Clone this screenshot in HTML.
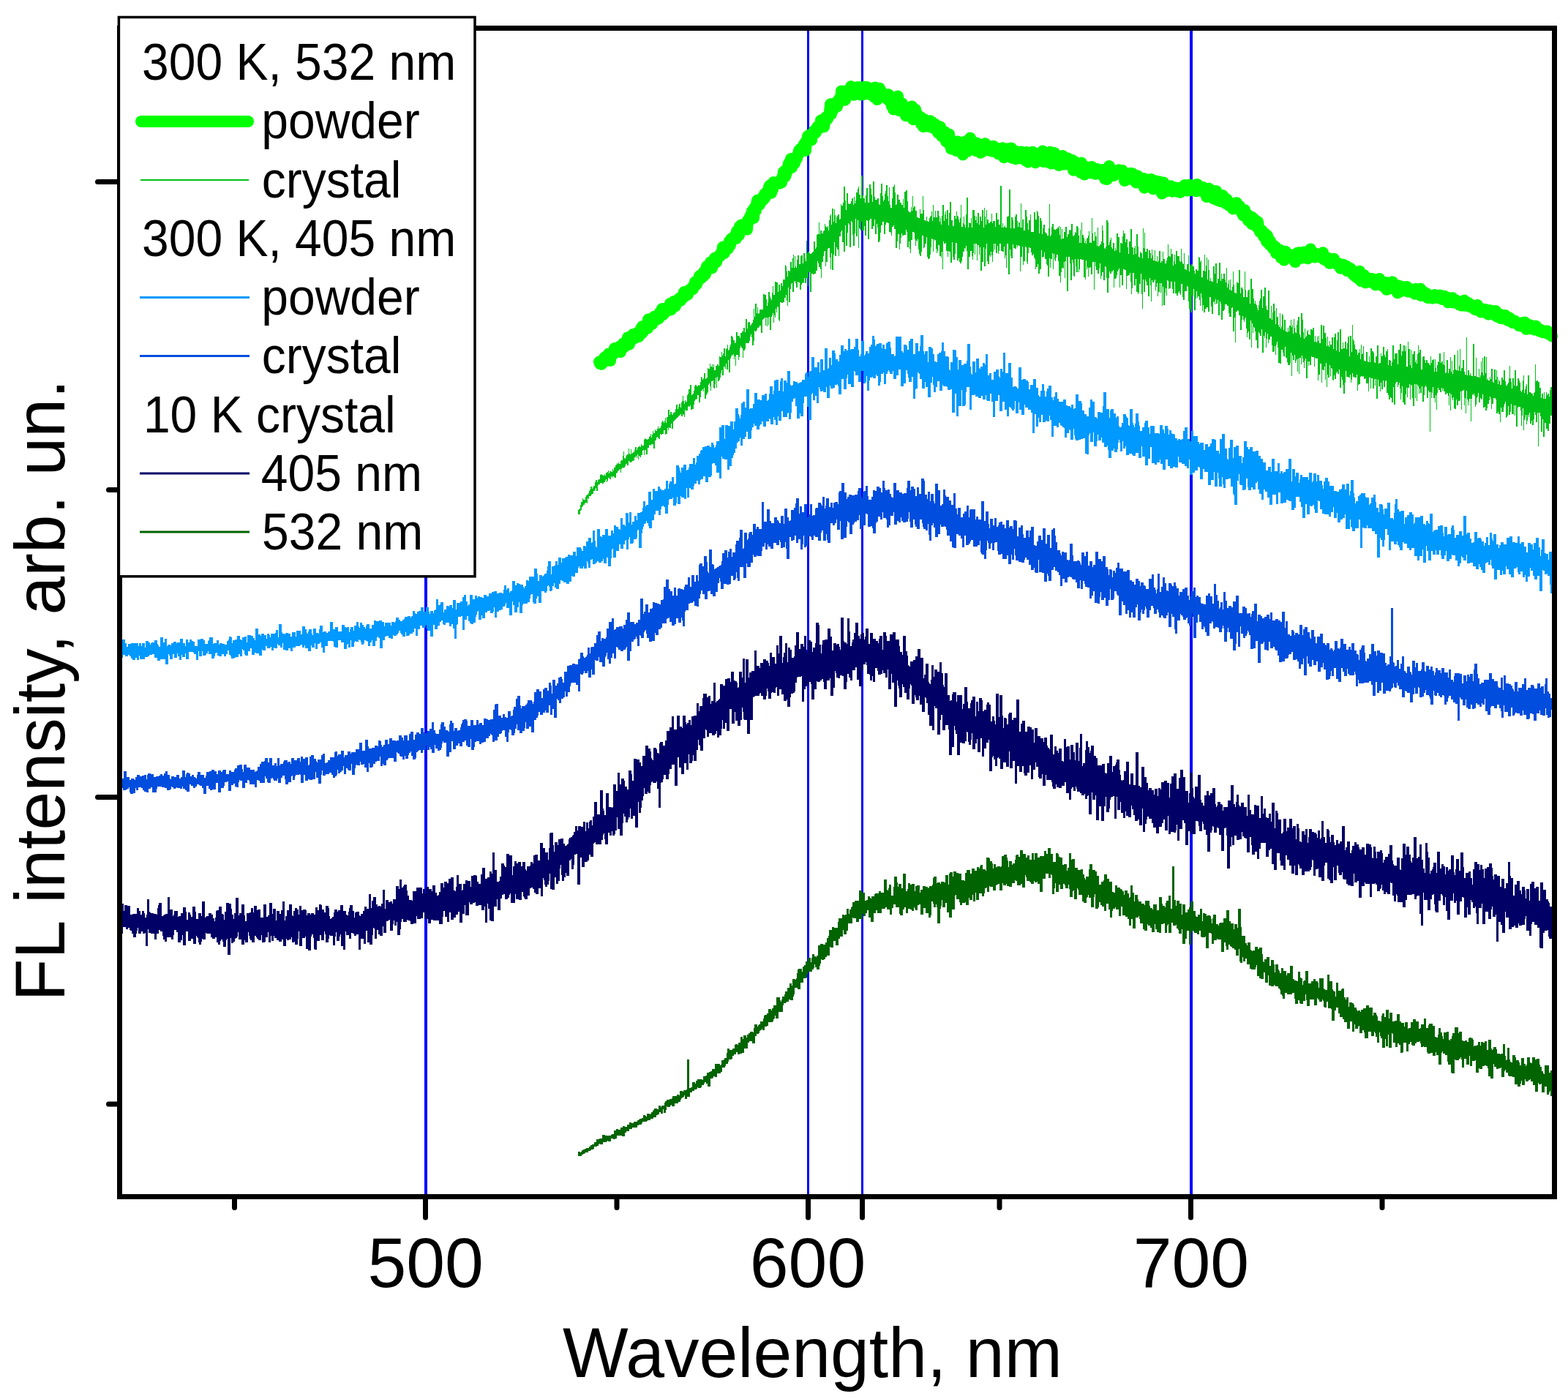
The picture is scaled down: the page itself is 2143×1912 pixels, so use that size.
<!DOCTYPE html>
<html><head><meta charset="utf-8"><title>FL spectra</title>
<style>
html,body{margin:0;padding:0;background:#fff;}
svg{display:block;}
text{font-family:"Liberation Sans",Arial,sans-serif;fill:#000;}
</style></head>
<body>
<svg xmlns="http://www.w3.org/2000/svg" width="2143" height="1912" viewBox="0 0 2143 1912">
<rect x="0" y="0" width="2143" height="1912" fill="#fff"/>
<g fill="#0000FF">
<rect x="580" y="41" width="4" height="1592"/>
<rect x="1103" y="41" width="3" height="1592"/>
<rect x="1177" y="41" width="3" height="1592"/>
<rect x="1626" y="41" width="4" height="1592"/>
</g>
<g>
<path d="M790 697h1V696h1V695h1V690h1V686h1V686h1V681h1V683h1V683h1V683h1V679h1V677h1V676h1V676h1V674h1V671h1V669h1V665h1V665h1V668h1V666h1V664h1V664h1V659h1V656h1V656h1V659h1V656h1V655h1V655h1V649h1V648h1V649h1V649h1V650h1V650h1V648h1V650h1V646h1V646h1V645h1V643h1V647h1V644h1V644h1V645h1V645h1V641h1V643h1V639h1V639h1V636h1V635h1V633h1V634h1V632h1V634h1V634h1V630h1V629h1V629h1V623h1V617h1V626h1V627h1V624h1V622h1V621h1V621h1V613h1V620h1V621h1V614h1V620h1V619h1V618h1V618h1V615h1V611h1V611h1V615h1V612h1V611h1V610h1V610h1V611h1V607h1V609h1V609h1V609h1V601h1V599h1V600h1V600h1V601h1V600h1V600h1V597h1V596h1V593h1V598h1V594h1V589h1V592h1V592h1V587h1V589h1V589h1V586h1V583h1V586h1V585h1V585h1V582h1V577h1V575h1V576h1V578h1V575h1V571h1V578h1V570h1V570h1V560h1V560h1V567h1V563h1V563h1V566h1V567h1V564h1V564h1V563h1V559h1V553h1V553h1V559h1V556h1V552h1V552h1V557h1V550h1V548h1V541h1V548h1V552h1V547h1V549h1V549h1V540h1V538h1V532h1V532h1V526h1V526h1V540h1V539h1V538h1V534h1V528h1V526h1V526h1V528h1V528h1V526h1V527h1V526h1V522h1V515h1V516h1V519h1V517h1V510h1V510h1V518h1V517h1V516h1V503h1V504h1V504h1V497h1V501h1V501h1V498h1V502h1V498h1V506h1V506h1V500h1V500h1V498h1V498h1V500h1V487h1V488h1V488h1V481h1V486h1V483h1V476h1V476h1V487h1V477h1V476h1V471h1V479h1V478h1V474h1V471h1V459h1V459h1V461h1V465h1V465h1V469h1V468h1V454h1V454h1V459h1V459h1V459h1V462h1V455h1V455h1V453h1V453h1V448h1V448h1V454h1V436h1V436h1V449h1V441h1V440h1V440h1V445h1V444h1V442h1V441h1V437h1V422h1V433h1V415h1V415h1V428h1V420h1V429h1V428h1V423h1V423h1V423h1V423h1V423h1V402h1V402h1V403h1V403h1V409h1V418h1V413h1V399h1V399h1V405h1V408h1V410h1V400h1V391h1V403h1V403h1V385h1V385h1V386h1V386h1V399h1V389h1V389h1V397h1V387h1V387h1V391h1V382h1V382h1V382h1V362h1V364h1V371h1V378h1V370h1V370h1V371h1V358h1V358h1V366h1V353h1V348h1V366h1V350h1V364h1V366h1V355h1V349h1V349h1V361h1V361h1V350h1V349h1V349h1V360h1V346h1V346h1V353h1V357h1V329h1V346h1V344h1V344h1V346h1V347h1V347h1V346h1V345h1V344h1V330h1V330h1V340h1V338h1V321h1V320h1V320h1V304h1V320h1V315h1V315h1V319h1V319h1V316h1V315h1V306h1V309h1V310h1V311h1V309h1V315h1V301h1V295h1V293h1V307h1V285h1V285h1V303h1V286h1V294h1V305h1V297h1V295h1V293h1V293h1V300h1V299h1V279h1V281h1V281h1V277h1V255h1V255h1V274h1V287h1V264h1V264h1V278h1V279h1V279h1V278h1V275h1V271h1V271h1V280h1V269h1V278h1V274h1V263h1V263h1V258h1V255h1V266h1V266h1V271h1V240h1V240h1V267h1V271h1V271h1V277h1V267h1V257h1V257h1V277h1V277h1V252h1V252h1V258h1V266h1V276h1V248h1V248h1V269h1V273h1V273h1V273h1V271h1V271h1V279h1V280h1V264h1V251h1V251h1V268h1V275h1V273h1V265h1V261h1V253h1V253h1V268h1V275h1V256h1V280h1V284h1V284h1V271h1V255h1V255h1V252h1V263h1V280h1V279h1V266h1V266h1V273h1V273h1V277h1V277h1V280h1V280h1V272h1V284h1V262h1V262h1V260h1V260h1V275h1V288h1V290h1V290h1V290h1V283h1V288h1V268h1V284h1V282h1V282h1V288h1V288h1V297h1V297h1V298h1V298h1V286h1V292h1V292h1V292h1V268h1V287h1V301h1V301h1V302h1V296h1V302h1V303h1V303h1V298h1V296h1V295h1V289h1V302h1V280h1V297h1V297h1V288h1V297h1V297h1V288h1V288h1V295h1V303h1V298h1V307h1V295h1V280h1V280h1V302h1V293h1V289h1V299h1V287h1V287h1V308h1V291h1V276h1V276h1V301h1V301h1V309h1V309h1V295h1V295h1V299h1V289h1V295h1V296h1V300h1V304h1V298h1V280h1V310h1V310h1V305h1V296h1V307h1V311h1V293h1V270h1V270h1V311h1V304h1V305h1V305h1V298h1V311h1V287h1V287h1V287h1V295h1V301h1V296h1V305h1V291h1V291h1V307h1V296h1V296h1V302h1V287h1V287h1V311h1V284h1V296h1V307h1V287h1V300h1V300h1V305h1V305h1V303h1V303h1V292h1V305h1V302h1V302h1V302h1V310h1V291h1V291h1V300h1V300h1V307h1V307h1V254h1V254h1V311h1V305h1V311h1V310h1V308h1V311h1V311h1V296h1V296h1V295h1V259h1V259h1V312h1V297h1V297h1V301h1V312h1V312h1V296h1V293h1V293h1V302h1V310h1V304h1V304h1V311h1V278h1V311h1V300h1V300h1V315h1V315h1V287h1V287h1V296h1V305h1V314h1V301h1V301h1V293h1V317h1V317h1V317h1V317h1V290h1V290h1V300h1V300h1V288h1V290h1V295h1V319h1V298h1V298h1V302h1V320h1V312h1V307h1V307h1V317h1V319h1V319h1V322h1V322h1V312h1V279h1V323h1V321h1V310h1V306h1V306h1V313h1V314h1V314h1V313h1V313h1V311h1V311h1V309h1V321h1V310h1V327h1V313h1V326h1V326h1V317h1V317h1V310h1V310h1V324h1V320h1V320h1V314h1V315h1V314h1V306h1V306h1V322h1V323h1V321h1V317h1V318h1V309h1V309h1V311h1V322h1V332h1V314h1V332h1V304h1V321h1V321h1V325h1V332h1V329h1V333h1V326h1V325h1V322h1V316h1V332h1V331h1V332h1V298h1V319h1V329h1V329h1V317h1V323h1V323h1V336h1V311h1V337h1V336h1V334h1V334h1V330h1V308h1V315h1V332h1V339h1V340h1V337h1V301h1V301h1V304h1V335h1V331h1V328h1V325h1V338h1V340h1V332h1V332h1V343h1V339h1V342h1V319h1V319h1V324h1V324h1V345h1V332h1V332h1V333h1V323h1V315h1V319h1V319h1V331h1V327h1V327h1V338h1V347h1V330h1V330h1V313h1V313h1V338h1V338h1V348h1V339h1V336h1V347h1V320h1V320h1V337h1V351h1V352h1V344h1V346h1V346h1V353h1V312h1V339h1V318h1V344h1V344h1V340h1V340h1V353h1V342h1V342h1V346h1V353h1V341h1V349h1V356h1V356h1V342h1V357h1V357h1V350h1V358h1V356h1V343h1V343h1V359h1V357h1V357h1V344h1V354h1V354h1V360h1V360h1V356h1V352h1V334h1V350h1V350h1V351h1V340h1V347h1V347h1V363h1V357h1V348h1V361h1V343h1V343h1V350h1V350h1V350h1V357h1V358h1V340h1V357h1V360h1V361h1V346h1V368h1V368h1V369h1V361h1V361h1V349h1V371h1V362h1V363h1V361h1V361h1V364h1V364h1V370h1V374h1V368h1V368h1V370h1V370h1V351h1V352h1V358h1V356h1V379h1V379h1V370h1V370h1V348h1V371h1V363h1V352h1V382h1V355h1V369h1V384h1V380h1V384h1V385h1V385h1V364h1V364h1V374h1V360h1V360h1V387h1V381h1V381h1V359h1V359h1V384h1V374h1V381h1V381h1V374h1V374h1V382h1V386h1V366h1V393h1V388h1V383h1V396h1V382h1V397h1V397h1V392h1V371h1V389h1V400h1V400h1V401h1V386h1V386h1V387h1V369h1V369h1V401h1V393h1V393h1V395h1V406h1V406h1V371h1V396h1V406h1V406h1V398h1V396h1V396h1V415h1V381h1V381h1V395h1V395h1V408h1V415h1V411h1V415h1V417h1V421h1V424h1V417h1V411h1V408h1V396h1V396h1V421h1V405h1V405h1V393h1V393h1V418h1V423h1V424h1V397h1V397h1V435h1V435h1V418h1V437h1V427h1V415h1V415h1V425h1V443h1V421h1V433h1V433h1V444h1V447h1V428h1V449h1V446h1V429h1V431h1V451h1V437h1V437h1V453h1V453h1V454h1V448h1V453h1V445h1V445h1V437h1V447h1V444h1V456h1V436h1V448h1V454h1V455h1V444h1V438h1V433h1V433h1V457h1V461h1V428h1V428h1V437h1V454h1V463h1V449h1V461h1V459h1V453h1V451h1V457h1V457h1V458h1V450h1V450h1V451h1V448h1V448h1V467h1V459h1V467h1V468h1V460h1V466h1V459h1V469h1V469h1V444h1V444h1V463h1V445h1V445h1V455h1V455h1V462h1V473h1V460h1V472h1V474h1V466h1V471h1V471h1V461h1V461h1V477h1V461h1V456h1V456h1V479h1V465h1V454h1V454h1V481h1V450h1V450h1V477h1V477h1V468h1V476h1V476h1V467h1V467h1V477h1V469h1V461h1V459h1V487h1V459h1V459h1V481h1V444h1V464h1V466h1V471h1V477h1V478h1V478h1V485h1V482h1V482h1V477h1V491h1V471h1V484h1V483h1V473h1V493h1V493h1V494h1V481h1V481h1V494h1V495h1V487h1V495h1V476h1V476h1V480h1V480h1V482h1V495h1V496h1V487h1V487h1V472h1V472h1V497h1V496h1V496h1V483h1V487h1V486h1V474h1V474h1V485h1V488h1V480h1V480h1V477h1V499h1V492h1V492h1V493h1V500h1V495h1V472h1V472h1V491h1V483h1V483h1V483h1V483h1V498h1V478h1V478h1V470h1V470h1V486h1V480h1V480h1V472h1V472h1V480h1V473h1V501h1V501h1V467h1V477h1V477h1V499h1V478h1V503h1V484h1V484h1V480h1V480h1V495h1V492h1V497h1V484h1V472h1V482h1V478h1V478h1V505h1V505h1V488h1V487h1V487h1V492h1V496h1V492h1V492h1V496h1V496h1V498h1V499h1V487h1V496h1V492h1V492h1V491h1V508h1V491h1V503h1V508h1V499h1V494h1V495h1V483h1V483h1V496h1V494h1V494h1V498h1V481h1V499h1V510h1V509h1V492h1V492h1V510h1V504h1V504h1V488h1V508h1V493h1V511h1V506h1V485h1V485h1V505h1V506h1V506h1V479h1V507h1V500h1V477h1V507h1V503h1V503h1V492h1V492h1V508h1V512h1V512h1V461h1V513h1V506h1V506h1V513h1V510h1V513h1V514h1V514h1V470h1V470h1V514h1V514h1V489h1V515h1V515h1V516h1V504h1V516h1V513h1V494h1V509h1V489h1V513h1V487h1V487h1V510h1V488h1V519h1V517h1V520h1V520h1V515h1V518h1V504h1V504h1V522h1V523h1V505h1V505h1V519h1V506h1V515h1V525h1V519h1V521h1V526h1V526h1V516h1V516h1V519h1V506h1V506h1V521h1V527h1V527h1V525h1V523h1V517h1V500h1V517h1V522h1V531h1V517h1V517h1V527h1V506h1V506h1V528h1V527h1V517h1V517h1V520h1V523h1V534h1V536h1V533h1V520h1V513h1V537h1V532h1V528h1V525h1V539h1V513h1V513h1V536h1V536h1V537h1V538h1V538h1V541h1V537h1V536h1V498h1V521h1V520h1V520h1V522h1V522h1V530h1V530h1V544h1V538h1V538h1V545h1V536h1V545h1V545h1V536h1V540h1V538h1V538h1V542h1V533h1V529h1V529h1V568h-1V568h-1V579h-1V579h-1V589h-1V589h-1V586h-1V586h-1V578h-1V578h-1V597h-1V597h-1V573h-1V590h-1V590h-1V569h-1V564h-1V564h-1V610h-1V564h-1V577h-1V577h-1V567h-1V563h-1V573h-1V581h-1V581h-1V575h-1V579h-1V579h-1V564h-1V570h-1V567h-1V575h-1V580h-1V567h-1V571h-1V574h-1V588h-1V558h-1V568h-1V582h-1V561h-1V556h-1V556h-1V556h-1V557h-1V583h-1V583h-1V554h-1V568h-1V554h-1V566h-1V566h-1V566h-1V552h-1V563h-1V567h-1V567h-1V555h-1V568h-1V570h-1V571h-1V549h-1V552h-1V556h-1V563h-1V563h-1V563h-1V557h-1V577h-1V566h-1V566h-1V563h-1V565h-1V565h-1V546h-1V544h-1V544h-1V544h-1V552h-1V552h-1V559h-1V545h-1V542h-1V547h-1V552h-1V552h-1V558h-1V561h-1V561h-1V556h-1V557h-1V557h-1V539h-1V545h-1V546h-1V544h-1V550h-1V550h-1V537h-1V542h-1V544h-1V553h-1V556h-1V541h-1V538h-1V540h-1V539h-1V545h-1V576h-1V545h-1V545h-1V549h-1V554h-1V546h-1V534h-1V565h-1V544h-1V554h-1V533h-1V534h-1V534h-1V560h-1V535h-1V547h-1V548h-1V548h-1V554h-1V554h-1V546h-1V559h-1V559h-1V558h-1V543h-1V547h-1V544h-1V539h-1V561h-1V537h-1V554h-1V541h-1V538h-1V537h-1V539h-1V539h-1V535h-1V535h-1V531h-1V534h-1V530h-1V536h-1V536h-1V533h-1V533h-1V530h-1V537h-1V560h-1V540h-1V550h-1V544h-1V544h-1V529h-1V537h-1V544h-1V536h-1V590h-1V536h-1V534h-1V544h-1V544h-1V529h-1V527h-1V529h-1V540h-1V549h-1V549h-1V528h-1V537h-1V537h-1V531h-1V538h-1V528h-1V526h-1V548h-1V525h-1V544h-1V525h-1V555h-1V555h-1V544h-1V527h-1V526h-1V546h-1V525h-1V530h-1V530h-1V543h-1V530h-1V539h-1V553h-1V553h-1V550h-1V550h-1V528h-1V537h-1V546h-1V531h-1V523h-1V526h-1V529h-1V522h-1V522h-1V524h-1V553h-1V553h-1V529h-1V550h-1V550h-1V544h-1V543h-1V546h-1V546h-1V540h-1V537h-1V537h-1V520h-1V521h-1V529h-1V529h-1V520h-1V532h-1V532h-1V523h-1V535h-1V528h-1V528h-1V519h-1V545h-1V545h-1V518h-1V527h-1V518h-1V531h-1V531h-1V517h-1V517h-1V531h-1V516h-1V516h-1V535h-1V524h-1V524h-1V524h-1V517h-1V518h-1V518h-1V514h-1V515h-1V514h-1V514h-1V515h-1V525h-1V525h-1V526h-1V534h-1V512h-1V516h-1V516h-1V516h-1V515h-1V515h-1V510h-1V519h-1V523h-1V512h-1V516h-1V516h-1V515h-1V515h-1V515h-1V507h-1V523h-1V538h-1V538h-1V526h-1V519h-1V515h-1V530h-1V530h-1V505h-1V511h-1V511h-1V508h-1V510h-1V518h-1V518h-1V513h-1V520h-1V519h-1V504h-1V503h-1V514h-1V499h-1V516h-1V516h-1V512h-1V529h-1V496h-1V519h-1V501h-1V506h-1V506h-1V505h-1V523h-1V497h-1V497h-1V512h-1V512h-1V520h-1V490h-1V490h-1V490h-1V489h-1V501h-1V488h-1V488h-1V488h-1V487h-1V499h-1V499h-1V494h-1V500h-1V494h-1V517h-1V517h-1V490h-1V493h-1V503h-1V495h-1V490h-1V486h-1V498h-1V489h-1V489h-1V511h-1V490h-1V508h-1V491h-1V493h-1V496h-1V485h-1V492h-1V492h-1V486h-1V514h-1V482h-1V496h-1V499h-1V499h-1V499h-1V495h-1V489h-1V489h-1V474h-1V487h-1V487h-1V482h-1V478h-1V478h-1V497h-1V497h-1V496h-1V496h-1V475h-1V467h-1V471h-1V485h-1V473h-1V480h-1V481h-1V481h-1V472h-1V460h-1V460h-1V464h-1V464h-1V469h-1V456h-1V463h-1V475h-1V454h-1V462h-1V459h-1V482h-1V482h-1V450h-1V459h-1V459h-1V456h-1V454h-1V476h-1V476h-1V465h-1V465h-1V453h-1V448h-1V447h-1V455h-1V442h-1V475h-1V438h-1V464h-1V464h-1V453h-1V455h-1V461h-1V449h-1V434h-1V436h-1V440h-1V437h-1V432h-1V437h-1V451h-1V451h-1V431h-1V431h-1V425h-1V424h-1V426h-1V426h-1V468h-1V434h-1V453h-1V453h-1V420h-1V421h-1V433h-1V433h-1V433h-1V428h-1V418h-1V418h-1V416h-1V416h-1V416h-1V423h-1V425h-1V425h-1V437h-1V437h-1V415h-1V412h-1V431h-1V431h-1V410h-1V415h-1V415h-1V409h-1V416h-1V412h-1V413h-1V429h-1V429h-1V419h-1V406h-1V406h-1V426h-1V426h-1V420h-1V420h-1V422h-1V422h-1V427h-1V427h-1V417h-1V425h-1V407h-1V401h-1V418h-1V410h-1V405h-1V405h-1V407h-1V398h-1V408h-1V424h-1V424h-1V395h-1V404h-1V404h-1V427h-1V427h-1V422h-1V422h-1V412h-1V392h-1V391h-1V398h-1V398h-1V398h-1V410h-1V410h-1V406h-1V388h-1V388h-1V403h-1V401h-1V398h-1V400h-1V404h-1V404h-1V401h-1V401h-1V385h-1V401h-1V401h-1V395h-1V385h-1V385h-1V394h-1V394h-1V395h-1V384h-1V383h-1V404h-1V394h-1V400h-1V417h-1V417h-1V392h-1V418h-1V387h-1V400h-1V387h-1V399h-1V399h-1V405h-1V387h-1V392h-1V397h-1V382h-1V384h-1V386h-1V386h-1V383h-1V412h-1V390h-1V380h-1V405h-1V405h-1V390h-1V390h-1V385h-1V382h-1V399h-1V399h-1V382h-1V422h-1V402h-1V374h-1V388h-1V388h-1V400h-1V402h-1V399h-1V399h-1V381h-1V390h-1V390h-1V373h-1V373h-1V394h-1V402h-1V385h-1V373h-1V376h-1V376h-1V377h-1V377h-1V395h-1V369h-1V369h-1V368h-1V368h-1V390h-1V390h-1V376h-1V376h-1V393h-1V367h-1V369h-1V371h-1V376h-1V380h-1V381h-1V381h-1V393h-1V369h-1V371h-1V371h-1V374h-1V374h-1V371h-1V380h-1V400h-1V400h-1V380h-1V365h-1V364h-1V383h-1V383h-1V372h-1V372h-1V377h-1V381h-1V360h-1V367h-1V374h-1V374h-1V369h-1V369h-1V364h-1V358h-1V396h-1V358h-1V358h-1V375h-1V375h-1V365h-1V366h-1V366h-1V378h-1V365h-1V368h-1V356h-1V382h-1V379h-1V379h-1V355h-1V355h-1V355h-1V354h-1V354h-1V368h-1V372h-1V354h-1V372h-1V372h-1V364h-1V354h-1V378h-1V377h-1V359h-1V355h-1V383h-1V383h-1V360h-1V351h-1V351h-1V398h-1V398h-1V351h-1V357h-1V380h-1V358h-1V367h-1V366h-1V366h-1V372h-1V386h-1V377h-1V377h-1V357h-1V348h-1V348h-1V352h-1V357h-1V355h-1V347h-1V368h-1V346h-1V354h-1V354h-1V366h-1V353h-1V378h-1V378h-1V363h-1V361h-1V354h-1V354h-1V345h-1V351h-1V351h-1V352h-1V342h-1V368h-1V368h-1V374h-1V374h-1V361h-1V365h-1V365h-1V368h-1V354h-1V352h-1V347h-1V349h-1V349h-1V345h-1V339h-1V339h-1V338h-1V346h-1V361h-1V358h-1V338h-1V337h-1V357h-1V357h-1V362h-1V337h-1V351h-1V351h-1V371h-1V336h-1V336h-1V335h-1V338h-1V335h-1V340h-1V340h-1V339h-1V339h-1V334h-1V353h-1V353h-1V350h-1V341h-1V375h-1V375h-1V333h-1V333h-1V366h-1V349h-1V353h-1V337h-1V344h-1V344h-1V343h-1V343h-1V333h-1V333h-1V343h-1V347h-1V336h-1V346h-1V346h-1V333h-1V341h-1V333h-1V344h-1V358h-1V349h-1V344h-1V351h-1V349h-1V361h-1V361h-1V357h-1V333h-1V340h-1V364h-1V364h-1V338h-1V358h-1V358h-1V370h-1V370h-1V338h-1V348h-1V335h-1V335h-1V356h-1V333h-1V333h-1V348h-1V333h-1V346h-1V355h-1V350h-1V343h-1V343h-1V351h-1V351h-1V368h-1V368h-1V343h-1V336h-1V340h-1V339h-1V344h-1V344h-1V351h-1V357h-1V360h-1V360h-1V358h-1V353h-1V356h-1V356h-1V332h-1V332h-1V347h-1V355h-1V355h-1V351h-1V331h-1V359h-1V359h-1V344h-1V344h-1V343h-1V351h-1V343h-1V343h-1V332h-1V333h-1V333h-1V330h-1V368h-1V344h-1V352h-1V350h-1V350h-1V335h-1V335h-1V343h-1V346h-1V340h-1V328h-1V329h-1V327h-1V344h-1V327h-1V326h-1V338h-1V348h-1V353h-1V354h-1V354h-1V351h-1V324h-1V333h-1V333h-1V338h-1V339h-1V322h-1V322h-1V344h-1V350h-1V350h-1V347h-1V341h-1V327h-1V330h-1V329h-1V336h-1V327h-1V318h-1V317h-1V317h-1V328h-1V328h-1V346h-1V340h-1V330h-1V338h-1V338h-1V317h-1V314h-1V321h-1V321h-1V321h-1V322h-1V322h-1V319h-1V325h-1V333h-1V341h-1V320h-1V320h-1V330h-1V339h-1V339h-1V313h-1V313h-1V308h-1V310h-1V310h-1V322h-1V318h-1V317h-1V317h-1V305h-1V305h-1V304h-1V304h-1V307h-1V320h-1V320h-1V303h-1V303h-1V308h-1V308h-1V318h-1V329h-1V331h-1V331h-1V311h-1V306h-1V320h-1V320h-1V300h-1V309h-1V309h-1V313h-1V313h-1V299h-1V299h-1V301h-1V327h-1V327h-1V302h-1V301h-1V322h-1V322h-1V309h-1V315h-1V315h-1V315h-1V303h-1V315h-1V313h-1V312h-1V339h-1V301h-1V323h-1V323h-1V299h-1V319h-1V336h-1V336h-1V321h-1V304h-1V302h-1V338h-1V338h-1V307h-1V305h-1V318h-1V336h-1V336h-1V308h-1V344h-1V344h-1V331h-1V331h-1V315h-1V317h-1V323h-1V323h-1V350h-1V341h-1V341h-1V338h-1V350h-1V350h-1V331h-1V348h-1V369h-1V369h-1V346h-1V368h-1V352h-1V339h-1V339h-1V340h-1V358h-1V358h-1V364h-1V343h-1V344h-1V350h-1V358h-1V358h-1V380h-1V368h-1V365h-1V365h-1V360h-1V357h-1V370h-1V370h-1V374h-1V374h-1V375h-1V375h-1V374h-1V374h-1V399h-1V399h-1V372h-1V372h-1V391h-1V380h-1V380h-1V387h-1V387h-1V380h-1V387h-1V386h-1V387h-1V389h-1V396h-1V396h-1V386h-1V386h-1V385h-1V393h-1V393h-1V387h-1V384h-1V385h-1V399h-1V399h-1V387h-1V388h-1V395h-1V413h-1V413h-1V393h-1V418h-1V411h-1V403h-1V407h-1V407h-1V413h-1V413h-1V414h-1V414h-1V413h-1V413h-1V439h-1V437h-1V420h-1V419h-1V427h-1V422h-1V434h-1V431h-1V441h-1V428h-1V431h-1V433h-1V451h-1V451h-1V433h-1V444h-1V434h-1V446h-1V434h-1V445h-1V434h-1V435h-1V436h-1V437h-1V455h-1V455h-1V445h-1V445h-1V447h-1V448h-1V448h-1V451h-1V453h-1V453h-1V452h-1V466h-1V472h-1V472h-1V461h-1V457h-1V460h-1V466h-1V469h-1V469h-1V469h-1V469h-1V469h-1V477h-1V479h-1V479h-1V489h-1V476h-1V475h-1V473h-1V476h-1V488h-1V492h-1V485h-1V485h-1V485h-1V500h-1V487h-1V491h-1V484h-1V486h-1V485h-1V487h-1V490h-1V509h-1V509h-1V492h-1V505h-1V505h-1V497h-1V504h-1V501h-1V501h-1V513h-1V513h-1V506h-1V510h-1V516h-1V519h-1V521h-1V521h-1V515h-1V530h-1V516h-1V525h-1V531h-1V530h-1V520h-1V521h-1V521h-1V534h-1V528h-1V524h-1V526h-1V536h-1V538h-1V540h-1V545h-1V545h-1V530h-1V535h-1V532h-1V534h-1V534h-1V543h-1V550h-1V550h-1V540h-1V540h-1V545h-1V546h-1V546h-1V548h-1V553h-1V559h-1V559h-1V560h-1V560h-1V554h-1V556h-1V555h-1V556h-1V561h-1V561h-1V562h-1V560h-1V570h-1V567h-1V566h-1V569h-1V569h-1V566h-1V567h-1V568h-1V569h-1V570h-1V571h-1V572h-1V573h-1V574h-1V575h-1V576h-1V586h-1V586h-1V579h-1V585h-1V585h-1V584h-1V588h-1V585h-1V593h-1V593h-1V594h-1V588h-1V588h-1V593h-1V593h-1V594h-1V594h-1V593h-1V600h-1V600h-1V598h-1V597h-1V598h-1V602h-1V602h-1V613h-1V613h-1V607h-1V607h-1V607h-1V609h-1V608h-1V608h-1V612h-1V612h-1V621h-1V621h-1V615h-1V615h-1V622h-1V615h-1V616h-1V622h-1V622h-1V625h-1V624h-1V623h-1V628h-1V621h-1V626h-1V623h-1V625h-1V625h-1V629h-1V630h-1V630h-1V631h-1V632h-1V632h-1V631h-1V630h-1V636h-1V636h-1V634h-1V634h-1V637h-1V639h-1V639h-1V640h-1V639h-1V641h-1V646h-1V641h-1V642h-1V643h-1V644h-1V646h-1V647h-1V653h-1V653h-1V652h-1V651h-1V651h-1V653h-1V651h-1V655h-1V655h-1V653h-1V653h-1V657h-1V659h-1V655h-1V657h-1V659h-1V659h-1V661h-1V661h-1V660h-1V660h-1V660h-1V662h-1V662h-1V663h-1V671h-1V671h-1V667h-1V669h-1V671h-1V671h-1V675h-1V675h-1V676h-1V678h-1V678h-1V678h-1V682h-1V681h-1V688h-1V687h-1V687h-1V688h-1V690h-1V690h-1V692h-1V693h-1V697h-1V698h-1V703h-1V703h-1V703h-1Z" fill="#00C018"/>
<path d="M166 879h1V874h1V874h1V874h1V874h1V879h1V879h1V884h1V884h1V880h1V880h1V880h1V880h1V879h1V879h1V879h1V879h1V879h1V879h1V879h1V879h1V879h1V879h1V883h1V879h1V879h1V879h1V883h1V879h1V879h1V879h1V879h1V885h1V876h1V876h1V876h1V876h1V878h1V878h1V881h1V879h1V878h1V878h1V878h1V878h1V875h1V875h1V875h1V875h1V880h1V882h1V884h1V884h1V871h1V871h1V871h1V871h1V878h1V878h1V873h1V873h1V873h1V883h1V881h1V881h1V881h1V881h1V882h1V879h1V879h1V879h1V877h1V877h1V877h1V877h1V879h1V878h1V878h1V878h1V878h1V873h1V873h1V873h1V873h1V879h1V879h1V879h1V883h1V874h1V874h1V874h1V878h1V878h1V874h1V874h1V874h1V876h1V876h1V877h1V877h1V883h1V883h1V883h1V883h1V874h1V874h1V874h1V874h1V873h1V873h1V873h1V873h1V875h1V875h1V880h1V880h1V880h1V880h1V876h1V875h1V871h1V871h1V871h1V871h1V871h1V880h1V879h1V879h1V879h1V879h1V875h1V875h1V875h1V881h1V879h1V879h1V879h1V879h1V880h1V880h1V880h1V881h1V881h1V881h1V876h1V876h1V874h1V870h1V870h1V870h1V871h1V879h1V875h1V875h1V875h1V874h1V874h1V874h1V869h1V869h1V869h1V869h1V874h1V874h1V875h1V871h1V871h1V871h1V870h1V870h1V870h1V878h1V868h1V868h1V868h1V868h1V868h1V869h1V869h1V869h1V872h1V872h1V875h1V859h1V859h1V859h1V859h1V867h1V867h1V867h1V869h1V866h1V866h1V866h1V866h1V868h1V868h1V868h1V873h1V866h1V866h1V866h1V868h1V871h1V866h1V866h1V866h1V866h1V866h1V866h1V865h1V861h1V861h1V861h1V871h1V853h1V853h1V853h1V853h1V864h1V866h1V866h1V866h1V867h1V865h1V865h1V865h1V865h1V866h1V866h1V866h1V870h1V870h1V864h1V864h1V864h1V864h1V864h1V870h1V862h1V862h1V862h1V862h1V862h1V862h1V867h1V867h1V856h1V856h1V856h1V856h1V860h1V860h1V865h1V866h1V863h1V860h1V860h1V860h1V860h1V866h1V868h1V859h1V859h1V859h1V859h1V865h1V865h1V865h1V866h1V860h1V855h1V855h1V855h1V855h1V864h1V863h1V863h1V863h1V863h1V865h1V865h1V863h1V863h1V863h1V850h1V850h1V850h1V850h1V860h1V860h1V860h1V857h1V857h1V857h1V857h1V863h1V863h1V863h1V863h1V863h1V854h1V854h1V854h1V854h1V857h1V857h1V858h1V857h1V857h1V857h1V864h1V860h1V857h1V857h1V857h1V857h1V862h1V855h1V855h1V855h1V850h1V850h1V850h1V856h1V858h1V851h1V851h1V851h1V854h1V854h1V857h1V857h1V859h1V855h1V853h1V853h1V853h1V853h1V859h1V859h1V859h1V854h1V854h1V854h1V848h1V848h1V848h1V849h1V849h1V849h1V849h1V848h1V848h1V848h1V848h1V850h1V850h1V850h1V856h1V851h1V851h1V851h1V851h1V851h1V851h1V851h1V851h1V855h1V850h1V850h1V850h1V850h1V851h1V849h1V844h1V844h1V844h1V844h1V847h1V847h1V849h1V849h1V849h1V847h1V847h1V846h1V843h1V843h1V843h1V843h1V842h1V842h1V842h1V842h1V844h1V842h1V842h1V835h1V835h1V835h1V838h1V839h1V839h1V836h1V836h1V835h1V835h1V835h1V830h1V830h1V830h1V830h1V836h1V836h1V836h1V830h1V830h1V830h1V830h1V836h1V839h1V835h1V835h1V835h1V835h1V838h1V834h1V834h1V833h1V819h1V819h1V819h1V827h1V827h1V826h1V823h1V823h1V823h1V823h1V837h1V833h1V833h1V833h1V828h1V828h1V828h1V829h1V827h1V827h1V827h1V827h1V831h1V820h1V820h1V820h1V820h1V833h1V824h1V824h1V824h1V824h1V824h1V822h1V822h1V822h1V816h1V816h1V813h1V813h1V813h1V822h1V822h1V828h1V826h1V826h1V813h1V813h1V813h1V813h1V819h1V819h1V819h1V814h1V814h1V814h1V817h1V815h1V815h1V815h1V816h1V816h1V816h1V817h1V817h1V813h1V813h1V813h1V813h1V815h1V815h1V815h1V811h1V811h1V811h1V811h1V809h1V809h1V809h1V808h1V808h1V808h1V808h1V811h1V811h1V811h1V810h1V810h1V810h1V810h1V811h1V811h1V806h1V800h1V800h1V800h1V806h1V804h1V804h1V804h1V810h1V808h1V808h1V807h1V794h1V794h1V794h1V794h1V800h1V800h1V797h1V797h1V797h1V798h1V798h1V799h1V799h1V799h1V799h1V802h1V804h1V801h1V801h1V793h1V793h1V793h1V794h1V788h1V788h1V788h1V788h1V788h1V788h1V788h1V777h1V777h1V777h1V777h1V784h1V794h1V794h1V786h1V786h1V786h1V786h1V788h1V787h1V786h1V784h1V784h1V784h1V780h1V774h1V767h1V767h1V767h1V767h1V785h1V774h1V774h1V774h1V773h1V773h1V767h1V767h1V767h1V772h1V762h1V762h1V762h1V762h1V769h1V763h1V763h1V763h1V763h1V762h1V761h1V761h1V761h1V758h1V758h1V758h1V759h1V759h1V759h1V759h1V754h1V754h1V754h1V754h1V760h1V748h1V748h1V748h1V748h1V748h1V748h1V750h1V753h1V753h1V746h1V746h1V746h1V747h1V740h1V740h1V740h1V735h1V735h1V735h1V735h1V742h1V741h1V725h1V725h1V725h1V739h1V747h1V748h1V723h1V723h1V723h1V723h1V733h1V733h1V734h1V731h1V731h1V731h1V731h1V723h1V723h1V723h1V723h1V732h1V732h1V732h1V732h1V725h1V725h1V725h1V729h1V718h1V718h1V718h1V720h1V720h1V720h1V723h1V723h1V724h1V708h1V708h1V708h1V717h1V717h1V717h1V719h1V701h1V701h1V701h1V702h1V714h1V700h1V700h1V700h1V717h1V713h1V713h1V713h1V705h1V705h1V705h1V711h1V701h1V701h1V701h1V701h1V700h1V700h1V699h1V694h1V685h1V685h1V685h1V692h1V690h1V690h1V690h1V672h1V672h1V672h1V672h1V683h1V683h1V668h1V668h1V668h1V671h1V671h1V671h1V671h1V665h1V665h1V665h1V668h1V668h1V670h1V670h1V670h1V670h1V668h1V668h1V657h1V657h1V657h1V668h1V661h1V658h1V658h1V658h1V652h1V652h1V652h1V662h1V661h1V661h1V636h1V636h1V636h1V636h1V639h1V643h1V646h1V639h1V639h1V639h1V635h1V635h1V635h1V635h1V643h1V642h1V642h1V639h1V634h1V634h1V634h1V634h1V634h1V626h1V626h1V626h1V635h1V632h1V623h1V623h1V623h1V620h1V620h1V616h1V615h1V615h1V611h1V611h1V611h1V610h1V610h1V610h1V609h1V609h1V609h1V609h1V611h1V611h1V605h1V605h1V605h1V608h1V612h1V611h1V608h1V603h1V603h1V603h1V603h1V584h1V584h1V584h1V581h1V581h1V581h1V581h1V600h1V581h1V581h1V581h1V581h1V582h1V582h1V582h1V576h1V576h1V576h1V576h1V587h1V576h1V576h1V558h1V558h1V558h1V558h1V566h1V569h1V572h1V567h1V551h1V551h1V549h1V549h1V549h1V557h1V557h1V532h1V532h1V532h1V532h1V559h1V558h1V558h1V558h1V558h1V552h1V552h1V537h1V537h1V537h1V537h1V546h1V546h1V546h1V546h1V547h1V547h1V540h1V540h1V540h1V540h1V538h1V538h1V538h1V548h1V547h1V546h1V538h1V528h1V528h1V528h1V528h1V539h1V534h1V520h1V520h1V519h1V519h1V519h1V519h1V534h1V534h1V521h1V517h1V517h1V517h1V535h1V520h1V520h1V520h1V520h1V523h1V507h1V507h1V507h1V507h1V526h1V527h1V527h1V526h1V521h1V521h1V521h1V522h1V522h1V522h1V524h1V524h1V523h1V523h1V522h1V522h1V519h1V519h1V519h1V519h1V511h1V509h1V509h1V509h1V515h1V508h1V508h1V507h1V507h1V488h1V488h1V488h1V488h1V502h1V502h1V502h1V502h1V495h1V495h1V495h1V509h1V491h1V491h1V491h1V491h1V506h1V506h1V476h1V476h1V476h1V476h1V504h1V503h1V489h1V489h1V489h1V499h1V479h1V479h1V479h1V479h1V483h1V491h1V491h1V491h1V494h1V494h1V485h1V485h1V472h1V472h1V472h1V472h1V480h1V477h1V477h1V477h1V479h1V479h1V463h1V463h1V463h1V478h1V477h1V477h1V477h1V477h1V474h1V474h1V463h1V463h1V463h1V463h1V478h1V487h1V487h1V484h1V466h1V466h1V466h1V466h1V486h1V484h1V480h1V480h1V480h1V483h1V483h1V474h1V474h1V471h1V471h1V459h1V459h1V459h1V464h1V473h1V472h1V470h1V470h1V470h1V469h1V469h1V469h1V469h1V476h1V471h1V471h1V471h1V477h1V477h1V469h1V469h1V467h1V467h1V467h1V467h1V475h1V484h1V484h1V484h1V484h1V487h1V486h1V460h1V460h1V460h1V460h1V460h1V460h1V460h1V460h1V480h1V480h1V482h1V471h1V471h1V471h1V471h1V473h1V478h1V478h1V466h1V466h1V463h1V463h1V463h1V463h1V484h1V484h1V484h1V469h1V469h1V469h1V469h1V480h1V480h1V473h1V458h1V458h1V458h1V458h1V480h1V484h1V480h1V480h1V480h1V480h1V495h1V474h1V474h1V474h1V474h1V476h1V476h1V484h1V484h1V494h1V494h1V495h1V495h1V484h1V484h1V482h1V482h1V482h1V480h1V468h1V468h1V468h1V480h1V480h1V487h1V487h1V487h1V487h1V488h1V505h1V506h1V495h1V495h1V495h1V478h1V478h1V478h1V478h1V479h1V488h1V488h1V505h1V492h1V492h1V492h1V492h1V499h1V499h1V499h1V497h1V497h1V497h1V497h1V493h1V470h1V470h1V470h1V470h1V501h1V510h1V512h1V494h1V494h1V494h1V494h1V509h1V490h1V490h1V490h1V490h1V503h1V504h1V501h1V501h1V501h1V496h1V496h1V496h1V498h1V484h1V484h1V484h1V513h1V513h1V510h1V510h1V510h1V519h1V519h1V519h1V508h1V508h1V508h1V505h1V505h1V505h1V505h1V514h1V516h1V504h1V504h1V504h1V508h1V482h1V482h1V482h1V510h1V510h1V510h1V510h1V496h1V496h1V496h1V496h1V516h1V516h1V529h1V528h1V528h1V528h1V528h1V529h1V531h1V531h1V502h1V502h1V502h1V502h1V519h1V519h1V518h1V518h1V518h1V518h1V520h1V520h1V520h1V522h1V532h1V532h1V526h1V526h1V526h1V526h1V518h1V518h1V518h1V518h1V530h1V530h1V530h1V540h1V542h1V542h1V534h1V534h1V525h1V525h1V525h1V534h1V542h1V542h1V535h1V531h1V531h1V527h1V527h1V527h1V527h1V543h1V543h1V547h1V542h1V542h1V536h1V536h1V536h1V545h1V545h1V549h1V549h1V549h1V549h1V549h1V549h1V546h1V546h1V546h1V546h1V554h1V554h1V555h1V555h1V555h1V555h1V557h1V553h1V553h1V553h1V559h1V558h1V558h1V539h1V539h1V539h1V539h1V548h1V548h1V548h1V548h1V551h1V561h1V561h1V561h1V566h1V566h1V566h1V569h1V569h1V569h1V557h1V557h1V546h1V546h1V546h1V549h1V549h1V549h1V570h1V570h1V570h1V572h1V563h1V563h1V563h1V563h1V564h1V564h1V564h1V555h1V536h1V536h1V536h1V536h1V559h1V559h1V559h1V559h1V571h1V561h1V559h1V559h1V559h1V559h1V565h1V565h1V565h1V571h1V569h1V569h1V569h1V582h1V584h1V584h1V583h1V578h1V578h1V566h1V566h1V566h1V566h1V569h1V571h1V571h1V581h1V582h1V559h1V559h1V559h1V559h1V578h1V581h1V584h1V579h1V565h1V565h1V565h1V565h1V576h1V582h1V589h1V589h1V589h1V584h1V584h1V584h1V578h1V575h1V575h1V575h1V575h1V584h1V584h1V593h1V582h1V582h1V582h1V582h1V582h1V582h1V592h1V592h1V592h1V592h1V592h1V592h1V593h1V581h1V581h1V581h1V581h1V587h1V587h1V592h1V582h1V582h1V582h1V582h1V586h1V594h1V588h1V588h1V588h1V592h1V593h1V593h1V593h1V594h1V599h1V599h1V599h1V602h1V600h1V600h1V600h1V601h1V601h1V600h1V600h1V589h1V589h1V584h1V584h1V584h1V584h1V600h1V600h1V600h1V603h1V603h1V589h1V589h1V589h1V596h1V596h1V596h1V596h1V596h1V596h1V604h1V604h1V607h1V605h1V605h1V605h1V605h1V605h1V615h1V615h1V607h1V607h1V607h1V607h1V611h1V610h1V610h1V606h1V606h1V600h1V600h1V600h1V600h1V601h1V601h1V616h1V616h1V616h1V616h1V620h1V600h1V600h1V600h1V593h1V593h1V593h1V593h1V613h1V613h1V613h1V627h1V628h1V612h1V612h1V601h1V601h1V601h1V601h1V626h1V611h1V611h1V611h1V609h1V609h1V609h1V609h1V623h1V623h1V623h1V623h1V633h1V625h1V625h1V603h1V603h1V603h1V603h1V611h1V611h1V614h1V614h1V611h1V611h1V611h1V611h1V617h1V617h1V617h1V617h1V616h1V616h1V616h1V616h1V623h1V623h1V623h1V627h1V627h1V627h1V632h1V632h1V632h1V632h1V643h1V643h1V643h1V638h1V638h1V638h1V638h1V645h1V627h1V627h1V627h1V627h1V644h1V644h1V644h1V644h1V633h1V633h1V633h1V647h1V644h1V644h1V644h1V647h1V645h1V645h1V645h1V641h1V641h1V641h1V641h1V627h1V627h1V627h1V627h1V658h1V641h1V641h1V641h1V641h1V651h1V646h1V646h1V646h1V646h1V660h1V655h1V649h1V649h1V649h1V652h1V652h1V652h1V652h1V652h1V652h1V652h1V652h1V656h1V646h1V646h1V646h1V646h1V659h1V657h1V647h1V647h1V647h1V647h1V658h1V649h1V649h1V649h1V657h1V657h1V657h1V657h1V663h1V668h1V658h1V658h1V653h1V653h1V653h1V653h1V658h1V658h1V664h1V664h1V664h1V664h1V664h1V664h1V671h1V671h1V671h1V671h1V672h1V672h1V672h1V669h1V669h1V669h1V668h1V662h1V662h1V662h1V662h1V669h1V669h1V661h1V661h1V661h1V661h1V677h1V671h1V656h1V656h1V656h1V656h1V674h1V680h1V688h1V685h1V685h1V685h1V678h1V678h1V676h1V676h1V674h1V674h1V674h1V674h1V674h1V674h1V679h1V680h1V680h1V680h1V680h1V690h1V688h1V688h1V680h1V680h1V680h1V676h1V676h1V676h1V686h1V694h1V694h1V694h1V700h1V689h1V689h1V689h1V689h1V690h1V696h1V703h1V695h1V695h1V695h1V695h1V687h1V687h1V687h1V687h1V708h1V708h1V708h1V708h1V710h1V701h1V689h1V682h1V682h1V682h1V696h1V696h1V699h1V699h1V699h1V698h1V698h1V698h1V698h1V716h1V707h1V707h1V707h1V704h1V704h1V704h1V700h1V700h1V700h1V700h1V703h1V703h1V716h1V714h1V707h1V707h1V707h1V707h1V707h1V707h1V707h1V705h1V705h1V705h1V705h1V716h1V716h1V716h1V718h1V712h1V712h1V712h1V715h1V716h1V702h1V702h1V702h1V702h1V727h1V725h1V725h1V724h1V724h1V724h1V724h1V719h1V719h1V719h1V718h1V718h1V718h1V718h1V728h1V733h1V720h1V720h1V720h1V720h1V731h1V730h1V730h1V730h1V730h1V721h1V718h1V718h1V718h1V724h1V735h1V735h1V731h1V731h1V731h1V731h1V726h1V726h1V726h1V726h1V732h1V732h1V705h1V705h1V705h1V705h1V730h1V728h1V728h1V728h1V728h1V736h1V736h1V742h1V742h1V741h1V741h1V727h1V727h1V727h1V727h1V736h1V735h1V735h1V735h1V735h1V737h1V740h1V740h1V740h1V746h1V742h1V742h1V734h1V734h1V734h1V745h1V745h1V728h1V728h1V728h1V736h1V739h1V730h1V730h1V730h1V730h1V744h1V744h1V744h1V749h1V745h1V745h1V741h1V741h1V741h1V741h1V744h1V744h1V744h1V744h1V735h1V735h1V735h1V735h1V733h1V733h1V733h1V733h1V741h1V741h1V741h1V741h1V742h1V742h1V742h1V733h1V733h1V733h1V743h1V743h1V741h1V741h1V741h1V741h1V747h1V747h1V747h1V755h1V755h1V742h1V742h1V742h1V742h1V744h1V744h1V744h1V751h1V742h1V742h1V742h1V735h1V735h1V735h1V735h1V748h1V748h1V760h1V751h1V737h1V737h1V737h1V737h1V756h1V756h1V757h1V757h1V757h1V765h1V754h1V754h1V754h1V754h1V811h-1V811h-1V799h-1V787h-1V787h-1V787h-1V784h-1V785h-1V785h-1V785h-1V780h-1V780h-1V779h-1V808h-1V808h-1V808h-1V808h-1V787h-1V787h-1V787h-1V792h-1V792h-1V792h-1V792h-1V787h-1V787h-1V780h-1V780h-1V780h-1V776h-1V788h-1V788h-1V788h-1V795h-1V795h-1V795h-1V786h-1V789h-1V789h-1V789h-1V781h-1V781h-1V781h-1V785h-1V785h-1V785h-1V782h-1V775h-1V776h-1V777h-1V777h-1V777h-1V789h-1V789h-1V789h-1V789h-1V785h-1V785h-1V785h-1V778h-1V778h-1V778h-1V774h-1V785h-1V785h-1V785h-1V785h-1V780h-1V786h-1V786h-1V786h-1V779h-1V779h-1V779h-1V779h-1V792h-1V792h-1V792h-1V792h-1V777h-1V777h-1V777h-1V773h-1V765h-1V772h-1V772h-1V772h-1V768h-1V769h-1V769h-1V770h-1V783h-1V783h-1V783h-1V783h-1V779h-1V779h-1V775h-1V775h-1V771h-1V778h-1V778h-1V778h-1V778h-1V774h-1V774h-1V774h-1V774h-1V769h-1V769h-1V769h-1V769h-1V770h-1V770h-1V770h-1V770h-1V758h-1V766h-1V766h-1V766h-1V766h-1V762h-1V762h-1V760h-1V770h-1V770h-1V774h-1V774h-1V774h-1V766h-1V766h-1V766h-1V759h-1V759h-1V759h-1V759h-1V758h-1V764h-1V764h-1V764h-1V767h-1V767h-1V767h-1V767h-1V753h-1V759h-1V759h-1V764h-1V764h-1V764h-1V764h-1V759h-1V752h-1V752h-1V758h-1V758h-1V758h-1V758h-1V752h-1V758h-1V758h-1V758h-1V758h-1V753h-1V753h-1V766h-1V766h-1V766h-1V766h-1V753h-1V753h-1V746h-1V769h-1V769h-1V769h-1V769h-1V751h-1V760h-1V760h-1V760h-1V760h-1V766h-1V766h-1V766h-1V760h-1V760h-1V760h-1V760h-1V749h-1V749h-1V749h-1V749h-1V752h-1V752h-1V752h-1V749h-1V749h-1V749h-1V743h-1V743h-1V743h-1V743h-1V741h-1V741h-1V752h-1V752h-1V752h-1V752h-1V748h-1V745h-1V745h-1V740h-1V744h-1V744h-1V744h-1V744h-1V740h-1V740h-1V740h-1V740h-1V752h-1V752h-1V752h-1V731h-1V731h-1V723h-1V723h-1V723h-1V738h-1V747h-1V747h-1V747h-1V738h-1V738h-1V735h-1V762h-1V762h-1V762h-1V762h-1V730h-1V730h-1V730h-1V726h-1V726h-1V726h-1V726h-1V722h-1V722h-1V722h-1V722h-1V722h-1V722h-1V718h-1V722h-1V722h-1V722h-1V722h-1V721h-1V721h-1V749h-1V749h-1V749h-1V710h-1V710h-1V722h-1V722h-1V722h-1V722h-1V722h-1V726h-1V726h-1V726h-1V726h-1V721h-1V720h-1V710h-1V723h-1V723h-1V723h-1V723h-1V723h-1V723h-1V703h-1V708h-1V708h-1V708h-1V710h-1V710h-1V710h-1V714h-1V714h-1V714h-1V714h-1V701h-1V708h-1V708h-1V708h-1V708h-1V693h-1V700h-1V700h-1V700h-1V706h-1V706h-1V706h-1V703h-1V703h-1V703h-1V703h-1V703h-1V703h-1V702h-1V702h-1V702h-1V696h-1V696h-1V696h-1V685h-1V685h-1V684h-1V701h-1V701h-1V701h-1V701h-1V696h-1V690h-1V690h-1V692h-1V692h-1V692h-1V691h-1V703h-1V703h-1V703h-1V703h-1V689h-1V689h-1V708h-1V708h-1V708h-1V708h-1V693h-1V693h-1V686h-1V686h-1V679h-1V679h-1V679h-1V679h-1V679h-1V694h-1V694h-1V697h-1V697h-1V697h-1V697h-1V685h-1V685h-1V685h-1V684h-1V684h-1V683h-1V683h-1V687h-1V687h-1V687h-1V687h-1V688h-1V688h-1V688h-1V688h-1V673h-1V673h-1V673h-1V689h-1V689h-1V689h-1V676h-1V676h-1V676h-1V676h-1V676h-1V690h-1V690h-1V690h-1V690h-1V680h-1V680h-1V680h-1V672h-1V672h-1V672h-1V669h-1V669h-1V683h-1V683h-1V683h-1V675h-1V675h-1V675h-1V669h-1V669h-1V658h-1V660h-1V660h-1V669h-1V669h-1V669h-1V669h-1V666h-1V666h-1V670h-1V670h-1V670h-1V670h-1V666h-1V654h-1V654h-1V669h-1V669h-1V670h-1V670h-1V670h-1V663h-1V663h-1V663h-1V662h-1V648h-1V657h-1V657h-1V690h-1V690h-1V690h-1V690h-1V677h-1V675h-1V665h-1V665h-1V665h-1V654h-1V654h-1V654h-1V655h-1V655h-1V655h-1V655h-1V667h-1V667h-1V667h-1V662h-1V652h-1V665h-1V665h-1V665h-1V665h-1V654h-1V646h-1V665h-1V665h-1V665h-1V665h-1V645h-1V656h-1V656h-1V656h-1V656h-1V663h-1V663h-1V663h-1V663h-1V645h-1V645h-1V645h-1V645h-1V645h-1V641h-1V641h-1V655h-1V655h-1V655h-1V655h-1V639h-1V638h-1V638h-1V643h-1V643h-1V643h-1V643h-1V646h-1V646h-1V646h-1V649h-1V649h-1V649h-1V649h-1V628h-1V640h-1V640h-1V640h-1V637h-1V637h-1V637h-1V634h-1V634h-1V634h-1V634h-1V632h-1V632h-1V632h-1V632h-1V624h-1V639h-1V639h-1V639h-1V639h-1V638h-1V638h-1V638h-1V640h-1V640h-1V640h-1V640h-1V637h-1V637h-1V637h-1V628h-1V628h-1V628h-1V642h-1V642h-1V642h-1V642h-1V634h-1V634h-1V634h-1V628h-1V632h-1V632h-1V632h-1V632h-1V635h-1V635h-1V635h-1V633h-1V633h-1V633h-1V633h-1V611h-1V611h-1V627h-1V627h-1V627h-1V636h-1V636h-1V636h-1V636h-1V624h-1V624h-1V624h-1V624h-1V610h-1V626h-1V626h-1V626h-1V626h-1V619h-1V619h-1V619h-1V619h-1V623h-1V623h-1V623h-1V623h-1V621h-1V620h-1V620h-1V620h-1V620h-1V622h-1V622h-1V622h-1V622h-1V610h-1V613h-1V613h-1V613h-1V603h-1V617h-1V617h-1V617h-1V605h-1V601h-1V605h-1V614h-1V618h-1V618h-1V618h-1V618h-1V613h-1V616h-1V616h-1V616h-1V626h-1V626h-1V626h-1V626h-1V615h-1V609h-1V611h-1V611h-1V611h-1V611h-1V605h-1V605h-1V605h-1V598h-1V602h-1V602h-1V602h-1V602h-1V594h-1V603h-1V610h-1V610h-1V610h-1V610h-1V591h-1V604h-1V604h-1V604h-1V604h-1V592h-1V595h-1V621h-1V621h-1V621h-1V620h-1V620h-1V599h-1V599h-1V599h-1V600h-1V600h-1V600h-1V601h-1V601h-1V601h-1V602h-1V602h-1V602h-1V602h-1V600h-1V595h-1V586h-1V601h-1V601h-1V601h-1V601h-1V588h-1V587h-1V592h-1V592h-1V592h-1V598h-1V598h-1V598h-1V585h-1V584h-1V584h-1V582h-1V582h-1V581h-1V578h-1V578h-1V584h-1V584h-1V584h-1V582h-1V582h-1V582h-1V582h-1V597h-1V597h-1V597h-1V574h-1V574h-1V568h-1V576h-1V576h-1V576h-1V575h-1V575h-1V577h-1V577h-1V577h-1V577h-1V567h-1V567h-1V577h-1V577h-1V577h-1V571h-1V583h-1V583h-1V583h-1V566h-1V566h-1V592h-1V592h-1V592h-1V564h-1V564h-1V560h-1V560h-1V560h-1V560h-1V557h-1V557h-1V557h-1V557h-1V553h-1V567h-1V567h-1V567h-1V567h-1V560h-1V560h-1V560h-1V550h-1V565h-1V565h-1V565h-1V565h-1V548h-1V559h-1V561h-1V561h-1V561h-1V559h-1V557h-1V557h-1V556h-1V569h-1V569h-1V569h-1V560h-1V560h-1V560h-1V549h-1V549h-1V549h-1V562h-1V562h-1V562h-1V562h-1V540h-1V540h-1V548h-1V548h-1V548h-1V548h-1V570h-1V570h-1V570h-1V549h-1V549h-1V538h-1V538h-1V548h-1V548h-1V548h-1V548h-1V547h-1V540h-1V546h-1V546h-1V546h-1V546h-1V541h-1V541h-1V544h-1V544h-1V544h-1V544h-1V542h-1V542h-1V542h-1V542h-1V539h-1V540h-1V540h-1V540h-1V540h-1V560h-1V560h-1V560h-1V529h-1V529h-1V529h-1V529h-1V536h-1V553h-1V555h-1V555h-1V555h-1V555h-1V533h-1V555h-1V555h-1V555h-1V555h-1V569h-1V569h-1V569h-1V538h-1V538h-1V564h-1V564h-1V564h-1V564h-1V532h-1V532h-1V533h-1V533h-1V533h-1V533h-1V529h-1V528h-1V528h-1V528h-1V528h-1V528h-1V526h-1V534h-1V534h-1V534h-1V534h-1V521h-1V521h-1V521h-1V529h-1V529h-1V536h-1V536h-1V536h-1V526h-1V515h-1V523h-1V523h-1V543h-1V543h-1V543h-1V543h-1V529h-1V529h-1V529h-1V522h-1V531h-1V531h-1V531h-1V531h-1V518h-1V518h-1V518h-1V511h-1V510h-1V509h-1V531h-1V531h-1V532h-1V545h-1V545h-1V545h-1V515h-1V515h-1V522h-1V522h-1V522h-1V522h-1V516h-1V511h-1V506h-1V506h-1V524h-1V524h-1V524h-1V528h-1V528h-1V528h-1V528h-1V505h-1V505h-1V505h-1V513h-1V513h-1V513h-1V518h-1V518h-1V518h-1V518h-1V507h-1V511h-1V511h-1V511h-1V511h-1V508h-1V506h-1V508h-1V511h-1V511h-1V525h-1V525h-1V525h-1V509h-1V511h-1V511h-1V511h-1V522h-1V527h-1V527h-1V527h-1V514h-1V514h-1V512h-1V517h-1V517h-1V517h-1V517h-1V515h-1V516h-1V516h-1V516h-1V520h-1V534h-1V534h-1V534h-1V514h-1V522h-1V524h-1V524h-1V524h-1V507h-1V507h-1V507h-1V522h-1V522h-1V522h-1V522h-1V513h-1V513h-1V513h-1V513h-1V508h-1V507h-1V529h-1V529h-1V529h-1V529h-1V525h-1V525h-1V525h-1V525h-1V512h-1V517h-1V532h-1V532h-1V532h-1V532h-1V518h-1V518h-1V518h-1V539h-1V539h-1V539h-1V539h-1V528h-1V525h-1V526h-1V526h-1V526h-1V530h-1V530h-1V531h-1V531h-1V531h-1V531h-1V527h-1V544h-1V544h-1V544h-1V544h-1V529h-1V536h-1V536h-1V536h-1V536h-1V534h-1V535h-1V535h-1V535h-1V532h-1V529h-1V551h-1V551h-1V551h-1V541h-1V541h-1V547h-1V547h-1V547h-1V537h-1V539h-1V574h-1V574h-1V574h-1V574h-1V556h-1V556h-1V542h-1V542h-1V542h-1V542h-1V551h-1V569h-1V569h-1V569h-1V569h-1V565h-1V572h-1V572h-1V572h-1V572h-1V555h-1V555h-1V544h-1V545h-1V545h-1V549h-1V549h-1V564h-1V573h-1V573h-1V573h-1V564h-1V565h-1V570h-1V570h-1V570h-1V570h-1V570h-1V570h-1V562h-1V562h-1V575h-1V575h-1V575h-1V575h-1V569h-1V581h-1V581h-1V581h-1V574h-1V574h-1V570h-1V580h-1V580h-1V580h-1V580h-1V573h-1V572h-1V576h-1V576h-1V576h-1V576h-1V583h-1V583h-1V583h-1V583h-1V576h-1V576h-1V580h-1V580h-1V582h-1V587h-1V587h-1V587h-1V587h-1V582h-1V582h-1V582h-1V579h-1V584h-1V584h-1V588h-1V599h-1V600h-1V600h-1V600h-1V600h-1V590h-1V590h-1V597h-1V597h-1V600h-1V600h-1V600h-1V609h-1V609h-1V609h-1V598h-1V603h-1V603h-1V605h-1V605h-1V613h-1V613h-1V619h-1V619h-1V622h-1V626h-1V626h-1V637h-1V637h-1V637h-1V642h-1V642h-1V642h-1V628h-1V628h-1V628h-1V628h-1V627h-1V627h-1V627h-1V624h-1V654h-1V654h-1V654h-1V646h-1V646h-1V646h-1V646h-1V636h-1V636h-1V633h-1V633h-1V633h-1V634h-1V650h-1V652h-1V652h-1V652h-1V652h-1V659h-1V659h-1V659h-1V659h-1V651h-1V651h-1V651h-1V655h-1V655h-1V655h-1V656h-1V662h-1V662h-1V662h-1V657h-1V657h-1V661h-1V661h-1V661h-1V664h-1V669h-1V669h-1V669h-1V669h-1V667h-1V667h-1V680h-1V680h-1V680h-1V667h-1V682h-1V682h-1V682h-1V680h-1V680h-1V680h-1V680h-1V678h-1V689h-1V689h-1V689h-1V689h-1V679h-1V688h-1V691h-1V691h-1V691h-1V691h-1V680h-1V682h-1V682h-1V682h-1V682h-1V683h-1V690h-1V702h-1V702h-1V702h-1V702h-1V693h-1V693h-1V691h-1V692h-1V692h-1V696h-1V704h-1V704h-1V704h-1V698h-1V698h-1V698h-1V698h-1V703h-1V703h-1V711h-1V711h-1V711h-1V722h-1V722h-1V722h-1V722h-1V719h-1V715h-1V715h-1V712h-1V715h-1V716h-1V716h-1V720h-1V723h-1V729h-1V749h-1V749h-1V749h-1V749h-1V724h-1V725h-1V735h-1V737h-1V737h-1V737h-1V737h-1V742h-1V743h-1V743h-1V743h-1V743h-1V734h-1V737h-1V751h-1V751h-1V751h-1V738h-1V739h-1V744h-1V744h-1V750h-1V750h-1V750h-1V750h-1V744h-1V744h-1V753h-1V753h-1V753h-1V753h-1V762h-1V762h-1V762h-1V762h-1V750h-1V751h-1V763h-1V774h-1V774h-1V774h-1V774h-1V762h-1V762h-1V770h-1V770h-1V770h-1V770h-1V764h-1V767h-1V767h-1V769h-1V769h-1V769h-1V769h-1V767h-1V767h-1V769h-1V769h-1V771h-1V771h-1V771h-1V771h-1V764h-1V765h-1V765h-1V776h-1V776h-1V776h-1V770h-1V767h-1V777h-1V777h-1V777h-1V777h-1V774h-1V777h-1V777h-1V777h-1V777h-1V777h-1V774h-1V776h-1V783h-1V783h-1V783h-1V783h-1V788h-1V788h-1V788h-1V788h-1V787h-1V795h-1V795h-1V795h-1V798h-1V798h-1V798h-1V798h-1V796h-1V796h-1V796h-1V796h-1V794h-1V794h-1V793h-1V793h-1V798h-1V798h-1V805h-1V805h-1V805h-1V805h-1V803h-1V803h-1V797h-1V801h-1V801h-1V807h-1V808h-1V808h-1V808h-1V802h-1V800h-1V801h-1V808h-1V810h-1V810h-1V810h-1V808h-1V808h-1V808h-1V808h-1V824h-1V824h-1V824h-1V824h-1V815h-1V815h-1V818h-1V825h-1V825h-1V825h-1V825h-1V823h-1V812h-1V812h-1V813h-1V818h-1V823h-1V823h-1V823h-1V825h-1V825h-1V825h-1V825h-1V825h-1V825h-1V827h-1V838h-1V838h-1V838h-1V838h-1V823h-1V830h-1V830h-1V837h-1V837h-1V837h-1V837h-1V827h-1V827h-1V822h-1V841h-1V841h-1V841h-1V841h-1V831h-1V831h-1V831h-1V831h-1V824h-1V827h-1V829h-1V829h-1V829h-1V833h-1V833h-1V834h-1V834h-1V834h-1V836h-1V836h-1V836h-1V844h-1V844h-1V844h-1V830h-1V836h-1V838h-1V838h-1V838h-1V838h-1V834h-1V835h-1V835h-1V835h-1V837h-1V837h-1V837h-1V845h-1V845h-1V845h-1V845h-1V841h-1V847h-1V847h-1V847h-1V847h-1V835h-1V836h-1V840h-1V843h-1V851h-1V851h-1V851h-1V853h-1V853h-1V853h-1V852h-1V852h-1V849h-1V849h-1V842h-1V842h-1V847h-1V847h-1V847h-1V861h-1V861h-1V861h-1V842h-1V842h-1V843h-1V843h-1V843h-1V843h-1V853h-1V854h-1V873h-1V873h-1V873h-1V859h-1V859h-1V853h-1V853h-1V856h-1V856h-1V856h-1V851h-1V851h-1V851h-1V851h-1V851h-1V854h-1V854h-1V854h-1V853h-1V848h-1V848h-1V850h-1V850h-1V855h-1V855h-1V856h-1V860h-1V860h-1V860h-1V860h-1V854h-1V854h-1V870h-1V870h-1V870h-1V870h-1V862h-1V862h-1V862h-1V862h-1V859h-1V854h-1V856h-1V858h-1V858h-1V858h-1V858h-1V855h-1V855h-1V855h-1V860h-1V860h-1V860h-1V869h-1V869h-1V869h-1V859h-1V859h-1V864h-1V864h-1V866h-1V866h-1V866h-1V866h-1V868h-1V869h-1V869h-1V869h-1V869h-1V864h-1V870h-1V870h-1V870h-1V870h-1V867h-1V867h-1V865h-1V862h-1V862h-1V865h-1V867h-1V867h-1V869h-1V869h-1V869h-1V869h-1V868h-1V873h-1V873h-1V873h-1V872h-1V872h-1V872h-1V869h-1V869h-1V869h-1V870h-1V870h-1V875h-1V875h-1V875h-1V886h-1V886h-1V886h-1V886h-1V872h-1V872h-1V870h-1V871h-1V876h-1V876h-1V883h-1V883h-1V883h-1V883h-1V875h-1V878h-1V878h-1V883h-1V883h-1V883h-1V877h-1V876h-1V876h-1V875h-1V875h-1V879h-1V881h-1V881h-1V881h-1V878h-1V875h-1V875h-1V874h-1V877h-1V877h-1V877h-1V877h-1V876h-1V878h-1V884h-1V884h-1V884h-1V884h-1V875h-1V885h-1V885h-1V885h-1V880h-1V881h-1V887h-1V887h-1V887h-1V887h-1V878h-1V878h-1V878h-1V878h-1V875h-1V875h-1V875h-1V875h-1V885h-1V885h-1V885h-1V885h-1V884h-1V884h-1V877h-1V876h-1V876h-1V876h-1V876h-1V876h-1V876h-1V876h-1V883h-1V883h-1V883h-1V883h-1V892h-1V892h-1V892h-1V885h-1V885h-1V878h-1V878h-1V880h-1V880h-1V880h-1V887h-1V887h-1V887h-1V879h-1V885h-1V885h-1V885h-1V885h-1V882h-1V890h-1V890h-1V890h-1V890h-1V886h-1V886h-1V886h-1V886h-1V882h-1V885h-1V885h-1V885h-1V881h-1V881h-1V882h-1V883h-1V883h-1V883h-1V883h-1V883h-1V883h-1V885h-1V885h-1V885h-1V885h-1V890h-1V890h-1V890h-1V886h-1V886h-1V886h-1V889h-1V889h-1V889h-1V889h-1V888h-1V888h-1V888h-1V879h-1V885h-1V885h-1V885h-1V882h-1V882h-1V882h-1V880h-1V886h-1V886h-1V886h-1V886h-1V885h-1V889h-1V889h-1V889h-1V884h-1V885h-1V886h-1V886h-1V886h-1V886h-1V883h-1V883h-1V889h-1V889h-1V889h-1V889h-1V888h-1V896h-1V896h-1V896h-1V896h-1V893h-1V893h-1V893h-1V893h-1V892h-1V892h-1V895h-1V895h-1V895h-1V895h-1V886h-1V886h-1V890h-1V890h-1V890h-1V896h-1V896h-1V896h-1V896h-1V894h-1V889h-1V889h-1V887h-1V897h-1V897h-1V897h-1V894h-1V894h-1V898h-1V898h-1V898h-1V898h-1V899h-1V899h-1V900h-1V900h-1V900h-1V900h-1V897h-1V895h-1V895h-1V889h-1V889h-1V894h-1V894h-1V897h-1V897h-1V897h-1V894h-1V894h-1V894h-1V897h-1V897h-1V897h-1V897h-1V896h-1V896h-1V892h-1V892h-1V893h-1V897h-1V900h-1V900h-1V900h-1V900h-1V894h-1V894h-1V894h-1V894h-1V890h-1V893h-1V893h-1V895h-1V896h-1V896h-1V896h-1V896h-1V890h-1V897h-1V897h-1V897h-1V897h-1V890h-1V902h-1V902h-1V902h-1V894h-1V894h-1V894h-1V892h-1V891h-1V891h-1V891h-1V891h-1V891h-1V891h-1V901h-1V901h-1V901h-1V901h-1V893h-1V898h-1V898h-1V898h-1V898h-1V895h-1V902h-1V902h-1V902h-1V897h-1V897h-1V893h-1V899h-1V899h-1V899h-1V899h-1V894h-1V894h-1V901h-1V901h-1V901h-1V901h-1V896h-1V894h-1V908h-1V908h-1V908h-1V908h-1V901h-1V901h-1V901h-1V901h-1V901h-1V901h-1V901h-1V903h-1V903h-1V903h-1V903h-1V899h-1V899h-1V899h-1V899h-1V894h-1V894h-1V894h-1V895h-1V895h-1V895h-1V895h-1V897h-1V897h-1V898h-1V898h-1V898h-1V898h-1V901h-1V901h-1V901h-1V901h-1V901h-1V901h-1V901h-1V896h-1V902h-1V902h-1V902h-1V899h-1V899h-1V902h-1V902h-1V902h-1V902h-1V900h-1V900h-1V897h-1V897h-1V895h-1V895h-1V897h-1V897h-1V897h-1V897h-1V895h-1V895h-1V895h-1V899h-1V899h-1Z" fill="#0099FF"/>
<path d="M166 1064h1V1064h1V1064h1V1054h1V1054h1V1054h1V1054h1V1062h1V1062h1V1062h1V1062h1V1066h1V1066h1V1064h1V1064h1V1064h1V1064h1V1065h1V1066h1V1062h1V1062h1V1059h1V1059h1V1059h1V1059h1V1061h1V1061h1V1061h1V1060h1V1060h1V1060h1V1059h1V1059h1V1059h1V1065h1V1059h1V1057h1V1057h1V1057h1V1057h1V1058h1V1058h1V1058h1V1058h1V1062h1V1062h1V1062h1V1061h1V1061h1V1061h1V1061h1V1060h1V1060h1V1058h1V1058h1V1058h1V1060h1V1060h1V1057h1V1057h1V1054h1V1054h1V1054h1V1059h1V1059h1V1059h1V1064h1V1065h1V1061h1V1061h1V1061h1V1061h1V1062h1V1062h1V1062h1V1059h1V1059h1V1059h1V1059h1V1064h1V1064h1V1062h1V1062h1V1053h1V1053h1V1053h1V1053h1V1062h1V1058h1V1056h1V1056h1V1056h1V1057h1V1057h1V1061h1V1061h1V1059h1V1059h1V1059h1V1062h1V1062h1V1063h1V1064h1V1059h1V1055h1V1055h1V1055h1V1055h1V1059h1V1059h1V1059h1V1059h1V1059h1V1063h1V1063h1V1060h1V1055h1V1055h1V1055h1V1055h1V1054h1V1054h1V1054h1V1052h1V1052h1V1052h1V1052h1V1054h1V1054h1V1054h1V1058h1V1058h1V1053h1V1053h1V1053h1V1053h1V1055h1V1055h1V1053h1V1052h1V1052h1V1052h1V1052h1V1058h1V1058h1V1058h1V1058h1V1053h1V1053h1V1053h1V1055h1V1055h1V1055h1V1055h1V1052h1V1050h1V1050h1V1050h1V1046h1V1046h1V1046h1V1045h1V1045h1V1045h1V1045h1V1051h1V1055h1V1045h1V1045h1V1045h1V1045h1V1049h1V1049h1V1049h1V1049h1V1049h1V1052h1V1052h1V1052h1V1052h1V1052h1V1052h1V1055h1V1054h1V1054h1V1053h1V1048h1V1048h1V1048h1V1044h1V1044h1V1041h1V1041h1V1041h1V1041h1V1040h1V1036h1V1036h1V1036h1V1036h1V1042h1V1042h1V1036h1V1036h1V1036h1V1036h1V1046h1V1046h1V1046h1V1043h1V1043h1V1043h1V1047h1V1036h1V1036h1V1036h1V1046h1V1044h1V1044h1V1044h1V1044h1V1041h1V1039h1V1039h1V1039h1V1039h1V1039h1V1042h1V1041h1V1041h1V1041h1V1044h1V1036h1V1036h1V1036h1V1036h1V1039h1V1039h1V1039h1V1039h1V1036h1V1036h1V1036h1V1036h1V1041h1V1034h1V1034h1V1034h1V1037h1V1037h1V1037h1V1035h1V1035h1V1035h1V1035h1V1046h1V1045h1V1034h1V1034h1V1032h1V1032h1V1032h1V1032h1V1037h1V1037h1V1037h1V1040h1V1042h1V1038h1V1038h1V1038h1V1038h1V1038h1V1032h1V1032h1V1030h1V1030h1V1030h1V1043h1V1043h1V1042h1V1042h1V1039h1V1039h1V1039h1V1035h1V1035h1V1035h1V1035h1V1035h1V1035h1V1028h1V1027h1V1027h1V1027h1V1033h1V1031h1V1031h1V1031h1V1031h1V1026h1V1026h1V1026h1V1026h1V1035h1V1032h1V1032h1V1032h1V1032h1V1027h1V1027h1V1027h1V1027h1V1030h1V1028h1V1028h1V1028h1V1028h1V1028h1V1028h1V1024h1V1024h1V1024h1V1024h1V1024h1V1015h1V1015h1V1015h1V1015h1V1026h1V1026h1V1026h1V1026h1V1011h1V1011h1V1011h1V1011h1V1020h1V1023h1V1023h1V1023h1V1023h1V1022h1V1022h1V1022h1V1022h1V1019h1V1019h1V1019h1V1019h1V1020h1V1012h1V1012h1V1012h1V1013h1V1018h1V1021h1V1020h1V1018h1V1018h1V1011h1V1011h1V1011h1V1011h1V1017h1V1017h1V1009h1V1009h1V1009h1V1009h1V1012h1V1012h1V1012h1V1012h1V1012h1V1013h1V1012h1V1012h1V1012h1V1005h1V1005h1V1005h1V1005h1V1008h1V1008h1V1012h1V1005h1V1005h1V1005h1V1005h1V1005h1V1012h1V1012h1V1003h1V1003h1V1000h1V1000h1V1000h1V1000h1V1011h1V1011h1V1004h1V1004h1V1001h1V1001h1V1001h1V1001h1V1003h1V1003h1V995h1V995h1V995h1V995h1V1001h1V1002h1V1002h1V1002h1V1002h1V999h1V999h1V999h1V996h1V996h1V996h1V987h1V987h1V987h1V998h1V998h1V1002h1V1003h1V1003h1V1003h1V1003h1V997h1V997h1V990h1V987h1V987h1V987h1V987h1V993h1V993h1V998h1V998h1V998h1V999h1V1000h1V990h1V985h1V985h1V985h1V988h1V988h1V999h1V995h1V995h1V995h1V995h1V999h1V998h1V998h1V998h1V994h1V990h1V988h1V984h1V984h1V983h1V983h1V983h1V983h1V985h1V992h1V992h1V992h1V992h1V984h1V984h1V984h1V984h1V991h1V991h1V991h1V991h1V984h1V984h1V984h1V990h1V988h1V988h1V988h1V988h1V991h1V991h1V982h1V982h1V982h1V982h1V983h1V983h1V984h1V984h1V984h1V983h1V983h1V983h1V983h1V970h1V970h1V963h1V962h1V962h1V962h1V962h1V978h1V978h1V978h1V978h1V981h1V981h1V976h1V976h1V976h1V980h1V980h1V981h1V981h1V972h1V972h1V972h1V972h1V979h1V978h1V978h1V970h1V966h1V966h1V966h1V955h1V955h1V951h1V951h1V951h1V951h1V964h1V968h1V965h1V965h1V965h1V965h1V965h1V963h1V963h1V961h1V957h1V957h1V957h1V957h1V957h1V957h1V959h1V962h1V959h1V946h1V946h1V946h1V942h1V942h1V942h1V942h1V945h1V945h1V945h1V954h1V954h1V942h1V942h1V940h1V940h1V940h1V940h1V944h1V944h1V933h1V933h1V933h1V937h1V948h1V929h1V929h1V929h1V929h1V937h1V937h1V934h1V934h1V926h1V926h1V925h1V925h1V925h1V928h1V933h1V933h1V918h1V918h1V918h1V918h1V910h1V910h1V910h1V909h1V909h1V909h1V909h1V907h1V907h1V907h1V907h1V908h1V908h1V908h1V908h1V901h1V901h1V900h1V892h1V892h1V892h1V892h1V897h1V899h1V899h1V898h1V897h1V895h1V885h1V885h1V885h1V893h1V885h1V884h1V884h1V884h1V884h1V879h1V879h1V879h1V868h1V868h1V863h1V863h1V863h1V863h1V876h1V872h1V872h1V872h1V873h1V873h1V873h1V871h1V859h1V859h1V859h1V850h1V850h1V850h1V850h1V845h1V845h1V845h1V861h1V860h1V860h1V857h1V857h1V857h1V857h1V856h1V856h1V856h1V856h1V856h1V859h1V854h1V854h1V854h1V847h1V847h1V837h1V837h1V837h1V837h1V850h1V850h1V850h1V850h1V850h1V850h1V853h1V853h1V851h1V851h1V851h1V847h1V847h1V847h1V818h1V818h1V818h1V818h1V839h1V836h1V836h1V826h1V826h1V826h1V826h1V837h1V837h1V832h1V832h1V832h1V831h1V823h1V823h1V823h1V824h1V824h1V824h1V825h1V825h1V825h1V826h1V826h1V820h1V820h1V820h1V819h1V802h1V802h1V802h1V792h1V792h1V792h1V792h1V805h1V805h1V808h1V808h1V808h1V814h1V814h1V803h1V803h1V803h1V814h1V814h1V805h1V804h1V804h1V804h1V805h1V805h1V805h1V806h1V806h1V802h1V799h1V799h1V799h1V799h1V789h1V789h1V789h1V802h1V802h1V786h1V786h1V786h1V786h1V795h1V795h1V786h1V786h1V786h1V794h1V772h1V770h1V770h1V770h1V770h1V774h1V774h1V760h1V760h1V760h1V760h1V768h1V781h1V783h1V751h1V751h1V751h1V751h1V771h1V771h1V772h1V778h1V777h1V777h1V776h1V775h1V775h1V774h1V773h1V773h1V772h1V767h1V756h1V756h1V756h1V752h1V752h1V752h1V752h1V762h1V754h1V754h1V750h1V750h1V750h1V761h1V755h1V755h1V755h1V755h1V744h1V739h1V739h1V739h1V739h1V735h1V724h1V724h1V724h1V724h1V750h1V749h1V728h1V728h1V728h1V728h1V738h1V736h1V729h1V727h1V727h1V727h1V727h1V731h1V716h1V716h1V716h1V716h1V723h1V720h1V720h1V720h1V723h1V723h1V723h1V723h1V686h1V686h1V686h1V713h1V713h1V713h1V713h1V696h1V696h1V696h1V696h1V712h1V712h1V715h1V715h1V715h1V715h1V707h1V707h1V707h1V707h1V711h1V711h1V713h1V715h1V715h1V705h1V705h1V705h1V705h1V716h1V695h1V695h1V695h1V695h1V707h1V707h1V712h1V712h1V711h1V697h1V697h1V697h1V697h1V694h1V694h1V688h1V681h1V681h1V681h1V681h1V702h1V692h1V692h1V692h1V700h1V700h1V700h1V689h1V689h1V689h1V689h1V707h1V707h1V703h1V703h1V689h1V689h1V689h1V705h1V704h1V704h1V704h1V695h1V694h1V694h1V694h1V687h1V687h1V687h1V687h1V689h1V691h1V679h1V679h1V679h1V695h1V691h1V681h1V681h1V681h1V681h1V693h1V693h1V687h1V687h1V687h1V694h1V687h1V687h1V686h1V686h1V686h1V686h1V689h1V673h1V671h1V671h1V671h1V660h1V660h1V660h1V660h1V673h1V673h1V673h1V682h1V679h1V679h1V676h1V676h1V676h1V676h1V677h1V677h1V677h1V677h1V676h1V676h1V676h1V676h1V671h1V667h1V667h1V667h1V667h1V679h1V681h1V673h1V672h1V671h1V671h1V664h1V664h1V664h1V678h1V683h1V683h1V683h1V683h1V679h1V679h1V670h1V670h1V670h1V671h1V671h1V665h1V665h1V665h1V665h1V667h1V667h1V673h1V673h1V657h1V657h1V657h1V667h1V670h1V670h1V670h1V669h1V669h1V669h1V675h1V675h1V679h1V680h1V680h1V660h1V660h1V660h1V660h1V670h1V670h1V670h1V670h1V673h1V673h1V673h1V673h1V675h1V675h1V674h1V674h1V674h1V674h1V667h1V657h1V657h1V657h1V657h1V670h1V665h1V665h1V665h1V665h1V668h1V668h1V678h1V678h1V666h1V666h1V666h1V675h1V675h1V675h1V654h1V654h1V654h1V654h1V657h1V676h1V676h1V676h1V682h1V672h1V672h1V672h1V685h1V675h1V675h1V675h1V675h1V685h1V688h1V661h1V661h1V661h1V661h1V670h1V670h1V670h1V691h1V691h1V689h1V689h1V669h1V669h1V669h1V677h1V679h1V679h1V679h1V679h1V684h1V684h1V684h1V690h1V690h1V690h1V674h1V674h1V674h1V695h1V695h1V703h1V694h1V694h1V694h1V694h1V707h1V707h1V707h1V702h1V702h1V699h1V699h1V699h1V691h1V691h1V691h1V707h1V697h1V696h1V696h1V696h1V696h1V696h1V696h1V696h1V710h1V706h1V706h1V706h1V710h1V710h1V710h1V710h1V685h1V685h1V685h1V685h1V712h1V712h1V699h1V699h1V699h1V699h1V716h1V722h1V709h1V709h1V709h1V709h1V718h1V718h1V708h1V708h1V708h1V720h1V720h1V718h1V714h1V714h1V713h1V713h1V713h1V717h1V717h1V717h1V722h1V722h1V711h1V711h1V711h1V711h1V721h1V719h1V719h1V719h1V719h1V723h1V711h1V711h1V711h1V711h1V712h1V733h1V733h1V721h1V721h1V721h1V718h1V718h1V718h1V730h1V735h1V735h1V735h1V725h1V725h1V725h1V725h1V734h1V725h1V725h1V720h1V720h1V720h1V720h1V745h1V745h1V746h1V746h1V740h1V740h1V732h1V732h1V732h1V732h1V738h1V738h1V722h1V722h1V722h1V722h1V743h1V743h1V731h1V731h1V731h1V731h1V749h1V749h1V724h1V724h1V722h1V722h1V722h1V732h1V741h1V741h1V752h1V752h1V752h1V752h1V756h1V759h1V754h1V754h1V754h1V755h1V755h1V755h1V755h1V765h1V765h1V766h1V765h1V743h1V743h1V743h1V743h1V759h1V767h1V767h1V767h1V767h1V767h1V766h1V766h1V766h1V767h1V769h1V772h1V755h1V755h1V755h1V755h1V760h1V760h1V754h1V754h1V754h1V773h1V773h1V767h1V767h1V767h1V767h1V775h1V772h1V772h1V772h1V754h1V754h1V754h1V754h1V764h1V764h1V764h1V764h1V767h1V767h1V760h1V760h1V760h1V760h1V775h1V775h1V775h1V778h1V786h1V778h1V778h1V778h1V779h1V789h1V780h1V780h1V780h1V783h1V776h1V776h1V769h1V769h1V769h1V777h1V777h1V777h1V777h1V777h1V781h1V781h1V781h1V781h1V781h1V779h1V779h1V779h1V779h1V793h1V793h1V793h1V795h1V795h1V795h1V799h1V799h1V791h1V791h1V791h1V791h1V794h1V794h1V801h1V796h1V796h1V796h1V796h1V800h1V800h1V801h1V805h1V805h1V805h1V805h1V791h1V791h1V791h1V791h1V785h1V785h1V785h1V803h1V803h1V806h1V811h1V805h1V784h1V784h1V784h1V809h1V809h1V802h1V802h1V789h1V789h1V789h1V797h1V797h1V807h1V807h1V808h1V797h1V797h1V797h1V797h1V799h1V801h1V801h1V796h1V796h1V796h1V801h1V804h1V804h1V804h1V814h1V809h1V809h1V809h1V809h1V805h1V805h1V805h1V803h1V803h1V803h1V803h1V814h1V814h1V820h1V815h1V815h1V808h1V808h1V808h1V803h1V803h1V803h1V816h1V814h1V814h1V814h1V816h1V816h1V816h1V824h1V825h1V825h1V825h1V826h1V826h1V826h1V814h1V814h1V814h1V811h1V811h1V811h1V815h1V815h1V815h1V825h1V825h1V798h1V798h1V798h1V813h1V813h1V821h1V821h1V832h1V830h1V823h1V823h1V823h1V833h1V809h1V809h1V809h1V821h1V821h1V831h1V831h1V828h1V828h1V828h1V828h1V830h1V830h1V822h1V822h1V822h1V822h1V814h1V814h1V814h1V814h1V838h1V838h1V838h1V838h1V838h1V829h1V829h1V829h1V829h1V831h1V831h1V838h1V839h1V838h1V838h1V838h1V843h1V839h1V835h1V835h1V835h1V825h1V825h1V825h1V825h1V849h1V840h1V840h1V840h1V840h1V842h1V842h1V845h1V845h1V845h1V843h1V843h1V843h1V840h1V840h1V840h1V840h1V846h1V837h1V837h1V837h1V848h1V848h1V848h1V848h1V846h1V846h1V846h1V846h1V848h1V848h1V848h1V850h1V850h1V836h1V836h1V836h1V836h1V858h1V849h1V849h1V849h1V867h1V867h1V867h1V869h1V869h1V861h1V861h1V861h1V863h1V868h1V865h1V865h1V865h1V865h1V867h1V867h1V854h1V854h1V854h1V854h1V868h1V860h1V860h1V857h1V857h1V857h1V857h1V864h1V864h1V864h1V871h1V873h1V861h1V861h1V861h1V861h1V870h1V870h1V879h1V879h1V870h1V870h1V870h1V870h1V866h1V866h1V866h1V866h1V879h1V879h1V879h1V881h1V882h1V879h1V879h1V879h1V879h1V888h1V886h1V886h1V886h1V888h1V890h1V888h1V876h1V876h1V876h1V876h1V886h1V886h1V887h1V885h1V873h1V873h1V873h1V873h1V880h1V880h1V880h1V880h1V888h1V888h1V888h1V884h1V884h1V884h1V888h1V879h1V879h1V879h1V879h1V889h1V889h1V889h1V894h1V894h1V895h1V902h1V888h1V888h1V885h1V882h1V882h1V882h1V882h1V892h1V903h1V904h1V900h1V900h1V900h1V894h1V894h1V894h1V880h1V880h1V880h1V880h1V890h1V890h1V890h1V896h1V889h1V889h1V889h1V889h1V892h1V892h1V892h1V892h1V893h1V893h1V893h1V906h1V906h1V910h1V908h1V908h1V908h1V897h1V897h1V831h1V831h1V831h1V905h1V906h1V911h1V910h1V910h1V902h1V902h1V902h1V914h1V914h1V907h1V907h1V897h1V897h1V897h1V917h1V917h1V919h1V920h1V911h1V911h1V911h1V911h1V918h1V919h1V922h1V903h1V903h1V903h1V903h1V912h1V906h1V906h1V906h1V917h1V917h1V917h1V917h1V915h1V905h1V905h1V905h1V905h1V917h1V918h1V910h1V910h1V910h1V910h1V915h1V915h1V911h1V911h1V911h1V917h1V917h1V923h1V919h1V913h1V913h1V913h1V916h1V916h1V916h1V916h1V920h1V913h1V913h1V913h1V913h1V919h1V919h1V919h1V919h1V919h1V926h1V915h1V915h1V915h1V929h1V929h1V929h1V932h1V924h1V920h1V920h1V920h1V920h1V920h1V920h1V920h1V921h1V921h1V921h1V934h1V934h1V923h1V923h1V923h1V923h1V931h1V922h1V922h1V922h1V925h1V921h1V921h1V921h1V921h1V931h1V915h1V907h1V907h1V907h1V907h1V921h1V927h1V927h1V935h1V935h1V933h1V933h1V933h1V933h1V929h1V929h1V929h1V929h1V929h1V929h1V929h1V920h1V920h1V920h1V920h1V928h1V928h1V928h1V931h1V931h1V931h1V931h1V931h1V938h1V940h1V940h1V940h1V926h1V926h1V926h1V943h1V923h1V923h1V923h1V934h1V934h1V934h1V934h1V935h1V935h1V935h1V937h1V937h1V941h1V942h1V945h1V932h1V932h1V932h1V932h1V945h1V940h1V940h1V940h1V940h1V940h1V935h1V935h1V935h1V927h1V927h1V927h1V943h1V943h1V940h1V940h1V940h1V940h1V936h1V936h1V936h1V936h1V938h1V941h1V941h1V941h1V941h1V934h1V934h1V934h1V934h1V940h1V938h1V938h1V938h1V938h1V948h1V935h1V927h1V927h1V927h1V945h1V945h1V948h1V948h1V954h1V954h1V970h-1V980h-1V980h-1V981h-1V981h-1V981h-1V977h-1V977h-1V968h-1V978h-1V978h-1V978h-1V978h-1V977h-1V977h-1V977h-1V971h-1V975h-1V975h-1V975h-1V975h-1V985h-1V985h-1V985h-1V985h-1V976h-1V976h-1V975h-1V975h-1V975h-1V982h-1V983h-1V983h-1V983h-1V983h-1V977h-1V977h-1V977h-1V977h-1V971h-1V978h-1V978h-1V978h-1V978h-1V975h-1V975h-1V975h-1V975h-1V974h-1V974h-1V976h-1V978h-1V978h-1V978h-1V967h-1V967h-1V979h-1V979h-1V979h-1V979h-1V973h-1V973h-1V973h-1V973h-1V973h-1V964h-1V981h-1V981h-1V981h-1V972h-1V968h-1V968h-1V963h-1V963h-1V963h-1V968h-1V968h-1V968h-1V968h-1V965h-1V965h-1V965h-1V965h-1V967h-1V977h-1V977h-1V977h-1V977h-1V972h-1V972h-1V972h-1V955h-1V963h-1V963h-1V963h-1V961h-1V966h-1V966h-1V966h-1V963h-1V963h-1V963h-1V961h-1V961h-1V968h-1V968h-1V969h-1V969h-1V969h-1V963h-1V963h-1V969h-1V969h-1V969h-1V969h-1V967h-1V967h-1V956h-1V964h-1V964h-1V964h-1V964h-1V956h-1V956h-1V955h-1V953h-1V985h-1V985h-1V985h-1V962h-1V962h-1V962h-1V960h-1V960h-1V960h-1V956h-1V956h-1V956h-1V951h-1V951h-1V951h-1V954h-1V959h-1V959h-1V963h-1V963h-1V963h-1V951h-1V950h-1V950h-1V953h-1V953h-1V953h-1V951h-1V951h-1V947h-1V947h-1V951h-1V951h-1V951h-1V950h-1V944h-1V963h-1V963h-1V963h-1V963h-1V955h-1V952h-1V950h-1V950h-1V950h-1V950h-1V943h-1V947h-1V947h-1V952h-1V952h-1V953h-1V953h-1V953h-1V953h-1V940h-1V939h-1V948h-1V948h-1V948h-1V948h-1V940h-1V949h-1V949h-1V960h-1V960h-1V960h-1V960h-1V947h-1V947h-1V947h-1V947h-1V945h-1V945h-1V944h-1V953h-1V953h-1V953h-1V953h-1V942h-1V942h-1V942h-1V942h-1V937h-1V937h-1V933h-1V940h-1V940h-1V940h-1V939h-1V934h-1V940h-1V940h-1V942h-1V945h-1V945h-1V945h-1V944h-1V944h-1V944h-1V944h-1V948h-1V948h-1V948h-1V948h-1V933h-1V933h-1V944h-1V944h-1V944h-1V947h-1V947h-1V947h-1V932h-1V932h-1V951h-1V951h-1V951h-1V951h-1V936h-1V936h-1V931h-1V931h-1V931h-1V933h-1V933h-1V933h-1V933h-1V933h-1V933h-1V933h-1V934h-1V934h-1V934h-1V934h-1V934h-1V934h-1V934h-1V929h-1V938h-1V938h-1V938h-1V922h-1V918h-1V923h-1V923h-1V923h-1V923h-1V923h-1V923h-1V923h-1V921h-1V921h-1V914h-1V924h-1V924h-1V924h-1V924h-1V918h-1V918h-1V913h-1V913h-1V932h-1V932h-1V932h-1V932h-1V928h-1V928h-1V928h-1V913h-1V913h-1V913h-1V924h-1V924h-1V924h-1V917h-1V924h-1V928h-1V928h-1V929h-1V929h-1V929h-1V929h-1V915h-1V915h-1V915h-1V906h-1V912h-1V912h-1V912h-1V918h-1V918h-1V918h-1V918h-1V904h-1V904h-1V909h-1V909h-1V909h-1V909h-1V902h-1V902h-1V911h-1V911h-1V911h-1V911h-1V907h-1V907h-1V897h-1V923h-1V923h-1V923h-1V923h-1V900h-1V908h-1V908h-1V908h-1V914h-1V914h-1V914h-1V904h-1V904h-1V901h-1V901h-1V902h-1V902h-1V902h-1V902h-1V891h-1V891h-1V894h-1V894h-1V894h-1V895h-1V899h-1V900h-1V900h-1V900h-1V900h-1V904h-1V904h-1V904h-1V904h-1V905h-1V905h-1V905h-1V905h-1V896h-1V896h-1V889h-1V889h-1V889h-1V887h-1V884h-1V884h-1V886h-1V886h-1V886h-1V886h-1V877h-1V877h-1V889h-1V889h-1V889h-1V888h-1V888h-1V888h-1V877h-1V879h-1V880h-1V880h-1V880h-1V906h-1V906h-1V906h-1V906h-1V876h-1V876h-1V876h-1V886h-1V886h-1V886h-1V887h-1V887h-1V887h-1V887h-1V868h-1V868h-1V864h-1V862h-1V866h-1V869h-1V869h-1V872h-1V872h-1V872h-1V866h-1V866h-1V866h-1V856h-1V884h-1V884h-1V884h-1V864h-1V864h-1V880h-1V889h-1V889h-1V889h-1V889h-1V873h-1V873h-1V873h-1V873h-1V864h-1V864h-1V858h-1V864h-1V877h-1V877h-1V877h-1V877h-1V859h-1V855h-1V859h-1V864h-1V864h-1V864h-1V864h-1V858h-1V858h-1V857h-1V857h-1V857h-1V859h-1V859h-1V859h-1V850h-1V849h-1V852h-1V852h-1V852h-1V869h-1V869h-1V869h-1V869h-1V864h-1V864h-1V858h-1V856h-1V860h-1V860h-1V860h-1V850h-1V850h-1V850h-1V840h-1V840h-1V851h-1V851h-1V872h-1V872h-1V872h-1V872h-1V843h-1V838h-1V844h-1V855h-1V855h-1V855h-1V852h-1V852h-1V844h-1V845h-1V847h-1V847h-1V847h-1V847h-1V843h-1V841h-1V841h-1V839h-1V848h-1V848h-1V848h-1V848h-1V866h-1V866h-1V866h-1V860h-1V843h-1V843h-1V843h-1V839h-1V857h-1V857h-1V857h-1V857h-1V837h-1V841h-1V841h-1V845h-1V845h-1V845h-1V845h-1V843h-1V841h-1V841h-1V844h-1V844h-1V844h-1V837h-1V833h-1V833h-1V839h-1V839h-1V839h-1V839h-1V831h-1V828h-1V828h-1V828h-1V834h-1V834h-1V844h-1V844h-1V844h-1V844h-1V832h-1V829h-1V834h-1V839h-1V839h-1V839h-1V833h-1V837h-1V848h-1V848h-1V848h-1V848h-1V826h-1V830h-1V830h-1V844h-1V844h-1V844h-1V844h-1V837h-1V837h-1V844h-1V844h-1V844h-1V834h-1V834h-1V839h-1V839h-1V839h-1V827h-1V827h-1V827h-1V822h-1V822h-1V841h-1V841h-1V841h-1V841h-1V814h-1V814h-1V812h-1V808h-1V808h-1V808h-1V818h-1V820h-1V820h-1V820h-1V820h-1V805h-1V820h-1V820h-1V828h-1V828h-1V828h-1V828h-1V817h-1V817h-1V820h-1V820h-1V820h-1V820h-1V809h-1V816h-1V825h-1V825h-1V825h-1V824h-1V824h-1V824h-1V824h-1V808h-1V808h-1V814h-1V814h-1V818h-1V818h-1V818h-1V803h-1V803h-1V803h-1V802h-1V802h-1V802h-1V798h-1V794h-1V794h-1V805h-1V805h-1V805h-1V793h-1V804h-1V804h-1V804h-1V804h-1V796h-1V796h-1V792h-1V792h-1V792h-1V792h-1V791h-1V789h-1V789h-1V788h-1V788h-1V789h-1V789h-1V796h-1V796h-1V796h-1V796h-1V791h-1V791h-1V791h-1V801h-1V801h-1V801h-1V786h-1V786h-1V782h-1V782h-1V780h-1V780h-1V780h-1V775h-1V775h-1V779h-1V779h-1V779h-1V794h-1V794h-1V794h-1V794h-1V787h-1V784h-1V795h-1V795h-1V795h-1V795h-1V783h-1V783h-1V783h-1V782h-1V782h-1V782h-1V782h-1V765h-1V783h-1V783h-1V783h-1V783h-1V782h-1V776h-1V779h-1V779h-1V779h-1V779h-1V772h-1V772h-1V772h-1V765h-1V765h-1V765h-1V762h-1V762h-1V765h-1V769h-1V769h-1V769h-1V769h-1V768h-1V768h-1V768h-1V768h-1V766h-1V766h-1V766h-1V766h-1V759h-1V750h-1V765h-1V765h-1V765h-1V758h-1V771h-1V771h-1V771h-1V771h-1V759h-1V759h-1V764h-1V764h-1V764h-1V764h-1V764h-1V764h-1V757h-1V757h-1V758h-1V758h-1V758h-1V758h-1V753h-1V741h-1V741h-1V741h-1V742h-1V752h-1V752h-1V752h-1V742h-1V743h-1V750h-1V750h-1V750h-1V742h-1V739h-1V752h-1V764h-1V764h-1V764h-1V758h-1V758h-1V758h-1V757h-1V755h-1V739h-1V745h-1V745h-1V745h-1V747h-1V747h-1V747h-1V747h-1V747h-1V747h-1V738h-1V738h-1V738h-1V740h-1V743h-1V743h-1V745h-1V745h-1V745h-1V745h-1V732h-1V732h-1V748h-1V748h-1V748h-1V736h-1V736h-1V732h-1V732h-1V732h-1V730h-1V730h-1V730h-1V749h-1V749h-1V749h-1V749h-1V748h-1V748h-1V740h-1V740h-1V740h-1V732h-1V732h-1V732h-1V732h-1V724h-1V720h-1V720h-1V719h-1V720h-1V720h-1V720h-1V720h-1V717h-1V730h-1V730h-1V730h-1V734h-1V734h-1V734h-1V734h-1V721h-1V721h-1V715h-1V718h-1V718h-1V739h-1V739h-1V739h-1V731h-1V716h-1V725h-1V725h-1V725h-1V723h-1V723h-1V723h-1V720h-1V715h-1V710h-1V710h-1V710h-1V723h-1V723h-1V723h-1V723h-1V720h-1V720h-1V717h-1V710h-1V710h-1V721h-1V721h-1V721h-1V721h-1V713h-1V700h-1V709h-1V713h-1V713h-1V713h-1V714h-1V714h-1V714h-1V714h-1V712h-1V712h-1V707h-1V714h-1V714h-1V714h-1V712h-1V712h-1V717h-1V717h-1V717h-1V717h-1V700h-1V705h-1V705h-1V705h-1V705h-1V718h-1V718h-1V721h-1V721h-1V721h-1V710h-1V708h-1V708h-1V708h-1V708h-1V700h-1V710h-1V710h-1V710h-1V706h-1V706h-1V706h-1V713h-1V713h-1V715h-1V729h-1V729h-1V729h-1V729h-1V722h-1V719h-1V719h-1V720h-1V720h-1V720h-1V720h-1V703h-1V702h-1V702h-1V718h-1V718h-1V718h-1V718h-1V723h-1V723h-1V723h-1V723h-1V704h-1V711h-1V711h-1V711h-1V713h-1V713h-1V713h-1V715h-1V717h-1V717h-1V730h-1V730h-1V730h-1V730h-1V714h-1V714h-1V712h-1V720h-1V735h-1V735h-1V735h-1V735h-1V737h-1V737h-1V737h-1V737h-1V712h-1V724h-1V724h-1V724h-1V724h-1V710h-1V715h-1V715h-1V718h-1V718h-1V718h-1V715h-1V715h-1V715h-1V742h-1V742h-1V742h-1V742h-1V738h-1V730h-1V739h-1V739h-1V739h-1V739h-1V725h-1V725h-1V728h-1V739h-1V739h-1V739h-1V739h-1V734h-1V734h-1V734h-1V734h-1V732h-1V732h-1V738h-1V738h-1V738h-1V734h-1V733h-1V733h-1V733h-1V746h-1V746h-1V746h-1V748h-1V748h-1V748h-1V732h-1V744h-1V751h-1V751h-1V751h-1V737h-1V737h-1V737h-1V742h-1V742h-1V742h-1V732h-1V732h-1V738h-1V738h-1V739h-1V739h-1V739h-1V734h-1V734h-1V764h-1V764h-1V764h-1V764h-1V750h-1V741h-1V748h-1V748h-1V748h-1V749h-1V749h-1V749h-1V741h-1V738h-1V745h-1V745h-1V745h-1V745h-1V742h-1V742h-1V742h-1V742h-1V750h-1V750h-1V750h-1V750h-1V747h-1V747h-1V747h-1V744h-1V751h-1V751h-1V751h-1V742h-1V747h-1V747h-1V747h-1V753h-1V760h-1V760h-1V760h-1V760h-1V760h-1V760h-1V759h-1V761h-1V761h-1V761h-1V761h-1V758h-1V769h-1V769h-1V769h-1V775h-1V775h-1V775h-1V775h-1V775h-1V770h-1V790h-1V790h-1V790h-1V790h-1V775h-1V775h-1V775h-1V775h-1V775h-1V794h-1V794h-1V794h-1V790h-1V782h-1V791h-1V793h-1V793h-1V793h-1V787h-1V787h-1V787h-1V798h-1V798h-1V799h-1V799h-1V799h-1V799h-1V798h-1V798h-1V798h-1V798h-1V805h-1V805h-1V805h-1V805h-1V795h-1V790h-1V797h-1V797h-1V809h-1V809h-1V809h-1V815h-1V815h-1V815h-1V815h-1V812h-1V812h-1V812h-1V807h-1V808h-1V808h-1V808h-1V819h-1V819h-1V819h-1V819h-1V812h-1V812h-1V812h-1V807h-1V807h-1V812h-1V818h-1V818h-1V829h-1V829h-1V829h-1V828h-1V828h-1V828h-1V822h-1V822h-1V824h-1V824h-1V824h-1V824h-1V825h-1V825h-1V834h-1V834h-1V834h-1V834h-1V836h-1V856h-1V856h-1V856h-1V848h-1V844h-1V851h-1V851h-1V851h-1V851h-1V845h-1V845h-1V845h-1V853h-1V853h-1V855h-1V855h-1V855h-1V855h-1V850h-1V850h-1V850h-1V844h-1V845h-1V845h-1V846h-1V852h-1V852h-1V852h-1V852h-1V852h-1V852h-1V858h-1V858h-1V860h-1V860h-1V860h-1V868h-1V868h-1V868h-1V868h-1V865h-1V876h-1V876h-1V876h-1V876h-1V877h-1V877h-1V877h-1V877h-1V872h-1V872h-1V872h-1V866h-1V861h-1V862h-1V864h-1V872h-1V872h-1V872h-1V872h-1V869h-1V868h-1V883h-1V883h-1V883h-1V873h-1V870h-1V873h-1V874h-1V874h-1V877h-1V877h-1V877h-1V890h-1V890h-1V903h-1V903h-1V903h-1V903h-1V884h-1V886h-1V888h-1V888h-1V888h-1V890h-1V890h-1V890h-1V890h-1V888h-1V888h-1V888h-1V885h-1V885h-1V884h-1V900h-1V900h-1V900h-1V893h-1V893h-1V899h-1V899h-1V907h-1V907h-1V907h-1V901h-1V901h-1V892h-1V896h-1V898h-1V911h-1V911h-1V911h-1V911h-1V905h-1V905h-1V905h-1V905h-1V898h-1V903h-1V903h-1V903h-1V903h-1V902h-1V922h-1V922h-1V922h-1V922h-1V915h-1V926h-1V926h-1V926h-1V926h-1V917h-1V920h-1V920h-1V920h-1V920h-1V917h-1V920h-1V922h-1V922h-1V922h-1V921h-1V945h-1V945h-1V945h-1V936h-1V936h-1V936h-1V933h-1V933h-1V933h-1V933h-1V933h-1V933h-1V934h-1V938h-1V946h-1V946h-1V946h-1V952h-1V952h-1V952h-1V945h-1V953h-1V953h-1V955h-1V955h-1V955h-1V961h-1V961h-1V961h-1V957h-1V957h-1V955h-1V981h-1V981h-1V981h-1V981h-1V969h-1V969h-1V977h-1V977h-1V977h-1V964h-1V964h-1V974h-1V974h-1V974h-1V974h-1V971h-1V974h-1V974h-1V974h-1V977h-1V977h-1V977h-1V977h-1V973h-1V973h-1V978h-1V981h-1V981h-1V984h-1V984h-1V984h-1V1001h-1V1001h-1V1001h-1V1001h-1V993h-1V993h-1V993h-1V996h-1V996h-1V996h-1V996h-1V987h-1V995h-1V999h-1V999h-1V999h-1V1002h-1V1002h-1V1002h-1V1002h-1V998h-1V998h-1V998h-1V990h-1V996h-1V996h-1V1002h-1V1005h-1V1005h-1V1005h-1V1005h-1V998h-1V997h-1V997h-1V1001h-1V1014h-1V1014h-1V1014h-1V1007h-1V1007h-1V998h-1V998h-1V998h-1V999h-1V1002h-1V1003h-1V1003h-1V1003h-1V1007h-1V1007h-1V1012h-1V1012h-1V1012h-1V1012h-1V1014h-1V1014h-1V1014h-1V1005h-1V1004h-1V1003h-1V1006h-1V1006h-1V1009h-1V1009h-1V1009h-1V1009h-1V1014h-1V1014h-1V1014h-1V1015h-1V1015h-1V1015h-1V1017h-1V1017h-1V1017h-1V1013h-1V1013h-1V1013h-1V1013h-1V1014h-1V1014h-1V1021h-1V1025h-1V1025h-1V1025h-1V1025h-1V1010h-1V1021h-1V1021h-1V1021h-1V1021h-1V1019h-1V1019h-1V1012h-1V1012h-1V1014h-1V1014h-1V1014h-1V1020h-1V1020h-1V1020h-1V1020h-1V1016h-1V1016h-1V1019h-1V1019h-1V1019h-1V1024h-1V1024h-1V1024h-1V1024h-1V1013h-1V1013h-1V1028h-1V1028h-1V1028h-1V1034h-1V1034h-1V1034h-1V1034h-1V1015h-1V1015h-1V1015h-1V1015h-1V1013h-1V1016h-1V1022h-1V1025h-1V1025h-1V1026h-1V1026h-1V1026h-1V1023h-1V1023h-1V1023h-1V1018h-1V1029h-1V1029h-1V1029h-1V1029h-1V1024h-1V1024h-1V1021h-1V1025h-1V1025h-1V1025h-1V1025h-1V1019h-1V1025h-1V1025h-1V1025h-1V1025h-1V1029h-1V1029h-1V1029h-1V1025h-1V1025h-1V1026h-1V1026h-1V1028h-1V1028h-1V1036h-1V1038h-1V1038h-1V1038h-1V1038h-1V1033h-1V1033h-1V1027h-1V1029h-1V1029h-1V1032h-1V1037h-1V1037h-1V1037h-1V1037h-1V1033h-1V1038h-1V1038h-1V1038h-1V1034h-1V1034h-1V1034h-1V1033h-1V1030h-1V1030h-1V1029h-1V1028h-1V1041h-1V1041h-1V1041h-1V1041h-1V1036h-1V1036h-1V1036h-1V1036h-1V1036h-1V1036h-1V1036h-1V1037h-1V1039h-1V1039h-1V1046h-1V1046h-1V1046h-1V1046h-1V1044h-1V1047h-1V1047h-1V1047h-1V1034h-1V1040h-1V1040h-1V1040h-1V1040h-1V1041h-1V1041h-1V1044h-1V1044h-1V1044h-1V1048h-1V1049h-1V1049h-1V1049h-1V1049h-1V1043h-1V1055h-1V1055h-1V1055h-1V1049h-1V1049h-1V1049h-1V1044h-1V1045h-1V1045h-1V1045h-1V1045h-1V1041h-1V1046h-1V1046h-1V1046h-1V1046h-1V1045h-1V1046h-1V1050h-1V1059h-1V1059h-1V1059h-1V1059h-1V1044h-1V1053h-1V1053h-1V1053h-1V1053h-1V1052h-1V1050h-1V1050h-1V1058h-1V1058h-1V1058h-1V1047h-1V1053h-1V1053h-1V1055h-1V1055h-1V1057h-1V1057h-1V1057h-1V1052h-1V1059h-1V1061h-1V1061h-1V1063h-1V1063h-1V1063h-1V1059h-1V1059h-1V1056h-1V1056h-1V1056h-1V1058h-1V1058h-1V1058h-1V1058h-1V1058h-1V1060h-1V1060h-1V1060h-1V1060h-1V1053h-1V1059h-1V1071h-1V1071h-1V1071h-1V1071h-1V1063h-1V1063h-1V1063h-1V1055h-1V1065h-1V1065h-1V1065h-1V1065h-1V1066h-1V1066h-1V1066h-1V1066h-1V1065h-1V1065h-1V1067h-1V1067h-1V1067h-1V1067h-1V1059h-1V1059h-1V1070h-1V1070h-1V1070h-1V1070h-1V1059h-1V1058h-1V1059h-1V1059h-1V1059h-1V1059h-1V1059h-1V1061h-1V1066h-1V1066h-1V1066h-1V1060h-1V1061h-1V1069h-1V1069h-1V1069h-1V1069h-1V1072h-1V1072h-1V1072h-1V1072h-1V1065h-1V1060h-1V1060h-1V1060h-1V1063h-1V1063h-1V1070h-1V1070h-1V1070h-1V1070h-1V1064h-1V1067h-1V1067h-1V1067h-1V1067h-1V1067h-1V1065h-1V1063h-1V1064h-1V1064h-1V1070h-1V1070h-1V1070h-1V1070h-1V1069h-1V1064h-1V1064h-1V1061h-1V1070h-1V1070h-1V1070h-1V1070h-1V1070h-1V1070h-1V1070h-1V1067h-1V1067h-1V1066h-1V1066h-1V1076h-1V1076h-1V1076h-1V1072h-1V1072h-1V1072h-1V1072h-1V1072h-1V1072h-1V1072h-1V1067h-1V1066h-1V1066h-1V1070h-1V1070h-1V1070h-1V1077h-1V1077h-1V1077h-1V1077h-1V1067h-1V1067h-1V1067h-1V1066h-1V1069h-1V1076h-1V1076h-1V1076h-1V1075h-1V1075h-1V1071h-1V1071h-1V1073h-1V1073h-1V1073h-1V1081h-1V1081h-1V1081h-1V1081h-1V1068h-1V1068h-1V1069h-1V1069h-1V1069h-1V1074h-1V1077h-1V1077h-1V1077h-1V1077h-1V1083h-1V1083h-1V1083h-1V1083h-1V1070h-1V1070h-1V1070h-1V1079h-1V1079h-1V1079h-1V1079h-1V1079h-1V1080h-1V1080h-1V1080h-1V1078h-1V1078h-1V1074h-1V1074h-1V1074h-1V1085h-1V1085h-1V1085h-1V1085h-1V1077h-1V1077h-1V1074h-1V1074h-1V1074h-1V1073h-1V1072h-1V1072h-1V1072h-1V1075h-1V1075h-1V1077h-1V1077h-1V1077h-1V1074h-1V1074h-1V1074h-1V1072h-1V1072h-1V1082h-1V1082h-1V1082h-1V1082h-1V1080h-1V1080h-1V1078h-1V1078h-1V1078h-1V1075h-1V1078h-1V1078h-1V1078h-1V1077h-1V1077h-1V1077h-1V1077h-1V1076h-1V1077h-1V1078h-1V1078h-1V1078h-1V1076h-1V1076h-1V1075h-1V1079h-1V1079h-1V1080h-1V1080h-1V1080h-1V1080h-1V1077h-1V1077h-1V1077h-1V1076h-1V1076h-1V1076h-1V1076h-1V1075h-1V1075h-1V1075h-1V1075h-1V1075h-1V1075h-1V1078h-1V1083h-1V1083h-1V1083h-1V1083h-1V1083h-1V1083h-1V1076h-1V1076h-1V1078h-1V1078h-1V1078h-1V1083h-1V1083h-1V1083h-1V1082h-1V1082h-1V1082h-1V1080h-1V1080h-1V1077h-1V1077h-1V1076h-1V1076h-1V1076h-1V1076h-1V1080h-1V1080h-1V1080h-1V1077h-1V1084h-1V1084h-1V1084h-1V1085h-1V1085h-1V1085h-1V1085h-1V1083h-1V1076h-1V1078h-1V1078h-1V1079h-1V1079h-1V1080h-1V1080h-1V1080h-1V1080h-1V1077h-1V1076h-1Z" fill="#004DDE"/>
<path d="M166 1235h1V1235h1V1235h1V1245h1V1237h1V1237h1V1237h1V1237h1V1238h1V1238h1V1238h1V1238h1V1250h1V1250h1V1250h1V1249h1V1249h1V1249h1V1249h1V1249h1V1249h1V1241h1V1241h1V1241h1V1245h1V1245h1V1250h1V1250h1V1245h1V1245h1V1245h1V1248h1V1254h1V1254h1V1250h1V1229h1V1229h1V1229h1V1246h1V1247h1V1248h1V1248h1V1248h1V1248h1V1249h1V1249h1V1249h1V1249h1V1250h1V1241h1V1237h1V1234h1V1234h1V1234h1V1234h1V1252h1V1252h1V1251h1V1250h1V1250h1V1249h1V1249h1V1249h1V1226h1V1226h1V1226h1V1243h1V1243h1V1243h1V1243h1V1252h1V1250h1V1245h1V1245h1V1245h1V1245h1V1245h1V1253h1V1252h1V1252h1V1252h1V1248h1V1248h1V1248h1V1240h1V1240h1V1240h1V1240h1V1246h1V1257h1V1257h1V1247h1V1247h1V1247h1V1250h1V1253h1V1253h1V1239h1V1239h1V1239h1V1239h1V1246h1V1256h1V1256h1V1256h1V1248h1V1248h1V1248h1V1248h1V1252h1V1232h1V1232h1V1232h1V1232h1V1254h1V1253h1V1252h1V1252h1V1252h1V1248h1V1248h1V1248h1V1248h1V1250h1V1250h1V1255h1V1255h1V1259h1V1254h1V1245h1V1244h1V1244h1V1244h1V1239h1V1239h1V1239h1V1239h1V1249h1V1249h1V1250h1V1257h1V1246h1V1246h1V1234h1V1234h1V1234h1V1234h1V1235h1V1235h1V1235h1V1242h1V1250h1V1250h1V1256h1V1248h1V1248h1V1227h1V1227h1V1227h1V1227h1V1251h1V1248h1V1248h1V1248h1V1236h1V1236h1V1236h1V1236h1V1251h1V1259h1V1259h1V1248h1V1248h1V1248h1V1248h1V1247h1V1247h1V1241h1V1241h1V1241h1V1247h1V1238h1V1238h1V1238h1V1238h1V1244h1V1243h1V1243h1V1243h1V1243h1V1254h1V1254h1V1254h1V1254h1V1236h1V1236h1V1236h1V1236h1V1253h1V1253h1V1251h1V1251h1V1234h1V1234h1V1234h1V1234h1V1249h1V1242h1V1242h1V1242h1V1242h1V1258h1V1245h1V1245h1V1245h1V1245h1V1249h1V1249h1V1244h1V1244h1V1232h1V1232h1V1232h1V1258h1V1252h1V1252h1V1244h1V1244h1V1244h1V1236h1V1236h1V1236h1V1236h1V1251h1V1252h1V1245h1V1245h1V1241h1V1241h1V1241h1V1243h1V1243h1V1250h1V1238h1V1238h1V1238h1V1244h1V1244h1V1243h1V1243h1V1243h1V1243h1V1244h1V1251h1V1248h1V1248h1V1248h1V1248h1V1250h1V1248h1V1248h1V1248h1V1248h1V1250h1V1250h1V1240h1V1240h1V1240h1V1244h1V1244h1V1236h1V1236h1V1236h1V1237h1V1243h1V1243h1V1243h1V1247h1V1247h1V1238h1V1238h1V1238h1V1238h1V1241h1V1252h1V1256h1V1255h1V1255h1V1253h1V1253h1V1247h1V1243h1V1243h1V1243h1V1243h1V1246h1V1244h1V1244h1V1244h1V1237h1V1237h1V1237h1V1237h1V1245h1V1245h1V1245h1V1245h1V1250h1V1251h1V1251h1V1246h1V1241h1V1237h1V1237h1V1237h1V1237h1V1245h1V1245h1V1254h1V1247h1V1247h1V1246h1V1246h1V1246h1V1246h1V1251h1V1252h1V1249h1V1249h1V1249h1V1245h1V1245h1V1239h1V1239h1V1239h1V1242h1V1242h1V1242h1V1222h1V1222h1V1222h1V1241h1V1231h1V1231h1V1226h1V1226h1V1226h1V1226h1V1236h1V1236h1V1239h1V1238h1V1238h1V1238h1V1239h1V1235h1V1235h1V1216h1V1216h1V1216h1V1242h1V1230h1V1230h1V1230h1V1230h1V1233h1V1233h1V1232h1V1232h1V1232h1V1235h1V1229h1V1229h1V1229h1V1229h1V1211h1V1211h1V1211h1V1211h1V1215h1V1202h1V1202h1V1202h1V1213h1V1213h1V1211h1V1209h1V1209h1V1209h1V1209h1V1217h1V1224h1V1224h1V1230h1V1230h1V1230h1V1230h1V1231h1V1218h1V1218h1V1218h1V1218h1V1218h1V1213h1V1213h1V1213h1V1213h1V1213h1V1213h1V1213h1V1213h1V1221h1V1215h1V1215h1V1215h1V1221h1V1212h1V1212h1V1212h1V1212h1V1215h1V1215h1V1215h1V1215h1V1218h1V1210h1V1210h1V1210h1V1210h1V1220h1V1220h1V1224h1V1224h1V1223h1V1219h1V1219h1V1207h1V1207h1V1207h1V1207h1V1213h1V1205h1V1205h1V1205h1V1205h1V1207h1V1207h1V1201h1V1201h1V1201h1V1199h1V1199h1V1199h1V1199h1V1217h1V1217h1V1218h1V1212h1V1196h1V1196h1V1196h1V1208h1V1208h1V1208h1V1208h1V1217h1V1216h1V1208h1V1208h1V1208h1V1203h1V1203h1V1203h1V1204h1V1204h1V1204h1V1204h1V1212h1V1197h1V1197h1V1197h1V1196h1V1196h1V1196h1V1196h1V1197h1V1205h1V1205h1V1208h1V1208h1V1208h1V1195h1V1195h1V1186h1V1186h1V1186h1V1186h1V1201h1V1201h1V1201h1V1199h1V1199h1V1199h1V1191h1V1191h1V1191h1V1194h1V1165h1V1165h1V1165h1V1189h1V1189h1V1189h1V1205h1V1205h1V1205h1V1204h1V1198h1V1198h1V1180h1V1180h1V1180h1V1180h1V1183h1V1185h1V1185h1V1167h1V1167h1V1167h1V1167h1V1169h1V1169h1V1169h1V1169h1V1196h1V1184h1V1184h1V1177h1V1177h1V1177h1V1180h1V1180h1V1178h1V1178h1V1178h1V1178h1V1184h1V1184h1V1178h1V1178h1V1178h1V1178h1V1188h1V1190h1V1184h1V1184h1V1184h1V1184h1V1183h1V1178h1V1178h1V1178h1V1180h1V1169h1V1169h1V1168h1V1168h1V1168h1V1168h1V1176h1V1176h1V1176h1V1152h1V1152h1V1152h1V1152h1V1159h1V1159h1V1159h1V1165h1V1165h1V1165h1V1165h1V1175h1V1159h1V1139h1V1138h1V1138h1V1138h1V1138h1V1155h1V1164h1V1151h1V1151h1V1151h1V1151h1V1155h1V1147h1V1147h1V1147h1V1146h1V1146h1V1146h1V1146h1V1153h1V1153h1V1156h1V1156h1V1155h1V1154h1V1153h1V1147h1V1145h1V1145h1V1144h1V1144h1V1142h1V1141h1V1137h1V1137h1V1129h1V1129h1V1129h1V1135h1V1129h1V1129h1V1129h1V1129h1V1130h1V1130h1V1130h1V1123h1V1123h1V1123h1V1136h1V1124h1V1124h1V1124h1V1132h1V1123h1V1121h1V1121h1V1121h1V1128h1V1116h1V1116h1V1096h1V1096h1V1096h1V1096h1V1113h1V1113h1V1113h1V1113h1V1080h1V1080h1V1080h1V1080h1V1105h1V1108h1V1114h1V1114h1V1084h1V1084h1V1084h1V1084h1V1103h1V1103h1V1103h1V1103h1V1104h1V1103h1V1072h1V1072h1V1072h1V1072h1V1081h1V1081h1V1056h1V1056h1V1056h1V1072h1V1072h1V1064h1V1064h1V1064h1V1064h1V1067h1V1075h1V1075h1V1075h1V1079h1V1079h1V1053h1V1053h1V1053h1V1053h1V1058h1V1067h1V1067h1V1037h1V1037h1V1037h1V1037h1V1038h1V1038h1V1038h1V1038h1V1042h1V1042h1V1047h1V1047h1V1033h1V1033h1V1033h1V1033h1V1019h1V1019h1V1019h1V1019h1V1023h1V1023h1V1023h1V1027h1V1036h1V1038h1V1039h1V1022h1V1022h1V1022h1V1022h1V1024h1V1029h1V1029h1V1030h1V1016h1V1014h1V1014h1V1014h1V1014h1V1019h1V1019h1V1019h1V1012h1V1012h1V999h1V999h1V999h1V999h1V994h1V994h1V994h1V979h1V979h1V979h1V997h1V997h1V997h1V997h1V978h1V978h1V978h1V978h1V993h1V993h1V993h1V995h1V978h1V978h1V978h1V978h1V987h1V990h1V988h1V988h1V984h1V984h1V984h1V991h1V979h1V979h1V979h1V978h1V978h1V978h1V978h1V961h1V961h1V961h1V972h1V965h1V965h1V965h1V965h1V954h1V948h1V948h1V948h1V948h1V948h1V953h1V953h1V951h1V951h1V951h1V962h1V958h1V958h1V958h1V933h1V933h1V933h1V960h1V958h1V958h1V957h1V956h1V955h1V935h1V935h1V935h1V935h1V937h1V937h1V937h1V928h1V928h1V928h1V927h1V927h1V927h1V927h1V932h1V918h1V918h1V918h1V918h1V930h1V930h1V931h1V931h1V933h1V940h1V939h1V918h1V918h1V918h1V918h1V926h1V900h1V900h1V900h1V933h1V901h1V901h1V901h1V901h1V926h1V919h1V919h1V919h1V917h1V917h1V917h1V917h1V889h1V889h1V889h1V910h1V910h1V910h1V910h1V913h1V906h1V906h1V906h1V906h1V901h1V901h1V901h1V901h1V903h1V903h1V903h1V906h1V910h1V892h1V892h1V892h1V898h1V898h1V898h1V898h1V907h1V907h1V882h1V882h1V882h1V893h1V869h1V869h1V869h1V869h1V906h1V898h1V892h1V892h1V879h1V879h1V879h1V905h1V885h1V885h1V885h1V888h1V888h1V899h1V899h1V899h1V897h1V882h1V882h1V864h1V864h1V864h1V864h1V887h1V887h1V880h1V880h1V880h1V880h1V884h1V869h1V869h1V869h1V888h1V892h1V875h1V875h1V875h1V875h1V877h1V877h1V891h1V885h1V885h1V885h1V879h1V851h1V851h1V851h1V851h1V854h1V881h1V881h1V893h1V881h1V875h1V875h1V875h1V874h1V874h1V874h1V874h1V859h1V859h1V859h1V859h1V870h1V870h1V889h1V889h1V879h1V879h1V879h1V879h1V881h1V880h1V880h1V880h1V884h1V888h1V844h1V844h1V844h1V844h1V876h1V878h1V878h1V878h1V880h1V845h1V845h1V845h1V863h1V883h1V883h1V878h1V874h1V874h1V865h1V865h1V851h1V851h1V851h1V851h1V869h1V869h1V873h1V867h1V865h1V865h1V865h1V865h1V874h1V870h1V859h1V859h1V859h1V859h1V880h1V880h1V865h1V865h1V865h1V865h1V873h1V873h1V873h1V873h1V876h1V876h1V876h1V879h1V873h1V869h1V869h1V869h1V869h1V888h1V864h1V864h1V864h1V864h1V869h1V876h1V876h1V876h1V876h1V867h1V867h1V867h1V867h1V864h1V864h1V864h1V864h1V874h1V874h1V874h1V874h1V874h1V883h1V891h1V891h1V891h1V895h1V869h1V869h1V869h1V869h1V890h1V890h1V896h1V909h1V910h1V911h1V904h1V904h1V904h1V904h1V902h1V902h1V902h1V897h1V897h1V897h1V887h1V887h1V887h1V887h1V899h1V899h1V899h1V899h1V927h1V922h1V922h1V907h1V907h1V907h1V907h1V932h1V934h1V935h1V929h1V909h1V909h1V909h1V925h1V915h1V915h1V915h1V915h1V918h1V918h1V918h1V905h1V905h1V905h1V920h1V920h1V936h1V939h1V920h1V920h1V920h1V920h1V950h1V950h1V950h1V958h1V957h1V957h1V949h1V946h1V946h1V946h1V946h1V946h1V959h1V950h1V950h1V950h1V950h1V950h1V950h1V950h1V969h1V962h1V962h1V939h1V939h1V939h1V939h1V959h1V968h1V968h1V968h1V961h1V957h1V957h1V952h1V952h1V952h1V952h1V979h1V959h1V959h1V959h1V972h1V954h1V954h1V954h1V954h1V957h1V972h1V972h1V970h1V970h1V970h1V963h1V960h1V960h1V960h1V963h1V963h1V986h1V986h1V979h1V979h1V979h1V985h1V990h1V948h1V948h1V948h1V948h1V980h1V950h1V950h1V950h1V950h1V978h1V995h1V981h1V981h1V981h1V982h1V990h1V990h1V976h1V974h1V974h1V974h1V974h1V984h1V984h1V981h1V981h1V981h1V981h1V956h1V956h1V956h1V956h1V1000h1V1000h1V989h1V989h1V985h1V985h1V985h1V985h1V1000h1V1000h1V1000h1V993h1V993h1V993h1V993h1V994h1V994h1V997h1V997h1V997h1V1015h1V995h1V995h1V995h1V995h1V1006h1V1006h1V1006h1V1006h1V1009h1V1009h1V1009h1V1009h1V1014h1V1008h1V1008h1V1008h1V1008h1V1019h1V1022h1V1022h1V1024h1V1004h1V1004h1V1004h1V1004h1V1031h1V1031h1V1020h1V1020h1V1020h1V1026h1V1026h1V1029h1V1023h1V1023h1V1023h1V1023h1V1040h1V1040h1V1041h1V1010h1V1010h1V1010h1V1021h1V1020h1V1020h1V1020h1V1020h1V1038h1V1018h1V1018h1V1018h1V1018h1V1028h1V1028h1V1039h1V1015h1V1015h1V1015h1V1015h1V1040h1V1022h1V1003h1V1003h1V1003h1V1047h1V1043h1V1043h1V1043h1V1025h1V1013h1V1013h1V1013h1V1021h1V1021h1V1029h1V1026h1V1019h1V1019h1V1019h1V1019h1V1033h1V1033h1V1033h1V1036h1V1036h1V1046h1V1046h1V1046h1V1046h1V1046h1V1046h1V1044h1V1044h1V1044h1V1044h1V1056h1V1057h1V1057h1V1043h1V1043h1V1043h1V1033h1V1033h1V1033h1V1033h1V1055h1V1047h1V1047h1V1047h1V1045h1V1042h1V1038h1V1038h1V1038h1V1038h1V1052h1V1059h1V1066h1V1067h1V1066h1V1066h1V1054h1V1054h1V1054h1V1041h1V1041h1V1041h1V1041h1V1072h1V1072h1V1057h1V1057h1V1057h1V1057h1V1073h1V1073h1V1073h1V1028h1V1028h1V1028h1V1028h1V1074h1V1074h1V1076h1V1076h1V1048h1V1048h1V1048h1V1048h1V1062h1V1062h1V1062h1V1070h1V1070h1V1080h1V1077h1V1077h1V1077h1V1077h1V1080h1V1080h1V1080h1V1086h1V1078h1V1078h1V1078h1V1078h1V1088h1V1077h1V1077h1V1077h1V1079h1V1069h1V1069h1V1069h1V1069h1V1067h1V1067h1V1067h1V1067h1V1070h1V1070h1V1070h1V1090h1V1071h1V1071h1V1061h1V1061h1V1061h1V1057h1V1057h1V1057h1V1057h1V1078h1V1078h1V1078h1V1063h1V1063h1V1052h1V1052h1V1052h1V1052h1V1062h1V1062h1V1062h1V1081h1V1081h1V1081h1V1081h1V1097h1V1084h1V1056h1V1056h1V1056h1V1056h1V1077h1V1089h1V1091h1V1075h1V1075h1V1075h1V1075h1V1059h1V1059h1V1059h1V1059h1V1093h1V1097h1V1097h1V1101h1V1101h1V1087h1V1087h1V1087h1V1081h1V1081h1V1081h1V1087h1V1087h1V1084h1V1084h1V1084h1V1077h1V1077h1V1077h1V1077h1V1099h1V1103h1V1101h1V1096h1V1096h1V1096h1V1096h1V1099h1V1099h1V1100h1V1108h1V1103h1V1103h1V1103h1V1103h1V1103h1V1103h1V1094h1V1094h1V1094h1V1094h1V1073h1V1073h1V1073h1V1073h1V1099h1V1099h1V1103h1V1096h1V1086h1V1086h1V1086h1V1100h1V1102h1V1102h1V1097h1V1097h1V1097h1V1097h1V1103h1V1103h1V1103h1V1103h1V1115h1V1086h1V1086h1V1086h1V1107h1V1107h1V1113h1V1113h1V1113h1V1113h1V1100h1V1100h1V1100h1V1101h1V1101h1V1101h1V1101h1V1118h1V1118h1V1088h1V1088h1V1088h1V1112h1V1105h1V1105h1V1105h1V1117h1V1117h1V1118h1V1118h1V1112h1V1112h1V1112h1V1123h1V1097h1V1097h1V1097h1V1097h1V1132h1V1108h1V1108h1V1108h1V1111h1V1120h1V1120h1V1120h1V1120h1V1139h1V1139h1V1137h1V1119h1V1119h1V1119h1V1119h1V1136h1V1131h1V1131h1V1131h1V1119h1V1119h1V1119h1V1119h1V1132h1V1129h1V1129h1V1129h1V1129h1V1147h1V1126h1V1126h1V1126h1V1132h1V1150h1V1150h1V1151h1V1136h1V1136h1V1136h1V1136h1V1141h1V1133h1V1133h1V1133h1V1152h1V1144h1V1133h1V1133h1V1133h1V1133h1V1137h1V1137h1V1137h1V1138h1V1138h1V1138h1V1140h1V1145h1V1135h1V1135h1V1135h1V1147h1V1145h1V1122h1V1122h1V1122h1V1144h1V1144h1V1152h1V1152h1V1133h1V1133h1V1133h1V1135h1V1144h1V1151h1V1141h1V1141h1V1141h1V1141h1V1151h1V1155h1V1155h1V1148h1V1148h1V1148h1V1153h1V1153h1V1150h1V1150h1V1150h1V1129h1V1129h1V1129h1V1129h1V1162h1V1158h1V1158h1V1150h1V1150h1V1150h1V1150h1V1166h1V1166h1V1162h1V1156h1V1156h1V1156h1V1151h1V1151h1V1151h1V1154h1V1154h1V1154h1V1158h1V1161h1V1161h1V1161h1V1158h1V1158h1V1158h1V1158h1V1168h1V1168h1V1153h1V1153h1V1153h1V1153h1V1154h1V1154h1V1154h1V1158h1V1172h1V1173h1V1157h1V1157h1V1157h1V1164h1V1173h1V1164h1V1164h1V1164h1V1164h1V1162h1V1162h1V1162h1V1166h1V1179h1V1175h1V1175h1V1171h1V1171h1V1171h1V1171h1V1167h1V1167h1V1155h1V1155h1V1155h1V1155h1V1176h1V1181h1V1183h1V1183h1V1183h1V1183h1V1172h1V1172h1V1172h1V1172h1V1188h1V1189h1V1173h1V1173h1V1153h1V1153h1V1153h1V1153h1V1168h1V1157h1V1157h1V1157h1V1157h1V1168h1V1168h1V1177h1V1179h1V1172h1V1172h1V1144h1V1144h1V1144h1V1144h1V1173h1V1173h1V1171h1V1171h1V1154h1V1154h1V1154h1V1175h1V1175h1V1187h1V1187h1V1193h1V1152h1V1152h1V1152h1V1164h1V1172h1V1172h1V1194h1V1190h1V1190h1V1188h1V1185h1V1179h1V1179h1V1179h1V1179h1V1193h1V1164h1V1164h1V1164h1V1164h1V1187h1V1187h1V1181h1V1181h1V1181h1V1184h1V1184h1V1195h1V1185h1V1185h1V1185h1V1190h1V1188h1V1188h1V1188h1V1169h1V1169h1V1169h1V1169h1V1192h1V1196h1V1188h1V1174h1V1174h1V1174h1V1174h1V1190h1V1190h1V1165h1V1165h1V1165h1V1165h1V1185h1V1200h1V1200h1V1193h1V1193h1V1193h1V1193h1V1191h1V1191h1V1191h1V1200h1V1200h1V1209h1V1188h1V1188h1V1178h1V1178h1V1178h1V1178h1V1181h1V1181h1V1181h1V1189h1V1182h1V1182h1V1182h1V1188h1V1188h1V1200h1V1187h1V1187h1V1187h1V1185h1V1185h1V1185h1V1180h1V1180h1V1180h1V1180h1V1186h1V1197h1V1202h1V1195h1V1195h1V1195h1V1195h1V1197h1V1197h1V1197h1V1197h1V1212h1V1212h1V1201h1V1201h1V1201h1V1201h1V1214h1V1214h1V1207h1V1207h1V1207h1V1178h1V1178h1V1178h1V1197h1V1200h1V1200h1V1200h1V1224h1V1224h1V1209h1V1209h1V1209h1V1204h1V1204h1V1204h1V1204h1V1217h1V1217h1V1222h1V1212h1V1212h1V1212h1V1212h1V1217h1V1228h1V1215h1V1215h1V1215h1V1215h1V1231h1V1208h1V1208h1V1205h1V1205h1V1205h1V1205h1V1214h1V1214h1V1212h1V1212h1V1212h1V1212h1V1231h1V1231h1V1206h1V1206h1V1206h1V1206h1V1216h1V1216h1V1216h1V1216h1V1229h1V1229h1V1229h1V1232h1V1234h1V1239h1V1239h1V1239h1V1283h-1V1283h-1V1283h-1V1283h-1V1280h-1V1271h-1V1272h-1V1272h-1V1272h-1V1272h-1V1275h-1V1275h-1V1296h-1V1296h-1V1296h-1V1296h-1V1295h-1V1268h-1V1268h-1V1268h-1V1264h-1V1264h-1V1264h-1V1264h-1V1260h-1V1260h-1V1260h-1V1263h-1V1279h-1V1279h-1V1279h-1V1272h-1V1272h-1V1272h-1V1272h-1V1252h-1V1256h-1V1264h-1V1264h-1V1264h-1V1264h-1V1265h-1V1265h-1V1265h-1V1265h-1V1262h-1V1268h-1V1268h-1V1268h-1V1268h-1V1265h-1V1265h-1V1267h-1V1267h-1V1267h-1V1270h-1V1270h-1V1270h-1V1270h-1V1254h-1V1254h-1V1254h-1V1254h-1V1246h-1V1275h-1V1275h-1V1275h-1V1275h-1V1264h-1V1264h-1V1260h-1V1260h-1V1260h-1V1287h-1V1287h-1V1287h-1V1250h-1V1253h-1V1253h-1V1253h-1V1253h-1V1239h-1V1243h-1V1256h-1V1256h-1V1256h-1V1256h-1V1246h-1V1246h-1V1246h-1V1246h-1V1263h-1V1263h-1V1263h-1V1263h-1V1235h-1V1241h-1V1241h-1V1241h-1V1241h-1V1263h-1V1263h-1V1263h-1V1248h-1V1239h-1V1241h-1V1241h-1V1241h-1V1233h-1V1233h-1V1230h-1V1250h-1V1250h-1V1250h-1V1250h-1V1240h-1V1254h-1V1254h-1V1254h-1V1254h-1V1227h-1V1226h-1V1226h-1V1232h-1V1232h-1V1232h-1V1250h-1V1250h-1V1250h-1V1250h-1V1231h-1V1234h-1V1234h-1V1234h-1V1221h-1V1231h-1V1231h-1V1231h-1V1231h-1V1257h-1V1257h-1V1257h-1V1257h-1V1245h-1V1245h-1V1226h-1V1237h-1V1237h-1V1237h-1V1224h-1V1222h-1V1222h-1V1231h-1V1231h-1V1231h-1V1247h-1V1247h-1V1247h-1V1247h-1V1245h-1V1236h-1V1222h-1V1223h-1V1223h-1V1229h-1V1229h-1V1244h-1V1244h-1V1244h-1V1244h-1V1230h-1V1230h-1V1230h-1V1230h-1V1230h-1V1220h-1V1265h-1V1265h-1V1265h-1V1249h-1V1249h-1V1224h-1V1224h-1V1224h-1V1225h-1V1229h-1V1229h-1V1229h-1V1222h-1V1222h-1V1222h-1V1223h-1V1223h-1V1223h-1V1223h-1V1223h-1V1223h-1V1223h-1V1230h-1V1230h-1V1240h-1V1240h-1V1240h-1V1240h-1V1233h-1V1233h-1V1233h-1V1233h-1V1233h-1V1233h-1V1233h-1V1224h-1V1222h-1V1232h-1V1232h-1V1232h-1V1224h-1V1224h-1V1207h-1V1207h-1V1206h-1V1222h-1V1222h-1V1222h-1V1222h-1V1220h-1V1219h-1V1222h-1V1222h-1V1222h-1V1217h-1V1217h-1V1209h-1V1214h-1V1215h-1V1218h-1V1218h-1V1218h-1V1218h-1V1209h-1V1209h-1V1207h-1V1208h-1V1208h-1V1208h-1V1208h-1V1226h-1V1226h-1V1226h-1V1208h-1V1208h-1V1208h-1V1208h-1V1208h-1V1208h-1V1206h-1V1211h-1V1211h-1V1211h-1V1211h-1V1227h-1V1227h-1V1227h-1V1227h-1V1204h-1V1204h-1V1206h-1V1206h-1V1206h-1V1206h-1V1194h-1V1211h-1V1211h-1V1211h-1V1211h-1V1210h-1V1210h-1V1210h-1V1210h-1V1208h-1V1208h-1V1202h-1V1202h-1V1202h-1V1202h-1V1201h-1V1192h-1V1196h-1V1196h-1V1196h-1V1196h-1V1193h-1V1183h-1V1183h-1V1203h-1V1203h-1V1203h-1V1203h-1V1185h-1V1207h-1V1207h-1V1207h-1V1207h-1V1203h-1V1203h-1V1201h-1V1201h-1V1179h-1V1179h-1V1179h-1V1183h-1V1204h-1V1204h-1V1204h-1V1204h-1V1199h-1V1199h-1V1199h-1V1199h-1V1187h-1V1188h-1V1188h-1V1188h-1V1197h-1V1197h-1V1197h-1V1176h-1V1175h-1V1185h-1V1189h-1V1189h-1V1191h-1V1191h-1V1191h-1V1191h-1V1191h-1V1191h-1V1191h-1V1196h-1V1196h-1V1196h-1V1196h-1V1187h-1V1187h-1V1187h-1V1183h-1V1181h-1V1196h-1V1196h-1V1196h-1V1196h-1V1183h-1V1194h-1V1194h-1V1194h-1V1194h-1V1183h-1V1183h-1V1183h-1V1175h-1V1175h-1V1175h-1V1169h-1V1169h-1V1189h-1V1189h-1V1189h-1V1183h-1V1183h-1V1183h-1V1183h-1V1176h-1V1166h-1V1166h-1V1166h-1V1166h-1V1189h-1V1189h-1V1189h-1V1189h-1V1181h-1V1181h-1V1181h-1V1160h-1V1160h-1V1162h-1V1162h-1V1171h-1V1171h-1V1171h-1V1171h-1V1152h-1V1152h-1V1152h-1V1152h-1V1152h-1V1152h-1V1152h-1V1160h-1V1160h-1V1174h-1V1174h-1V1174h-1V1164h-1V1164h-1V1164h-1V1168h-1V1168h-1V1168h-1V1168h-1V1155h-1V1144h-1V1144h-1V1165h-1V1165h-1V1165h-1V1165h-1V1146h-1V1146h-1V1145h-1V1145h-1V1143h-1V1143h-1V1137h-1V1147h-1V1147h-1V1147h-1V1148h-1V1148h-1V1148h-1V1148h-1V1142h-1V1142h-1V1142h-1V1155h-1V1155h-1V1155h-1V1144h-1V1157h-1V1157h-1V1187h-1V1187h-1V1187h-1V1187h-1V1142h-1V1131h-1V1132h-1V1132h-1V1163h-1V1163h-1V1163h-1V1163h-1V1141h-1V1141h-1V1141h-1V1132h-1V1131h-1V1131h-1V1138h-1V1138h-1V1138h-1V1138h-1V1130h-1V1129h-1V1135h-1V1138h-1V1138h-1V1164h-1V1164h-1V1164h-1V1164h-1V1141h-1V1141h-1V1134h-1V1134h-1V1134h-1V1126h-1V1123h-1V1136h-1V1136h-1V1136h-1V1136h-1V1129h-1V1123h-1V1122h-1V1122h-1V1122h-1V1140h-1V1140h-1V1140h-1V1140h-1V1140h-1V1140h-1V1139h-1V1136h-1V1136h-1V1136h-1V1155h-1V1155h-1V1155h-1V1155h-1V1125h-1V1125h-1V1121h-1V1121h-1V1133h-1V1133h-1V1133h-1V1133h-1V1149h-1V1149h-1V1149h-1V1127h-1V1135h-1V1138h-1V1138h-1V1138h-1V1137h-1V1137h-1V1137h-1V1137h-1V1140h-1V1140h-1V1140h-1V1115h-1V1135h-1V1135h-1V1135h-1V1135h-1V1120h-1V1120h-1V1125h-1V1125h-1V1130h-1V1130h-1V1130h-1V1130h-1V1139h-1V1139h-1V1139h-1V1139h-1V1131h-1V1131h-1V1131h-1V1131h-1V1125h-1V1125h-1V1119h-1V1119h-1V1119h-1V1119h-1V1116h-1V1116h-1V1120h-1V1126h-1V1126h-1V1137h-1V1137h-1V1137h-1V1105h-1V1128h-1V1128h-1V1128h-1V1128h-1V1120h-1V1120h-1V1122h-1V1122h-1V1122h-1V1122h-1V1114h-1V1114h-1V1106h-1V1106h-1V1101h-1V1117h-1V1117h-1V1117h-1V1117h-1V1115h-1V1115h-1V1115h-1V1109h-1V1118h-1V1118h-1V1118h-1V1111h-1V1111h-1V1111h-1V1096h-1V1107h-1V1107h-1V1107h-1V1107h-1V1089h-1V1119h-1V1119h-1V1119h-1V1088h-1V1088h-1V1089h-1V1089h-1V1090h-1V1093h-1V1105h-1V1110h-1V1110h-1V1110h-1V1110h-1V1089h-1V1102h-1V1102h-1V1122h-1V1122h-1V1122h-1V1122h-1V1102h-1V1102h-1V1102h-1V1121h-1V1121h-1V1121h-1V1121h-1V1087h-1V1093h-1V1093h-1V1093h-1V1093h-1V1083h-1V1113h-1V1113h-1V1113h-1V1113h-1V1087h-1V1088h-1V1092h-1V1092h-1V1092h-1V1085h-1V1087h-1V1087h-1V1087h-1V1087h-1V1084h-1V1084h-1V1082h-1V1082h-1V1082h-1V1082h-1V1078h-1V1075h-1V1081h-1V1081h-1V1081h-1V1076h-1V1076h-1V1078h-1V1093h-1V1093h-1V1093h-1V1084h-1V1084h-1V1084h-1V1084h-1V1069h-1V1069h-1V1074h-1V1074h-1V1074h-1V1074h-1V1077h-1V1077h-1V1077h-1V1077h-1V1076h-1V1076h-1V1076h-1V1072h-1V1078h-1V1078h-1V1078h-1V1078h-1V1075h-1V1069h-1V1066h-1V1066h-1V1066h-1V1066h-1V1066h-1V1066h-1V1066h-1V1059h-1V1074h-1V1074h-1V1074h-1V1074h-1V1058h-1V1064h-1V1064h-1V1064h-1V1064h-1V1062h-1V1048h-1V1048h-1V1048h-1V1042h-1V1052h-1V1052h-1V1052h-1V1065h-1V1065h-1V1065h-1V1046h-1V1046h-1V1056h-1V1056h-1V1056h-1V1060h-1V1060h-1V1060h-1V1060h-1V1057h-1V1047h-1V1047h-1V1055h-1V1055h-1V1055h-1V1055h-1V1047h-1V1047h-1V1047h-1V1071h-1V1071h-1V1071h-1V1040h-1V1040h-1V1040h-1V1050h-1V1050h-1V1050h-1V1050h-1V1027h-1V1048h-1V1048h-1V1048h-1V1048h-1V1042h-1V1042h-1V1042h-1V1042h-1V1051h-1V1051h-1V1051h-1V1051h-1V1037h-1V1037h-1V1035h-1V1036h-1V1047h-1V1047h-1V1047h-1V1038h-1V1038h-1V1033h-1V1035h-1V1054h-1V1054h-1V1054h-1V1054h-1V1011h-1V1015h-1V1015h-1V1015h-1V1023h-1V1023h-1V1023h-1V1034h-1V1034h-1V1034h-1V1009h-1V1009h-1V1028h-1V1028h-1V1028h-1V1028h-1V1010h-1V1016h-1V1016h-1V1024h-1V1024h-1V1024h-1V1024h-1V1002h-1V1011h-1V1018h-1V1018h-1V1018h-1V1014h-1V1001h-1V1000h-1V1013h-1V1013h-1V1016h-1V1016h-1V1016h-1V1016h-1V1015h-1V1015h-1V1015h-1V1032h-1V1032h-1V1032h-1V1032h-1V1003h-1V1003h-1V998h-1V992h-1V1021h-1V1021h-1V1021h-1V1032h-1V1032h-1V1032h-1V1032h-1V997h-1V991h-1V991h-1V991h-1V991h-1V998h-1V998h-1V998h-1V998h-1V977h-1V977h-1V984h-1V1004h-1V1004h-1V1004h-1V1004h-1V968h-1V968h-1V968h-1V965h-1V998h-1V998h-1V998h-1V992h-1V992h-1V992h-1V992h-1V977h-1V977h-1V961h-1V961h-1V954h-1V953h-1V973h-1V973h-1V973h-1V973h-1V963h-1V963h-1V963h-1V951h-1V957h-1V957h-1V957h-1V957h-1V953h-1V950h-1V962h-1V962h-1V962h-1V962h-1V937h-1V935h-1V941h-1V956h-1V956h-1V956h-1V956h-1V947h-1V947h-1V947h-1V939h-1V939h-1V935h-1V953h-1V953h-1V953h-1V953h-1V941h-1V937h-1V930h-1V966h-1V966h-1V966h-1V966h-1V933h-1V933h-1V933h-1V921h-1V942h-1V942h-1V942h-1V942h-1V915h-1V926h-1V926h-1V926h-1V920h-1V920h-1V920h-1V916h-1V921h-1V921h-1V922h-1V922h-1V922h-1V922h-1V917h-1V913h-1V913h-1V913h-1V932h-1V932h-1V932h-1V924h-1V930h-1V930h-1V930h-1V922h-1V921h-1V921h-1V921h-1V909h-1V905h-1V908h-1V908h-1V908h-1V916h-1V916h-1V938h-1V938h-1V938h-1V938h-1V929h-1V929h-1V929h-1V912h-1V912h-1V916h-1V916h-1V916h-1V916h-1V930h-1V930h-1V930h-1V926h-1V926h-1V921h-1V921h-1V932h-1V942h-1V942h-1V942h-1V942h-1V924h-1V924h-1V923h-1V923h-1V923h-1V927h-1V927h-1V927h-1V926h-1V926h-1V920h-1V917h-1V940h-1V940h-1V951h-1V951h-1V951h-1V951h-1V927h-1V930h-1V930h-1V930h-1V930h-1V942h-1V942h-1V942h-1V942h-1V932h-1V928h-1V928h-1V930h-1V930h-1V932h-1V932h-1V932h-1V932h-1V931h-1V942h-1V942h-1V942h-1V956h-1V956h-1V956h-1V956h-1V935h-1V932h-1V932h-1V936h-1V936h-1V936h-1V938h-1V938h-1V942h-1V942h-1V959h-1V959h-1V959h-1V924h-1V925h-1V925h-1V925h-1V925h-1V925h-1V926h-1V933h-1V933h-1V945h-1V947h-1V947h-1V948h-1V948h-1V948h-1V953h-1V966h-1V966h-1V966h-1V966h-1V956h-1V958h-1V958h-1V958h-1V958h-1V949h-1V949h-1V949h-1V942h-1V942h-1V942h-1V951h-1V951h-1V951h-1V939h-1V940h-1V947h-1V947h-1V947h-1V946h-1V946h-1V947h-1V955h-1V955h-1V955h-1V955h-1V945h-1V941h-1V951h-1V956h-1V956h-1V956h-1V956h-1V951h-1V951h-1V951h-1V947h-1V948h-1V951h-1V951h-1V951h-1V951h-1V951h-1V951h-1V952h-1V952h-1V953h-1V984h-1V984h-1V984h-1V984h-1V1003h-1V1003h-1V1003h-1V1003h-1V984h-1V984h-1V984h-1V984h-1V983h-1V973h-1V967h-1V984h-1V984h-1V992h-1V992h-1V992h-1V992h-1V985h-1V985h-1V985h-1V973h-1V989h-1V989h-1V989h-1V989h-1V969h-1V969h-1V969h-1V999h-1V999h-1V999h-1V999h-1V988h-1V988h-1V996h-1V996h-1V996h-1V984h-1V996h-1V1005h-1V1005h-1V1005h-1V1008h-1V1008h-1V1008h-1V999h-1V1003h-1V1003h-1V1005h-1V1005h-1V1005h-1V1005h-1V1002h-1V1002h-1V1002h-1V1002h-1V1007h-1V1007h-1V1007h-1V998h-1V997h-1V1009h-1V1009h-1V1009h-1V1026h-1V1026h-1V1026h-1V1026h-1V1019h-1V1018h-1V1011h-1V1025h-1V1025h-1V1040h-1V1040h-1V1040h-1V1040h-1V1032h-1V1040h-1V1043h-1V1043h-1V1043h-1V1043h-1V1031h-1V1052h-1V1052h-1V1052h-1V1043h-1V1043h-1V1043h-1V1058h-1V1058h-1V1058h-1V1058h-1V1049h-1V1049h-1V1049h-1V1035h-1V1035h-1V1074h-1V1074h-1V1074h-1V1074h-1V1045h-1V1045h-1V1045h-1V1045h-1V1051h-1V1051h-1V1051h-1V1058h-1V1065h-1V1065h-1V1065h-1V1065h-1V1059h-1V1059h-1V1059h-1V1065h-1V1069h-1V1069h-1V1070h-1V1104h-1V1104h-1V1104h-1V1078h-1V1078h-1V1068h-1V1070h-1V1070h-1V1070h-1V1070h-1V1070h-1V1068h-1V1069h-1V1073h-1V1084h-1V1084h-1V1084h-1V1082h-1V1085h-1V1085h-1V1085h-1V1085h-1V1077h-1V1088h-1V1094h-1V1094h-1V1104h-1V1111h-1V1111h-1V1111h-1V1096h-1V1131h-1V1131h-1V1131h-1V1131h-1V1115h-1V1115h-1V1115h-1V1119h-1V1119h-1V1119h-1V1105h-1V1117h-1V1117h-1V1120h-1V1124h-1V1124h-1V1124h-1V1116h-1V1116h-1V1112h-1V1125h-1V1142h-1V1142h-1V1142h-1V1142h-1V1133h-1V1133h-1V1133h-1V1117h-1V1135h-1V1135h-1V1140h-1V1142h-1V1142h-1V1142h-1V1136h-1V1142h-1V1142h-1V1142h-1V1138h-1V1138h-1V1154h-1V1154h-1V1154h-1V1154h-1V1147h-1V1139h-1V1141h-1V1148h-1V1148h-1V1154h-1V1154h-1V1154h-1V1154h-1V1154h-1V1154h-1V1154h-1V1154h-1V1151h-1V1152h-1V1153h-1V1171h-1V1171h-1V1171h-1V1171h-1V1168h-1V1168h-1V1176h-1V1176h-1V1178h-1V1178h-1V1178h-1V1178h-1V1185h-1V1185h-1V1185h-1V1185h-1V1172h-1V1172h-1V1209h-1V1209h-1V1209h-1V1209h-1V1167h-1V1167h-1V1168h-1V1168h-1V1182h-1V1188h-1V1188h-1V1188h-1V1174h-1V1176h-1V1176h-1V1197h-1V1197h-1V1197h-1V1197h-1V1193h-1V1199h-1V1199h-1V1204h-1V1204h-1V1204h-1V1196h-1V1182h-1V1187h-1V1204h-1V1204h-1V1208h-1V1208h-1V1208h-1V1199h-1V1199h-1V1216h-1V1216h-1V1216h-1V1216h-1V1215h-1V1215h-1V1194h-1V1204h-1V1209h-1V1209h-1V1212h-1V1212h-1V1212h-1V1209h-1V1203h-1V1200h-1V1225h-1V1225h-1V1225h-1V1214h-1V1214h-1V1214h-1V1222h-1V1222h-1V1222h-1V1222h-1V1220h-1V1220h-1V1215h-1V1215h-1V1213h-1V1213h-1V1214h-1V1214h-1V1224h-1V1224h-1V1224h-1V1229h-1V1229h-1V1229h-1V1229h-1V1227h-1V1225h-1V1219h-1V1219h-1V1230h-1V1230h-1V1230h-1V1230h-1V1229h-1V1229h-1V1229h-1V1229h-1V1222h-1V1234h-1V1234h-1V1234h-1V1234h-1V1234h-1V1234h-1V1221h-1V1223h-1V1227h-1V1227h-1V1229h-1V1229h-1V1229h-1V1229h-1V1222h-1V1222h-1V1223h-1V1223h-1V1228h-1V1228h-1V1244h-1V1244h-1V1244h-1V1244h-1V1229h-1V1239h-1V1239h-1V1239h-1V1239h-1V1259h-1V1259h-1V1259h-1V1259h-1V1258h-1V1258h-1V1242h-1V1242h-1V1235h-1V1261h-1V1261h-1V1261h-1V1239h-1V1244h-1V1244h-1V1244h-1V1244h-1V1237h-1V1237h-1V1237h-1V1237h-1V1238h-1V1238h-1V1238h-1V1238h-1V1233h-1V1234h-1V1234h-1V1234h-1V1236h-1V1236h-1V1236h-1V1236h-1V1233h-1V1251h-1V1251h-1V1251h-1V1251h-1V1251h-1V1237h-1V1249h-1V1249h-1V1249h-1V1261h-1V1261h-1V1261h-1V1261h-1V1246h-1V1246h-1V1250h-1V1250h-1V1250h-1V1254h-1V1254h-1V1254h-1V1257h-1V1257h-1V1257h-1V1257h-1V1247h-1V1247h-1V1260h-1V1260h-1V1260h-1V1253h-1V1253h-1V1253h-1V1245h-1V1245h-1V1253h-1V1263h-1V1263h-1V1263h-1V1263h-1V1263h-1V1258h-1V1258h-1V1258h-1V1258h-1V1258h-1V1258h-1V1258h-1V1258h-1V1257h-1V1257h-1V1257h-1V1262h-1V1262h-1V1262h-1V1262h-1V1256h-1V1256h-1V1256h-1V1256h-1V1256h-1V1247h-1V1247h-1V1255h-1V1255h-1V1255h-1V1256h-1V1256h-1V1256h-1V1256h-1V1256h-1V1252h-1V1262h-1V1262h-1V1262h-1V1262h-1V1263h-1V1263h-1V1263h-1V1263h-1V1259h-1V1258h-1V1258h-1V1258h-1V1257h-1V1260h-1V1260h-1V1260h-1V1260h-1V1260h-1V1256h-1V1256h-1V1260h-1V1270h-1V1278h-1V1278h-1V1278h-1V1278h-1V1260h-1V1265h-1V1265h-1V1265h-1V1258h-1V1263h-1V1272h-1V1272h-1V1272h-1V1272h-1V1257h-1V1258h-1V1258h-1V1259h-1V1259h-1V1275h-1V1275h-1V1275h-1V1275h-1V1266h-1V1279h-1V1279h-1V1279h-1V1279h-1V1277h-1V1277h-1V1271h-1V1271h-1V1283h-1V1283h-1V1283h-1V1269h-1V1268h-1V1278h-1V1291h-1V1291h-1V1291h-1V1291h-1V1288h-1V1288h-1V1288h-1V1272h-1V1272h-1V1290h-1V1290h-1V1290h-1V1283h-1V1283h-1V1283h-1V1283h-1V1298h-1V1298h-1V1298h-1V1277h-1V1277h-1V1277h-1V1279h-1V1279h-1V1279h-1V1276h-1V1276h-1V1275h-1V1275h-1V1283h-1V1283h-1V1283h-1V1278h-1V1278h-1V1278h-1V1278h-1V1273h-1V1298h-1V1298h-1V1298h-1V1293h-1V1293h-1V1293h-1V1277h-1V1280h-1V1286h-1V1286h-1V1286h-1V1286h-1V1274h-1V1280h-1V1292h-1V1292h-1V1292h-1V1279h-1V1279h-1V1279h-1V1279h-1V1278h-1V1283h-1V1288h-1V1288h-1V1288h-1V1288h-1V1277h-1V1273h-1V1285h-1V1285h-1V1285h-1V1285h-1V1278h-1V1278h-1V1286h-1V1286h-1V1286h-1V1286h-1V1298h-1V1298h-1V1298h-1V1297h-1V1282h-1V1277h-1V1277h-1V1280h-1V1299h-1V1299h-1V1299h-1V1299h-1V1297h-1V1297h-1V1297h-1V1280h-1V1282h-1V1282h-1V1282h-1V1282h-1V1293h-1V1293h-1V1293h-1V1293h-1V1273h-1V1283h-1V1291h-1V1291h-1V1291h-1V1291h-1V1287h-1V1288h-1V1288h-1V1288h-1V1281h-1V1284h-1V1284h-1V1284h-1V1285h-1V1285h-1V1285h-1V1283h-1V1293h-1V1293h-1V1293h-1V1293h-1V1284h-1V1284h-1V1287h-1V1287h-1V1287h-1V1287h-1V1285h-1V1285h-1V1285h-1V1282h-1V1282h-1V1282h-1V1279h-1V1286h-1V1286h-1V1286h-1V1279h-1V1288h-1V1288h-1V1288h-1V1274h-1V1281h-1V1281h-1V1281h-1V1287h-1V1288h-1V1288h-1V1288h-1V1288h-1V1278h-1V1285h-1V1285h-1V1285h-1V1285h-1V1283h-1V1283h-1V1281h-1V1279h-1V1279h-1V1288h-1V1288h-1V1288h-1V1288h-1V1285h-1V1285h-1V1283h-1V1279h-1V1274h-1V1288h-1V1288h-1V1288h-1V1288h-1V1285h-1V1291h-1V1291h-1V1291h-1V1291h-1V1284h-1V1284h-1V1284h-1V1284h-1V1274h-1V1280h-1V1282h-1V1282h-1V1283h-1V1287h-1V1287h-1V1289h-1V1289h-1V1289h-1V1282h-1V1305h-1V1305h-1V1305h-1V1305h-1V1283h-1V1285h-1V1294h-1V1294h-1V1294h-1V1294h-1V1287h-1V1284h-1V1284h-1V1286h-1V1291h-1V1291h-1V1291h-1V1288h-1V1288h-1V1281h-1V1281h-1V1283h-1V1283h-1V1283h-1V1283h-1V1281h-1V1281h-1V1276h-1V1276h-1V1276h-1V1276h-1V1276h-1V1276h-1V1275h-1V1284h-1V1284h-1V1284h-1V1284h-1V1283h-1V1287h-1V1291h-1V1291h-1V1291h-1V1288h-1V1282h-1V1281h-1V1279h-1V1290h-1V1290h-1V1290h-1V1290h-1V1283h-1V1283h-1V1283h-1V1286h-1V1286h-1V1286h-1V1286h-1V1273h-1V1273h-1V1273h-1V1292h-1V1292h-1V1292h-1V1292h-1V1278h-1V1285h-1V1285h-1V1288h-1V1288h-1V1288h-1V1288h-1V1274h-1V1274h-1V1271h-1V1271h-1V1271h-1V1278h-1V1284h-1V1284h-1V1284h-1V1281h-1V1281h-1V1281h-1V1281h-1V1281h-1V1281h-1V1287h-1V1287h-1V1287h-1V1284h-1V1284h-1V1279h-1V1273h-1V1273h-1V1273h-1V1271h-1V1271h-1V1276h-1V1276h-1V1276h-1V1284h-1V1284h-1V1284h-1V1276h-1V1276h-1V1276h-1V1276h-1V1276h-1V1275h-1V1275h-1V1275h-1V1270h-1V1293h-1V1293h-1V1293h-1V1275h-1V1276h-1V1276h-1V1276h-1V1273h-1V1273h-1V1276h-1V1276h-1V1276h-1V1276h-1V1268h-1V1272h-1V1276h-1V1281h-1V1281h-1V1281h-1V1281h-1V1276h-1V1276h-1V1272h-1V1272h-1V1271h-1V1268h-1V1268h-1V1270h-1V1270h-1V1270h-1V1267h-1V1267h-1V1267h-1V1267h-1V1276h-1V1276h-1Z" fill="#000066"/>
<path d="M790 1574h1V1574h1V1574h1V1575h1V1574h1V1572h1V1572h1V1571h1V1571h1V1570h1V1570h1V1569h1V1569h1V1569h1V1569h1V1567h1V1567h1V1565h1V1565h1V1564h1V1564h1V1564h1V1561h1V1561h1V1561h1V1557h1V1557h1V1557h1V1557h1V1556h1V1556h1V1556h1V1556h1V1551h1V1551h1V1551h1V1551h1V1552h1V1552h1V1552h1V1552h1V1552h1V1552h1V1552h1V1552h1V1551h1V1550h1V1550h1V1550h1V1545h1V1545h1V1545h1V1543h1V1543h1V1543h1V1544h1V1544h1V1544h1V1541h1V1541h1V1541h1V1539h1V1539h1V1539h1V1540h1V1540h1V1540h1V1537h1V1537h1V1537h1V1534h1V1534h1V1534h1V1535h1V1535h1V1535h1V1533h1V1533h1V1533h1V1533h1V1533h1V1531h1V1531h1V1530h1V1529h1V1529h1V1529h1V1528h1V1528h1V1524h1V1524h1V1524h1V1525h1V1526h1V1522h1V1522h1V1522h1V1522h1V1523h1V1522h1V1520h1V1520h1V1518h1V1517h1V1515h1V1515h1V1515h1V1515h1V1516h1V1516h1V1511h1V1511h1V1511h1V1513h1V1511h1V1511h1V1511h1V1511h1V1507h1V1505h1V1505h1V1503h1V1503h1V1503h1V1503h1V1502h1V1502h1V1502h1V1501h1V1498h1V1498h1V1498h1V1498h1V1498h1V1498h1V1496h1V1496h1V1496h1V1497h1V1491h1V1491h1V1491h1V1491h1V1492h1V1490h1V1490h1V1490h1V1490h1V1489h1V1448h1V1448h1V1448h1V1487h1V1487h1V1486h1V1486h1V1479h1V1479h1V1479h1V1479h1V1481h1V1477h1V1477h1V1475h1V1475h1V1475h1V1475h1V1475h1V1475h1V1475h1V1476h1V1471h1V1471h1V1471h1V1470h1V1470h1V1466h1V1466h1V1466h1V1465h1V1465h1V1464h1V1464h1V1461h1V1461h1V1461h1V1461h1V1454h1V1454h1V1454h1V1454h1V1454h1V1454h1V1454h1V1456h1V1455h1V1449h1V1449h1V1449h1V1448h1V1446h1V1446h1V1446h1V1439h1V1433h1V1433h1V1433h1V1435h1V1435h1V1435h1V1435h1V1433h1V1433h1V1433h1V1428h1V1427h1V1427h1V1427h1V1428h1V1425h1V1425h1V1425h1V1417h1V1417h1V1417h1V1420h1V1415h1V1415h1V1415h1V1415h1V1418h1V1414h1V1414h1V1412h1V1412h1V1410h1V1410h1V1410h1V1410h1V1411h1V1405h1V1400h1V1400h1V1400h1V1400h1V1403h1V1401h1V1400h1V1400h1V1396h1V1396h1V1396h1V1396h1V1392h1V1388h1V1387h1V1387h1V1387h1V1385h1V1385h1V1379h1V1379h1V1379h1V1379h1V1381h1V1378h1V1378h1V1374h1V1374h1V1374h1V1374h1V1363h1V1363h1V1363h1V1363h1V1363h1V1367h1V1369h1V1366h1V1362h1V1362h1V1362h1V1359h1V1355h1V1355h1V1355h1V1350h1V1350h1V1350h1V1344h1V1344h1V1344h1V1347h1V1338h1V1338h1V1338h1V1338h1V1339h1V1337h1V1330h1V1325h1V1324h1V1324h1V1324h1V1324h1V1324h1V1328h1V1321h1V1321h1V1319h1V1319h1V1314h1V1314h1V1314h1V1309h1V1309h1V1309h1V1309h1V1315h1V1309h1V1304h1V1304h1V1304h1V1307h1V1307h1V1308h1V1306h1V1306h1V1292h1V1292h1V1292h1V1290h1V1290h1V1290h1V1290h1V1291h1V1291h1V1291h1V1288h1V1288h1V1282h1V1282h1V1279h1V1271h1V1271h1V1271h1V1271h1V1267h1V1267h1V1267h1V1268h1V1268h1V1268h1V1268h1V1268h1V1260h1V1255h1V1255h1V1255h1V1255h1V1255h1V1250h1V1250h1V1250h1V1251h1V1250h1V1250h1V1242h1V1242h1V1242h1V1249h1V1243h1V1243h1V1240h1V1239h1V1233h1V1233h1V1233h1V1231h1V1231h1V1231h1V1231h1V1231h1V1231h1V1217h1V1217h1V1217h1V1217h1V1220h1V1220h1V1220h1V1220h1V1231h1V1231h1V1230h1V1230h1V1225h1V1225h1V1225h1V1227h1V1228h1V1225h1V1225h1V1225h1V1225h1V1222h1V1221h1V1221h1V1221h1V1221h1V1221h1V1218h1V1218h1V1218h1V1220h1V1220h1V1220h1V1220h1V1202h1V1202h1V1202h1V1202h1V1216h1V1217h1V1214h1V1209h1V1209h1V1209h1V1224h1V1224h1V1224h1V1212h1V1198h1V1198h1V1198h1V1198h1V1206h1V1212h1V1208h1V1208h1V1208h1V1208h1V1214h1V1214h1V1194h1V1194h1V1194h1V1194h1V1218h1V1218h1V1215h1V1207h1V1207h1V1207h1V1209h1V1209h1V1208h1V1208h1V1208h1V1208h1V1218h1V1211h1V1211h1V1210h1V1210h1V1210h1V1210h1V1220h1V1216h1V1216h1V1216h1V1211h1V1211h1V1211h1V1211h1V1212h1V1212h1V1212h1V1214h1V1213h1V1211h1V1211h1V1211h1V1211h1V1209h1V1200h1V1198h1V1198h1V1198h1V1198h1V1207h1V1206h1V1206h1V1206h1V1206h1V1208h1V1205h1V1205h1V1205h1V1205h1V1206h1V1206h1V1196h1V1196h1V1196h1V1196h1V1209h1V1194h1V1192h1V1192h1V1192h1V1192h1V1198h1V1191h1V1191h1V1191h1V1191h1V1193h1V1193h1V1193h1V1194h1V1194h1V1194h1V1194h1V1203h1V1203h1V1203h1V1203h1V1204h1V1193h1V1193h1V1189h1V1189h1V1189h1V1189h1V1189h1V1194h1V1194h1V1187h1V1187h1V1187h1V1187h1V1190h1V1190h1V1190h1V1185h1V1185h1V1185h1V1187h1V1184h1V1182h1V1182h1V1182h1V1188h1V1188h1V1188h1V1188h1V1190h1V1172h1V1172h1V1172h1V1172h1V1173h1V1177h1V1177h1V1177h1V1180h1V1187h1V1181h1V1181h1V1181h1V1185h1V1185h1V1184h1V1184h1V1184h1V1184h1V1185h1V1184h1V1170h1V1170h1V1170h1V1168h1V1168h1V1168h1V1168h1V1172h1V1176h1V1185h1V1177h1V1177h1V1177h1V1177h1V1182h1V1180h1V1180h1V1180h1V1175h1V1169h1V1168h1V1168h1V1168h1V1171h1V1171h1V1162h1V1162h1V1162h1V1162h1V1167h1V1167h1V1167h1V1167h1V1172h1V1172h1V1169h1V1169h1V1169h1V1175h1V1175h1V1175h1V1166h1V1166h1V1166h1V1175h1V1166h1V1166h1V1166h1V1166h1V1172h1V1172h1V1172h1V1170h1V1170h1V1170h1V1170h1V1170h1V1170h1V1163h1V1163h1V1163h1V1167h1V1167h1V1159h1V1159h1V1159h1V1159h1V1167h1V1167h1V1167h1V1178h1V1178h1V1178h1V1178h1V1166h1V1166h1V1166h1V1167h1V1171h1V1171h1V1172h1V1172h1V1172h1V1182h1V1182h1V1181h1V1181h1V1181h1V1181h1V1190h1V1186h1V1186h1V1166h1V1166h1V1166h1V1175h1V1174h1V1174h1V1174h1V1174h1V1186h1V1186h1V1186h1V1186h1V1189h1V1189h1V1189h1V1189h1V1188h1V1188h1V1188h1V1195h1V1195h1V1200h1V1202h1V1198h1V1198h1V1198h1V1198h1V1188h1V1181h1V1181h1V1181h1V1181h1V1189h1V1189h1V1189h1V1189h1V1191h1V1191h1V1197h1V1197h1V1197h1V1209h1V1209h1V1209h1V1205h1V1205h1V1205h1V1203h1V1195h1V1195h1V1195h1V1195h1V1201h1V1201h1V1201h1V1205h1V1205h1V1205h1V1205h1V1219h1V1219h1V1220h1V1220h1V1210h1V1210h1V1210h1V1213h1V1213h1V1213h1V1213h1V1215h1V1215h1V1216h1V1218h1V1218h1V1223h1V1217h1V1217h1V1217h1V1217h1V1221h1V1221h1V1227h1V1226h1V1210h1V1210h1V1210h1V1220h1V1220h1V1232h1V1223h1V1223h1V1223h1V1223h1V1229h1V1232h1V1232h1V1232h1V1232h1V1235h1V1235h1V1235h1V1235h1V1237h1V1231h1V1231h1V1231h1V1231h1V1231h1V1231h1V1238h1V1241h1V1241h1V1241h1V1243h1V1236h1V1236h1V1236h1V1236h1V1236h1V1244h1V1244h1V1244h1V1226h1V1226h1V1226h1V1226h1V1235h1V1238h1V1238h1V1238h1V1240h1V1234h1V1231h1V1231h1V1231h1V1224h1V1224h1V1224h1V1242h1V1242h1V1184h1V1184h1V1184h1V1230h1V1230h1V1238h1V1231h1V1231h1V1231h1V1231h1V1235h1V1235h1V1235h1V1250h1V1236h1V1236h1V1236h1V1236h1V1247h1V1247h1V1247h1V1243h1V1243h1V1240h1V1240h1V1232h1V1232h1V1232h1V1232h1V1245h1V1245h1V1245h1V1252h1V1253h1V1253h1V1250h1V1250h1V1250h1V1242h1V1242h1V1242h1V1259h1V1248h1V1248h1V1248h1V1249h1V1249h1V1252h1V1251h1V1251h1V1251h1V1251h1V1252h1V1256h1V1262h1V1255h1V1250h1V1250h1V1250h1V1250h1V1263h1V1263h1V1263h1V1265h1V1262h1V1261h1V1261h1V1261h1V1261h1V1261h1V1255h1V1255h1V1255h1V1255h1V1244h1V1244h1V1244h1V1244h1V1259h1V1259h1V1262h1V1262h1V1262h1V1262h1V1270h1V1263h1V1263h1V1263h1V1263h1V1268h1V1242h1V1242h1V1242h1V1242h1V1267h1V1279h1V1279h1V1279h1V1279h1V1279h1V1289h1V1289h1V1292h1V1288h1V1288h1V1288h1V1288h1V1298h1V1299h1V1300h1V1299h1V1299h1V1299h1V1294h1V1294h1V1294h1V1294h1V1297h1V1297h1V1295h1V1295h1V1295h1V1295h1V1304h1V1314h1V1315h1V1311h1V1311h1V1311h1V1308h1V1308h1V1308h1V1308h1V1320h1V1320h1V1312h1V1312h1V1312h1V1312h1V1318h1V1329h1V1318h1V1318h1V1318h1V1318h1V1325h1V1327h1V1330h1V1330h1V1323h1V1323h1V1323h1V1327h1V1327h1V1327h1V1327h1V1333h1V1330h1V1330h1V1330h1V1330h1V1320h1V1320h1V1320h1V1320h1V1338h1V1338h1V1340h1V1340h1V1340h1V1341h1V1341h1V1328h1V1328h1V1328h1V1336h1V1337h1V1337h1V1346h1V1341h1V1340h1V1340h1V1327h1V1327h1V1327h1V1327h1V1344h1V1344h1V1344h1V1344h1V1341h1V1341h1V1341h1V1338h1V1338h1V1338h1V1341h1V1341h1V1341h1V1343h1V1350h1V1337h1V1337h1V1337h1V1337h1V1337h1V1337h1V1351h1V1352h1V1353h1V1353h1V1353h1V1332h1V1332h1V1332h1V1341h1V1341h1V1341h1V1341h1V1352h1V1354h1V1355h1V1355h1V1362h1V1343h1V1343h1V1343h1V1354h1V1354h1V1354h1V1354h1V1352h1V1351h1V1351h1V1351h1V1363h1V1363h1V1366h1V1363h1V1363h1V1363h1V1376h1V1370h1V1370h1V1370h1V1370h1V1371h1V1371h1V1373h1V1377h1V1377h1V1377h1V1380h1V1382h1V1381h1V1381h1V1381h1V1383h1V1380h1V1380h1V1380h1V1378h1V1378h1V1378h1V1378h1V1374h1V1374h1V1374h1V1374h1V1377h1V1377h1V1377h1V1377h1V1377h1V1388h1V1384h1V1384h1V1384h1V1384h1V1387h1V1389h1V1395h1V1395h1V1395h1V1396h1V1396h1V1388h1V1385h1V1385h1V1385h1V1390h1V1390h1V1380h1V1380h1V1380h1V1380h1V1392h1V1384h1V1384h1V1384h1V1384h1V1396h1V1396h1V1396h1V1395h1V1395h1V1395h1V1386h1V1386h1V1386h1V1386h1V1396h1V1396h1V1398h1V1398h1V1398h1V1398h1V1403h1V1397h1V1397h1V1397h1V1397h1V1406h1V1405h1V1405h1V1405h1V1397h1V1397h1V1397h1V1393h1V1393h1V1393h1V1393h1V1396h1V1396h1V1396h1V1396h1V1406h1V1406h1V1405h1V1400h1V1400h1V1400h1V1400h1V1392h1V1392h1V1392h1V1405h1V1405h1V1405h1V1401h1V1399h1V1399h1V1399h1V1399h1V1399h1V1402h1V1402h1V1402h1V1417h1V1417h1V1418h1V1418h1V1414h1V1405h1V1405h1V1405h1V1411h1V1411h1V1416h1V1420h1V1411h1V1411h1V1411h1V1411h1V1410h1V1410h1V1410h1V1421h1V1422h1V1420h1V1420h1V1416h1V1412h1V1412h1V1412h1V1404h1V1404h1V1404h1V1404h1V1404h1V1412h1V1410h1V1410h1V1410h1V1410h1V1422h1V1422h1V1423h1V1423h1V1422h1V1422h1V1422h1V1424h1V1424h1V1419h1V1418h1V1418h1V1418h1V1419h1V1419h1V1421h1V1430h1V1429h1V1429h1V1429h1V1429h1V1428h1V1424h1V1424h1V1424h1V1429h1V1424h1V1424h1V1424h1V1425h1V1425h1V1423h1V1423h1V1423h1V1435h1V1435h1V1421h1V1421h1V1421h1V1421h1V1433h1V1435h1V1434h1V1431h1V1431h1V1431h1V1431h1V1434h1V1440h1V1440h1V1440h1V1440h1V1441h1V1440h1V1440h1V1440h1V1427h1V1427h1V1427h1V1443h1V1449h1V1448h1V1432h1V1432h1V1432h1V1448h1V1451h1V1452h1V1452h1V1442h1V1442h1V1442h1V1442h1V1445h1V1449h1V1449h1V1449h1V1449h1V1452h1V1456h1V1456h1V1446h1V1446h1V1446h1V1446h1V1454h1V1454h1V1457h1V1455h1V1445h1V1445h1V1445h1V1445h1V1452h1V1453h1V1453h1V1445h1V1445h1V1445h1V1445h1V1448h1V1448h1V1447h1V1447h1V1447h1V1447h1V1455h1V1458h1V1458h1V1464h1V1464h1V1467h1V1468h1V1456h1V1456h1V1456h1V1456h1V1456h1V1456h1V1466h1V1466h1V1463h1V1463h1V1498h-1V1498h-1V1491h-1V1493h-1V1496h-1V1496h-1V1496h-1V1485h-1V1485h-1V1485h-1V1493h-1V1493h-1V1493h-1V1493h-1V1481h-1V1482h-1V1482h-1V1482h-1V1480h-1V1492h-1V1492h-1V1492h-1V1492h-1V1483h-1V1483h-1V1483h-1V1478h-1V1478h-1V1478h-1V1475h-1V1476h-1V1476h-1V1478h-1V1478h-1V1478h-1V1478h-1V1475h-1V1483h-1V1483h-1V1483h-1V1483h-1V1477h-1V1481h-1V1485h-1V1485h-1V1485h-1V1485h-1V1482h-1V1482h-1V1482h-1V1482h-1V1472h-1V1472h-1V1472h-1V1471h-1V1471h-1V1471h-1V1471h-1V1471h-1V1470h-1V1466h-1V1466h-1V1466h-1V1462h-1V1464h-1V1472h-1V1472h-1V1472h-1V1472h-1V1459h-1V1460h-1V1460h-1V1460h-1V1461h-1V1461h-1V1461h-1V1458h-1V1458h-1V1458h-1V1454h-1V1474h-1V1474h-1V1474h-1V1474h-1V1471h-1V1471h-1V1471h-1V1460h-1V1457h-1V1457h-1V1456h-1V1456h-1V1457h-1V1457h-1V1457h-1V1461h-1V1461h-1V1461h-1V1461h-1V1460h-1V1466h-1V1466h-1V1466h-1V1466h-1V1449h-1V1450h-1V1450h-1V1450h-1V1450h-1V1457h-1V1457h-1V1457h-1V1443h-1V1455h-1V1455h-1V1455h-1V1455h-1V1447h-1V1447h-1V1447h-1V1459h-1V1459h-1V1459h-1V1448h-1V1445h-1V1447h-1V1447h-1V1449h-1V1449h-1V1449h-1V1449h-1V1449h-1V1448h-1V1467h-1V1467h-1V1467h-1V1467h-1V1466h-1V1455h-1V1455h-1V1455h-1V1455h-1V1451h-1V1442h-1V1442h-1V1442h-1V1440h-1V1440h-1V1440h-1V1437h-1V1439h-1V1455h-1V1455h-1V1455h-1V1455h-1V1442h-1V1442h-1V1442h-1V1438h-1V1443h-1V1443h-1V1443h-1V1443h-1V1439h-1V1439h-1V1439h-1V1440h-1V1440h-1V1440h-1V1440h-1V1438h-1V1431h-1V1431h-1V1431h-1V1431h-1V1430h-1V1431h-1V1431h-1V1431h-1V1426h-1V1423h-1V1424h-1V1424h-1V1424h-1V1424h-1V1426h-1V1426h-1V1429h-1V1429h-1V1429h-1V1429h-1V1428h-1V1424h-1V1424h-1V1427h-1V1427h-1V1437h-1V1437h-1V1437h-1V1425h-1V1425h-1V1425h-1V1425h-1V1438h-1V1439h-1V1439h-1V1439h-1V1428h-1V1428h-1V1426h-1V1426h-1V1431h-1V1431h-1V1431h-1V1425h-1V1425h-1V1425h-1V1413h-1V1412h-1V1432h-1V1432h-1V1432h-1V1432h-1V1414h-1V1430h-1V1430h-1V1430h-1V1420h-1V1432h-1V1432h-1V1432h-1V1432h-1V1419h-1V1419h-1V1416h-1V1411h-1V1425h-1V1425h-1V1425h-1V1417h-1V1417h-1V1412h-1V1410h-1V1416h-1V1416h-1V1416h-1V1416h-1V1410h-1V1410h-1V1410h-1V1410h-1V1419h-1V1419h-1V1419h-1V1419h-1V1419h-1V1411h-1V1408h-1V1408h-1V1412h-1V1412h-1V1412h-1V1412h-1V1402h-1V1403h-1V1406h-1V1406h-1V1406h-1V1406h-1V1400h-1V1410h-1V1410h-1V1410h-1V1396h-1V1396h-1V1396h-1V1406h-1V1406h-1V1406h-1V1406h-1V1397h-1V1397h-1V1397h-1V1397h-1V1393h-1V1393h-1V1390h-1V1390h-1V1390h-1V1390h-1V1385h-1V1385h-1V1377h-1V1377h-1V1377h-1V1381h-1V1381h-1V1395h-1V1395h-1V1395h-1V1395h-1V1379h-1V1378h-1V1378h-1V1378h-1V1378h-1V1369h-1V1369h-1V1377h-1V1377h-1V1377h-1V1376h-1V1368h-1V1366h-1V1369h-1V1369h-1V1369h-1V1369h-1V1366h-1V1366h-1V1364h-1V1374h-1V1374h-1V1374h-1V1374h-1V1366h-1V1366h-1V1366h-1V1366h-1V1366h-1V1366h-1V1375h-1V1375h-1V1375h-1V1375h-1V1367h-1V1359h-1V1368h-1V1368h-1V1368h-1V1372h-1V1372h-1V1372h-1V1372h-1V1371h-1V1367h-1V1367h-1V1372h-1V1372h-1V1372h-1V1372h-1V1365h-1V1357h-1V1357h-1V1357h-1V1359h-1V1359h-1V1359h-1V1359h-1V1359h-1V1359h-1V1359h-1V1357h-1V1357h-1V1357h-1V1365h-1V1365h-1V1365h-1V1361h-1V1359h-1V1359h-1V1353h-1V1351h-1V1351h-1V1348h-1V1348h-1V1348h-1V1348h-1V1347h-1V1346h-1V1348h-1V1348h-1V1348h-1V1348h-1V1347h-1V1347h-1V1347h-1V1333h-1V1343h-1V1343h-1V1343h-1V1343h-1V1329h-1V1329h-1V1338h-1V1338h-1V1338h-1V1338h-1V1337h-1V1337h-1V1334h-1V1334h-1V1334h-1V1319h-1V1322h-1V1325h-1V1325h-1V1325h-1V1325h-1V1325h-1V1325h-1V1324h-1V1324h-1V1318h-1V1318h-1V1318h-1V1318h-1V1310h-1V1310h-1V1314h-1V1314h-1V1314h-1V1308h-1V1316h-1V1316h-1V1316h-1V1314h-1V1297h-1V1306h-1V1306h-1V1306h-1V1306h-1V1298h-1V1298h-1V1296h-1V1296h-1V1296h-1V1294h-1V1294h-1V1293h-1V1291h-1V1291h-1V1298h-1V1298h-1V1298h-1V1293h-1V1288h-1V1288h-1V1301h-1V1301h-1V1301h-1V1301h-1V1284h-1V1284h-1V1284h-1V1284h-1V1284h-1V1283h-1V1285h-1V1285h-1V1285h-1V1285h-1V1290h-1V1290h-1V1290h-1V1276h-1V1275h-1V1275h-1V1275h-1V1296h-1V1296h-1V1296h-1V1296h-1V1280h-1V1281h-1V1281h-1V1281h-1V1281h-1V1281h-1V1280h-1V1272h-1V1272h-1V1277h-1V1277h-1V1277h-1V1275h-1V1275h-1V1275h-1V1275h-1V1273h-1V1272h-1V1272h-1V1275h-1V1291h-1V1291h-1V1291h-1V1272h-1V1272h-1V1272h-1V1283h-1V1283h-1V1290h-1V1290h-1V1290h-1V1290h-1V1270h-1V1276h-1V1276h-1V1276h-1V1276h-1V1271h-1V1269h-1V1269h-1V1264h-1V1265h-1V1265h-1V1265h-1V1265h-1V1261h-1V1261h-1V1275h-1V1275h-1V1275h-1V1275h-1V1263h-1V1265h-1V1275h-1V1275h-1V1275h-1V1262h-1V1262h-1V1263h-1V1263h-1V1263h-1V1275h-1V1275h-1V1275h-1V1274h-1V1274h-1V1274h-1V1270h-1V1270h-1V1263h-1V1274h-1V1274h-1V1274h-1V1274h-1V1268h-1V1268h-1V1265h-1V1265h-1V1265h-1V1263h-1V1272h-1V1272h-1V1272h-1V1272h-1V1270h-1V1270h-1V1262h-1V1262h-1V1262h-1V1262h-1V1256h-1V1252h-1V1254h-1V1254h-1V1254h-1V1254h-1V1269h-1V1269h-1V1269h-1V1269h-1V1256h-1V1256h-1V1265h-1V1265h-1V1265h-1V1256h-1V1256h-1V1253h-1V1253h-1V1253h-1V1251h-1V1251h-1V1251h-1V1251h-1V1239h-1V1239h-1V1252h-1V1252h-1V1252h-1V1243h-1V1243h-1V1243h-1V1243h-1V1240h-1V1242h-1V1242h-1V1242h-1V1245h-1V1254h-1V1254h-1V1254h-1V1243h-1V1243h-1V1235h-1V1235h-1V1235h-1V1245h-1V1245h-1V1245h-1V1239h-1V1239h-1V1239h-1V1237h-1V1237h-1V1233h-1V1233h-1V1240h-1V1242h-1V1242h-1V1242h-1V1242h-1V1222h-1V1226h-1V1240h-1V1240h-1V1240h-1V1240h-1V1227h-1V1227h-1V1227h-1V1223h-1V1226h-1V1227h-1V1234h-1V1234h-1V1234h-1V1234h-1V1232h-1V1232h-1V1223h-1V1223h-1V1223h-1V1223h-1V1223h-1V1216h-1V1214h-1V1229h-1V1229h-1V1229h-1V1229h-1V1217h-1V1218h-1V1226h-1V1226h-1V1226h-1V1226h-1V1215h-1V1209h-1V1214h-1V1214h-1V1214h-1V1214h-1V1210h-1V1208h-1V1208h-1V1215h-1V1215h-1V1215h-1V1215h-1V1209h-1V1209h-1V1219h-1V1219h-1V1219h-1V1219h-1V1207h-1V1214h-1V1222h-1V1222h-1V1222h-1V1196h-1V1195h-1V1200h-1V1200h-1V1200h-1V1194h-1V1194h-1V1194h-1V1194h-1V1201h-1V1201h-1V1201h-1V1201h-1V1219h-1V1219h-1V1219h-1V1219h-1V1208h-1V1208h-1V1208h-1V1205h-1V1206h-1V1206h-1V1206h-1V1204h-1V1208h-1V1208h-1V1208h-1V1208h-1V1206h-1V1205h-1V1204h-1V1204h-1V1204h-1V1204h-1V1199h-1V1196h-1V1213h-1V1213h-1V1213h-1V1213h-1V1208h-1V1208h-1V1210h-1V1210h-1V1210h-1V1210h-1V1210h-1V1204h-1V1204h-1V1203h-1V1207h-1V1207h-1V1207h-1V1207h-1V1212h-1V1212h-1V1212h-1V1212h-1V1211h-1V1211h-1V1211h-1V1208h-1V1210h-1V1210h-1V1210h-1V1210h-1V1207h-1V1217h-1V1217h-1V1217h-1V1217h-1V1208h-1V1208h-1V1209h-1V1209h-1V1210h-1V1217h-1V1217h-1V1217h-1V1217h-1V1212h-1V1212h-1V1212h-1V1212h-1V1211h-1V1219h-1V1219h-1V1219h-1V1213h-1V1214h-1V1214h-1V1221h-1V1225h-1V1225h-1V1225h-1V1221h-1V1221h-1V1221h-1V1221h-1V1230h-1V1230h-1V1230h-1V1230h-1V1220h-1V1232h-1V1232h-1V1232h-1V1223h-1V1230h-1V1230h-1V1230h-1V1230h-1V1227h-1V1237h-1V1237h-1V1237h-1V1237h-1V1233h-1V1234h-1V1234h-1V1234h-1V1234h-1V1237h-1V1237h-1V1237h-1V1233h-1V1229h-1V1229h-1V1229h-1V1229h-1V1223h-1V1224h-1V1243h-1V1243h-1V1243h-1V1243h-1V1254h-1V1254h-1V1254h-1V1254h-1V1247h-1V1247h-1V1247h-1V1234h-1V1234h-1V1240h-1V1240h-1V1240h-1V1240h-1V1230h-1V1238h-1V1242h-1V1262h-1V1262h-1V1262h-1V1262h-1V1240h-1V1236h-1V1240h-1V1240h-1V1240h-1V1235h-1V1232h-1V1232h-1V1251h-1V1254h-1V1254h-1V1254h-1V1248h-1V1248h-1V1248h-1V1248h-1V1241h-1V1241h-1V1241h-1V1250h-1V1250h-1V1250h-1V1250h-1V1236h-1V1236h-1V1237h-1V1237h-1V1244h-1V1244h-1V1244h-1V1242h-1V1240h-1V1245h-1V1245h-1V1245h-1V1243h-1V1243h-1V1242h-1V1242h-1V1242h-1V1248h-1V1248h-1V1248h-1V1240h-1V1240h-1V1243h-1V1243h-1V1251h-1V1251h-1V1251h-1V1251h-1V1249h-1V1240h-1V1240h-1V1240h-1V1240h-1V1240h-1V1236h-1V1236h-1V1236h-1V1241h-1V1241h-1V1250h-1V1250h-1V1250h-1V1243h-1V1243h-1V1243h-1V1243h-1V1240h-1V1240h-1V1242h-1V1242h-1V1242h-1V1242h-1V1242h-1V1248h-1V1248h-1V1248h-1V1248h-1V1248h-1V1248h-1V1244h-1V1244h-1V1248h-1V1248h-1V1248h-1V1260h-1V1260h-1V1260h-1V1260h-1V1254h-1V1254h-1V1254h-1V1244h-1V1244h-1V1248h-1V1248h-1V1252h-1V1252h-1V1252h-1V1249h-1V1256h-1V1256h-1V1256h-1V1256h-1V1256h-1V1260h-1V1260h-1V1260h-1V1260h-1V1255h-1V1255h-1V1255h-1V1255h-1V1254h-1V1262h-1V1262h-1V1262h-1V1262h-1V1262h-1V1262h-1V1272h-1V1272h-1V1277h-1V1277h-1V1277h-1V1277h-1V1271h-1V1280h-1V1280h-1V1280h-1V1280h-1V1283h-1V1283h-1V1292h-1V1292h-1V1292h-1V1292h-1V1286h-1V1286h-1V1286h-1V1295h-1V1295h-1V1295h-1V1295h-1V1294h-1V1306h-1V1306h-1V1306h-1V1306h-1V1308h-1V1308h-1V1311h-1V1311h-1V1312h-1V1312h-1V1312h-1V1311h-1V1317h-1V1320h-1V1325h-1V1325h-1V1325h-1V1325h-1V1322h-1V1322h-1V1318h-1V1323h-1V1325h-1V1325h-1V1328h-1V1328h-1V1328h-1V1328h-1V1328h-1V1328h-1V1332h-1V1336h-1V1337h-1V1337h-1V1337h-1V1337h-1V1343h-1V1343h-1V1343h-1V1343h-1V1352h-1V1352h-1V1352h-1V1352h-1V1350h-1V1350h-1V1350h-1V1350h-1V1359h-1V1362h-1V1367h-1V1367h-1V1367h-1V1367h-1V1366h-1V1366h-1V1369h-1V1369h-1V1369h-1V1370h-1V1371h-1V1371h-1V1371h-1V1374h-1V1383h-1V1383h-1V1383h-1V1383h-1V1383h-1V1383h-1V1392h-1V1392h-1V1392h-1V1392h-1V1388h-1V1392h-1V1393h-1V1396h-1V1397h-1V1397h-1V1397h-1V1397h-1V1397h-1V1397h-1V1402h-1V1402h-1V1403h-1V1403h-1V1403h-1V1408h-1V1408h-1V1408h-1V1406h-1V1408h-1V1408h-1V1409h-1V1412h-1V1413h-1V1413h-1V1413h-1V1416h-1V1416h-1V1426h-1V1426h-1V1426h-1V1426h-1V1423h-1V1423h-1V1423h-1V1423h-1V1425h-1V1425h-1V1433h-1V1433h-1V1433h-1V1433h-1V1433h-1V1439h-1V1439h-1V1439h-1V1440h-1V1440h-1V1440h-1V1441h-1V1441h-1V1441h-1V1438h-1V1438h-1V1441h-1V1441h-1V1441h-1V1443h-1V1443h-1V1447h-1V1448h-1V1448h-1V1448h-1V1448h-1V1451h-1V1454h-1V1454h-1V1454h-1V1457h-1V1459h-1V1459h-1V1459h-1V1459h-1V1465h-1V1465h-1V1467h-1V1467h-1V1467h-1V1467h-1V1467h-1V1472h-1V1472h-1V1472h-1V1471h-1V1471h-1V1473h-1V1474h-1V1474h-1V1474h-1V1485h-1V1485h-1V1485h-1V1485h-1V1481h-1V1481h-1V1479h-1V1479h-1V1481h-1V1483h-1V1483h-1V1483h-1V1486h-1V1487h-1V1487h-1V1487h-1V1487h-1V1486h-1V1488h-1V1489h-1V1489h-1V1489h-1V1491h-1V1491h-1V1491h-1V1493h-1V1493h-1V1493h-1V1499h-1V1499h-1V1499h-1V1499h-1V1502h-1V1502h-1V1502h-1V1497h-1V1499h-1V1500h-1V1500h-1V1501h-1V1503h-1V1506h-1V1506h-1V1506h-1V1508h-1V1508h-1V1508h-1V1508h-1V1508h-1V1512h-1V1512h-1V1512h-1V1512h-1V1510h-1V1511h-1V1513h-1V1513h-1V1513h-1V1513h-1V1512h-1V1517h-1V1521h-1V1521h-1V1521h-1V1516h-1V1522h-1V1522h-1V1522h-1V1520h-1V1520h-1V1523h-1V1523h-1V1524h-1V1524h-1V1527h-1V1527h-1V1527h-1V1527h-1V1529h-1V1529h-1V1529h-1V1529h-1V1531h-1V1531h-1V1531h-1V1531h-1V1532h-1V1533h-1V1533h-1V1533h-1V1533h-1V1533h-1V1533h-1V1535h-1V1537h-1V1537h-1V1537h-1V1537h-1V1538h-1V1538h-1V1541h-1V1541h-1V1541h-1V1541h-1V1541h-1V1541h-1V1541h-1V1543h-1V1543h-1V1543h-1V1543h-1V1546h-1V1546h-1V1546h-1V1546h-1V1548h-1V1548h-1V1553h-1V1553h-1V1553h-1V1553h-1V1552h-1V1552h-1V1552h-1V1552h-1V1552h-1V1552h-1V1552h-1V1556h-1V1556h-1V1557h-1V1557h-1V1557h-1V1556h-1V1556h-1V1556h-1V1560h-1V1560h-1V1560h-1V1560h-1V1559h-1V1560h-1V1561h-1V1561h-1V1561h-1V1561h-1V1561h-1V1564h-1V1564h-1V1564h-1V1564h-1V1563h-1V1564h-1V1566h-1V1566h-1V1567h-1V1567h-1V1567h-1V1567h-1V1570h-1V1571h-1V1571h-1V1571h-1V1572h-1V1573h-1V1573h-1V1573h-1V1575h-1V1575h-1V1575h-1V1575h-1V1576h-1V1577h-1V1577h-1V1578h-1V1578h-1V1580h-1V1580h-1V1580h-1V1580h-1V1580h-1Z" fill="#006400"/>
<path d="M819.0 494.5 L820.0 497.1 821.0 496.1 822.0 497.8 823.0 495.5 824.0 496.0 825.0 493.3 826.0 488.6 827.0 489.4 828.0 491.0 829.0 491.0 830.0 488.3 831.0 485.4 832.0 483.4 833.0 486.1 834.0 492.8 835.0 484.2 836.0 482.6 837.0 484.7 838.0 484.3 839.0 482.1 840.0 475.9 841.0 478.6 842.0 478.0 843.0 480.5 844.0 476.6 845.0 476.9 846.0 473.9 847.0 474.6 848.0 481.0 849.0 476.7 850.0 474.9 851.0 470.9 852.0 469.1 853.0 474.2 854.0 470.7 855.0 471.5 856.0 470.0 857.0 468.8 858.0 461.2 859.0 469.2 860.0 470.7 861.0 465.4 862.0 464.0 863.0 464.2 864.0 462.1 865.0 457.1 866.0 460.1 867.0 460.1 868.0 462.0 869.0 455.8 870.0 456.6 871.0 456.6 872.0 456.9 873.0 459.9 874.0 455.6 875.0 454.8 876.0 449.0 877.0 455.6 878.0 445.9 879.0 453.3 880.0 451.2 881.0 448.4 882.0 444.5 883.0 448.0 884.0 444.6 885.0 448.7 886.0 436.5 887.0 443.9 888.0 435.9 889.0 442.4 890.0 440.7 891.0 443.1 892.0 437.0 893.0 436.7 894.0 432.8 895.0 436.7 896.0 437.6 897.0 435.7 898.0 432.9 899.0 434.2 900.0 435.5 901.0 434.0 902.0 426.9 903.0 430.0 904.0 428.0 905.0 421.9 906.0 430.3 907.0 428.6 908.0 423.9 909.0 427.2 910.0 425.5 911.0 422.5 912.0 423.7 913.0 421.3 914.0 419.0 915.0 422.9 916.0 414.7 917.0 423.4 918.0 417.9 919.0 415.2 920.0 416.6 921.0 412.0 922.0 412.6 923.0 418.5 924.0 413.5 925.0 410.9 926.0 410.1 927.0 412.4 928.0 411.6 929.0 407.4 930.0 410.9 931.0 406.7 932.0 405.8 933.0 407.3 934.0 402.3 935.0 399.1 936.0 402.3 937.0 404.3 938.0 400.1 939.0 402.5 940.0 402.5 941.0 397.1 942.0 397.0 943.0 395.5 944.0 396.7 945.0 395.1 946.0 393.0 947.0 395.2 948.0 391.2 949.0 389.6 950.0 385.4 951.0 386.5 952.0 388.8 953.0 385.7 954.0 382.8 955.0 380.9 956.0 377.2 957.0 376.6 958.0 380.4 959.0 376.4 960.0 375.4 961.0 377.7 962.0 371.7 963.0 370.4 964.0 374.8 965.0 371.4 966.0 363.9 967.0 367.4 968.0 364.1 969.0 363.8 970.0 363.5 971.0 358.4 972.0 360.0 973.0 366.3 974.0 359.3 975.0 357.4 976.0 360.5 977.0 352.6 978.0 354.8 979.0 358.1 980.0 353.2 981.0 353.0 982.0 350.1 983.0 350.6 984.0 350.3 985.0 346.5 986.0 346.1 987.0 345.2 988.0 337.5 989.0 344.6 990.0 346.0 991.0 341.7 992.0 338.7 993.0 335.6 994.0 336.5 995.0 339.9 996.0 337.3 997.0 329.5 998.0 334.9 999.0 327.0 1000.0 326.0 1001.0 326.3 1002.0 327.4 1003.0 323.8 1004.0 326.3 1005.0 323.2 1006.0 325.9 1007.0 315.9 1008.0 319.3 1009.0 319.9 1010.0 321.5 1011.0 309.4 1012.0 314.0 1013.0 307.5 1014.0 313.8 1015.0 309.6 1016.0 311.2 1017.0 312.1 1018.0 310.5 1019.0 305.9 1020.0 307.2 1021.0 313.6 1022.0 301.0 1023.0 302.9 1024.0 298.0 1025.0 300.7 1026.0 293.9 1027.0 296.7 1028.0 288.5 1029.0 292.1 1030.0 297.8 1031.0 284.4 1032.0 284.5 1033.0 287.6 1034.0 279.4 1035.0 273.7 1036.0 274.2 1037.0 278.5 1038.0 279.8 1039.0 275.0 1040.0 273.3 1041.0 275.1 1042.0 270.0 1043.0 273.1 1044.0 272.3 1045.0 265.1 1046.0 269.1 1047.0 266.1 1048.0 262.3 1049.0 261.6 1050.0 264.3 1051.0 255.7 1052.0 253.6 1053.0 261.9 1054.0 263.7 1055.0 257.2 1056.0 258.9 1057.0 249.1 1058.0 249.4 1059.0 251.2 1060.0 251.0 1061.0 251.9 1062.0 248.9 1063.0 249.4 1064.0 248.1 1065.0 249.9 1066.0 250.5 1067.0 248.9 1068.0 249.6 1069.0 243.0 1070.0 240.9 1071.0 234.8 1072.0 234.1 1073.0 241.4 1074.0 238.8 1075.0 235.8 1076.0 233.0 1077.0 228.2 1078.0 223.2 1079.0 227.3 1080.0 226.8 1081.0 216.9 1082.0 229.1 1083.0 220.3 1084.0 222.6 1085.0 224.1 1086.0 223.2 1087.0 215.2 1088.0 218.2 1089.0 216.5 1090.0 212.0 1091.0 211.4 1092.0 205.6 1093.0 208.3 1094.0 203.5 1095.0 203.6 1096.0 203.3 1097.0 205.0 1098.0 199.2 1099.0 197.6 1100.0 195.6 1101.0 205.9 1102.0 192.8 1103.0 194.7 1104.0 186.0 1105.0 190.4 1106.0 184.4 1107.0 185.5 1108.0 189.0 1109.0 191.4 1110.0 184.3 1111.0 184.8 1112.0 181.9 1113.0 178.4 1114.0 179.2 1115.0 181.4 1116.0 177.4 1117.0 174.0 1118.0 172.5 1119.0 175.0 1120.0 170.8 1121.0 174.5 1122.0 164.4 1123.0 171.6 1124.0 164.4 1125.0 166.0 1126.0 173.3 1127.0 168.0 1128.0 160.7 1129.0 160.0 1130.0 163.7 1131.0 162.5 1132.0 157.3 1133.0 158.9 1134.0 152.9 1135.0 142.3 1136.0 155.9 1137.0 148.2 1138.0 151.0 1139.0 146.6 1140.0 144.7 1141.0 140.9 1142.0 146.1 1143.0 145.1 1144.0 145.6 1145.0 142.2 1146.0 140.0 1147.0 135.1 1148.0 136.4 1149.0 137.1 1150.0 124.4 1151.0 128.8 1152.0 131.8 1153.0 134.9 1154.0 136.3 1155.0 136.7 1156.0 125.8 1157.0 128.3 1158.0 125.2 1159.0 123.2 1160.0 124.3 1161.0 125.6 1162.0 127.8 1163.0 118.1 1164.0 123.1 1165.0 119.3 1166.0 128.7 1167.0 129.8 1168.0 121.0 1169.0 120.1 1170.0 125.5 1171.0 126.9 1172.0 119.1 1173.0 121.5 1174.0 124.4 1175.0 119.2 1176.0 129.6 1177.0 123.8 1178.0 124.1 1179.0 119.3 1180.0 129.1 1181.0 118.8 1182.0 121.5 1183.0 122.2 1184.0 124.2 1185.0 119.1 1186.0 121.9 1187.0 127.5 1188.0 125.1 1189.0 125.9 1190.0 129.5 1191.0 127.5 1192.0 129.8 1193.0 126.0 1194.0 122.4 1195.0 132.8 1196.0 119.4 1197.0 120.8 1198.0 121.8 1199.0 136.1 1200.0 127.1 1201.0 131.3 1202.0 120.8 1203.0 122.8 1204.0 128.7 1205.0 125.8 1206.0 128.4 1207.0 130.6 1208.0 128.9 1209.0 129.3 1210.0 130.4 1211.0 129.4 1212.0 132.3 1213.0 135.8 1214.0 129.1 1215.0 134.9 1216.0 138.4 1217.0 135.2 1218.0 136.6 1219.0 145.5 1220.0 143.7 1221.0 149.4 1222.0 148.7 1223.0 140.8 1224.0 140.3 1225.0 142.7 1226.0 148.1 1227.0 131.4 1228.0 146.0 1229.0 151.2 1230.0 147.0 1231.0 148.7 1232.0 146.9 1233.0 141.6 1234.0 152.6 1235.0 148.0 1236.0 151.5 1237.0 150.1 1238.0 158.3 1239.0 152.8 1240.0 153.1 1241.0 151.4 1242.0 148.9 1243.0 154.3 1244.0 157.5 1245.0 153.7 1246.0 145.5 1247.0 151.7 1248.0 163.2 1249.0 153.7 1250.0 157.3 1251.0 149.6 1252.0 155.6 1253.0 155.1 1254.0 162.4 1255.0 162.4 1256.0 162.8 1257.0 165.3 1258.0 160.0 1259.0 169.5 1260.0 162.4 1261.0 167.7 1262.0 173.2 1263.0 163.3 1264.0 167.6 1265.0 166.3 1266.0 168.0 1267.0 169.3 1268.0 168.4 1269.0 169.4 1270.0 172.9 1271.0 165.3 1272.0 168.3 1273.0 169.9 1274.0 167.0 1275.0 174.6 1276.0 172.0 1277.0 171.0 1278.0 169.7 1279.0 172.3 1280.0 178.3 1281.0 172.1 1282.0 181.6 1283.0 181.2 1284.0 180.6 1285.0 173.5 1286.0 178.0 1287.0 186.2 1288.0 181.6 1289.0 181.2 1290.0 182.6 1291.0 188.3 1292.0 180.7 1293.0 193.4 1294.0 191.6 1295.0 187.8 1296.0 195.6 1297.0 183.5 1298.0 190.5 1299.0 197.7 1300.0 203.4 1301.0 193.4 1302.0 193.1 1303.0 199.0 1304.0 200.0 1305.0 196.7 1306.0 196.6 1307.0 206.1 1308.0 196.1 1309.0 193.4 1310.0 198.2 1311.0 205.1 1312.0 202.7 1313.0 199.7 1314.0 194.7 1315.0 199.6 1316.0 211.4 1317.0 202.4 1318.0 204.2 1319.0 193.6 1320.0 198.3 1321.0 197.7 1322.0 206.9 1323.0 198.8 1324.0 199.7 1325.0 198.1 1326.0 188.6 1327.0 204.6 1328.0 192.5 1329.0 197.8 1330.0 193.8 1331.0 197.7 1332.0 198.3 1333.0 198.2 1334.0 206.1 1335.0 195.6 1336.0 199.3 1337.0 202.8 1338.0 199.1 1339.0 198.8 1340.0 208.8 1341.0 204.3 1342.0 198.0 1343.0 202.5 1344.0 198.1 1345.0 203.7 1346.0 196.3 1347.0 205.5 1348.0 204.0 1349.0 204.0 1350.0 202.8 1351.0 204.0 1352.0 199.8 1353.0 203.7 1354.0 206.1 1355.0 205.7 1356.0 200.4 1357.0 206.7 1358.0 199.8 1359.0 201.9 1360.0 201.6 1361.0 202.8 1362.0 205.0 1363.0 208.4 1364.0 210.2 1365.0 207.9 1366.0 203.3 1367.0 209.5 1368.0 210.6 1369.0 203.8 1370.0 202.3 1371.0 206.6 1372.0 215.2 1373.0 206.4 1374.0 207.0 1375.0 210.8 1376.0 203.4 1377.0 203.9 1378.0 208.0 1379.0 212.0 1380.0 207.6 1381.0 206.4 1382.0 202.4 1383.0 215.7 1384.0 204.5 1385.0 215.0 1386.0 207.0 1387.0 214.7 1388.0 217.1 1389.0 206.9 1390.0 212.9 1391.0 213.7 1392.0 216.0 1393.0 209.9 1394.0 216.3 1395.0 211.9 1396.0 207.6 1397.0 215.9 1398.0 217.1 1399.0 212.1 1400.0 211.8 1401.0 215.6 1402.0 219.5 1403.0 207.9 1404.0 217.3 1405.0 221.4 1406.0 209.8 1407.0 215.9 1408.0 213.9 1409.0 215.3 1410.0 219.1 1411.0 207.8 1412.0 212.3 1413.0 208.9 1414.0 213.4 1415.0 222.3 1416.0 210.7 1417.0 213.2 1418.0 212.8 1419.0 217.0 1420.0 214.2 1421.0 212.5 1422.0 212.7 1423.0 215.2 1424.0 211.1 1425.0 206.5 1426.0 221.0 1427.0 216.9 1428.0 214.1 1429.0 216.0 1430.0 219.8 1431.0 213.5 1432.0 217.2 1433.0 215.1 1434.0 222.3 1435.0 207.7 1436.0 212.0 1437.0 223.5 1438.0 213.1 1439.0 214.9 1440.0 213.3 1441.0 209.0 1442.0 218.2 1443.0 221.5 1444.0 220.1 1445.0 214.1 1446.0 217.1 1447.0 226.0 1448.0 218.8 1449.0 216.0 1450.0 223.6 1451.0 219.0 1452.0 212.9 1453.0 217.2 1454.0 224.6 1455.0 220.5 1456.0 221.0 1457.0 224.3 1458.0 218.9 1459.0 216.3 1460.0 222.6 1461.0 220.4 1462.0 223.2 1463.0 220.7 1464.0 221.0 1465.0 218.7 1466.0 225.8 1467.0 232.7 1468.0 220.5 1469.0 230.3 1470.0 228.8 1471.0 223.9 1472.0 222.8 1473.0 229.3 1474.0 226.1 1475.0 226.7 1476.0 226.4 1477.0 236.0 1478.0 222.6 1479.0 230.9 1480.0 236.9 1481.0 230.4 1482.0 238.5 1483.0 230.4 1484.0 231.3 1485.0 234.0 1486.0 228.4 1487.0 231.5 1488.0 233.9 1489.0 229.3 1490.0 233.8 1491.0 236.4 1492.0 227.9 1493.0 232.1 1494.0 234.2 1495.0 230.1 1496.0 236.9 1497.0 237.8 1498.0 231.1 1499.0 234.3 1500.0 231.1 1501.0 233.1 1502.0 235.5 1503.0 233.2 1504.0 234.6 1505.0 232.4 1506.0 238.7 1507.0 237.8 1508.0 232.0 1509.0 236.6 1510.0 244.5 1511.0 232.9 1512.0 240.0 1513.0 245.0 1514.0 234.2 1515.0 238.1 1516.0 227.0 1517.0 240.5 1518.0 237.9 1519.0 238.7 1520.0 236.4 1521.0 239.4 1522.0 240.1 1523.0 238.7 1524.0 235.2 1525.0 235.7 1526.0 236.6 1527.0 235.9 1528.0 233.7 1529.0 232.3 1530.0 236.8 1531.0 234.0 1532.0 236.2 1533.0 233.1 1534.0 233.0 1535.0 236.8 1536.0 237.8 1537.0 246.9 1538.0 239.0 1539.0 243.4 1540.0 241.8 1541.0 241.4 1542.0 239.6 1543.0 243.4 1544.0 243.4 1545.0 236.8 1546.0 244.7 1547.0 241.9 1548.0 237.3 1549.0 240.7 1550.0 246.5 1551.0 247.7 1552.0 244.3 1553.0 249.6 1554.0 248.5 1555.0 240.4 1556.0 242.5 1557.0 248.1 1558.0 244.0 1559.0 245.4 1560.0 249.1 1561.0 247.3 1562.0 246.2 1563.0 244.1 1564.0 256.7 1565.0 244.8 1566.0 248.5 1567.0 254.2 1568.0 250.3 1569.0 247.5 1570.0 247.1 1571.0 255.4 1572.0 254.3 1573.0 244.9 1574.0 247.2 1575.0 254.6 1576.0 258.3 1577.0 250.9 1578.0 256.4 1579.0 247.6 1580.0 247.6 1581.0 249.4 1582.0 255.7 1583.0 254.9 1584.0 257.0 1585.0 248.5 1586.0 260.7 1587.0 253.7 1588.0 264.6 1589.0 256.5 1590.0 249.5 1591.0 255.8 1592.0 253.2 1593.0 261.7 1594.0 257.3 1595.0 261.0 1596.0 254.1 1597.0 254.4 1598.0 257.7 1599.0 257.6 1600.0 254.2 1601.0 259.3 1602.0 261.7 1603.0 256.5 1604.0 256.1 1605.0 256.2 1606.0 259.8 1607.0 257.6 1608.0 259.5 1609.0 261.9 1610.0 257.0 1611.0 257.1 1612.0 257.0 1613.0 262.9 1614.0 257.4 1615.0 257.8 1616.0 256.4 1617.0 260.3 1618.0 258.5 1619.0 253.0 1620.0 260.0 1621.0 258.0 1622.0 260.5 1623.0 258.1 1624.0 256.0 1625.0 252.7 1626.0 259.4 1627.0 260.2 1628.0 253.1 1629.0 255.9 1630.0 257.8 1631.0 255.9 1632.0 257.9 1633.0 255.5 1634.0 254.9 1635.0 261.3 1636.0 252.0 1637.0 260.0 1638.0 255.7 1639.0 258.7 1640.0 256.8 1641.0 259.9 1642.0 257.8 1643.0 261.1 1644.0 255.9 1645.0 257.5 1646.0 261.0 1647.0 263.9 1648.0 259.5 1649.0 269.0 1650.0 261.8 1651.0 265.9 1652.0 257.8 1653.0 260.9 1654.0 261.3 1655.0 261.1 1656.0 260.2 1657.0 264.3 1658.0 263.4 1659.0 271.8 1660.0 266.8 1661.0 268.3 1662.0 261.1 1663.0 273.1 1664.0 273.7 1665.0 265.7 1666.0 266.3 1667.0 267.7 1668.0 275.2 1669.0 266.9 1670.0 268.4 1671.0 267.1 1672.0 273.5 1673.0 275.8 1674.0 270.6 1675.0 277.8 1676.0 275.2 1677.0 272.6 1678.0 277.6 1679.0 280.4 1680.0 281.0 1681.0 279.2 1682.0 282.2 1683.0 278.7 1684.0 280.3 1685.0 285.5 1686.0 280.1 1687.0 278.6 1688.0 278.0 1689.0 280.8 1690.0 277.2 1691.0 280.8 1692.0 280.8 1693.0 284.5 1694.0 281.5 1695.0 286.1 1696.0 287.2 1697.0 290.4 1698.0 291.9 1699.0 294.3 1700.0 289.6 1701.0 286.9 1702.0 294.4 1703.0 294.1 1704.0 292.4 1705.0 297.1 1706.0 301.5 1707.0 297.5 1708.0 296.1 1709.0 298.9 1710.0 296.4 1711.0 306.2 1712.0 297.4 1713.0 299.0 1714.0 306.1 1715.0 303.4 1716.0 301.3 1717.0 308.8 1718.0 310.5 1719.0 303.1 1720.0 311.0 1721.0 313.1 1722.0 316.9 1723.0 314.0 1724.0 316.1 1725.0 315.5 1726.0 318.8 1727.0 323.3 1728.0 321.7 1729.0 319.3 1730.0 322.5 1731.0 330.1 1732.0 322.1 1733.0 325.7 1734.0 327.0 1735.0 334.5 1736.0 329.5 1737.0 332.4 1738.0 334.9 1739.0 338.1 1740.0 339.7 1741.0 335.7 1742.0 337.0 1743.0 337.3 1744.0 345.9 1745.0 342.8 1746.0 344.9 1747.0 345.1 1748.0 341.3 1749.0 341.4 1750.0 343.3 1751.0 352.6 1752.0 346.0 1753.0 348.9 1754.0 344.7 1755.0 355.5 1756.0 348.4 1757.0 343.8 1758.0 347.2 1759.0 349.8 1760.0 352.0 1761.0 348.2 1762.0 351.3 1763.0 350.4 1764.0 350.3 1765.0 348.6 1766.0 351.0 1767.0 353.1 1768.0 350.0 1769.0 349.1 1770.0 358.1 1771.0 352.0 1772.0 351.9 1773.0 345.8 1774.0 353.1 1775.0 345.3 1776.0 353.2 1777.0 350.7 1778.0 348.3 1779.0 347.6 1780.0 350.0 1781.0 348.3 1782.0 344.5 1783.0 352.3 1784.0 344.8 1785.0 348.6 1786.0 347.6 1787.0 353.3 1788.0 344.5 1789.0 351.6 1790.0 350.0 1791.0 340.5 1792.0 344.6 1793.0 346.6 1794.0 345.6 1795.0 349.1 1796.0 350.1 1797.0 351.5 1798.0 346.6 1799.0 350.2 1800.0 348.3 1801.0 350.5 1802.0 349.1 1803.0 349.5 1804.0 348.9 1805.0 351.5 1806.0 350.7 1807.0 348.0 1808.0 345.2 1809.0 354.2 1810.0 353.9 1811.0 351.9 1812.0 355.8 1813.0 352.9 1814.0 353.1 1815.0 352.7 1816.0 357.9 1817.0 359.8 1818.0 354.7 1819.0 354.1 1820.0 359.2 1821.0 359.2 1822.0 359.0 1823.0 353.8 1824.0 359.0 1825.0 359.2 1826.0 358.4 1827.0 360.9 1828.0 359.7 1829.0 361.7 1830.0 361.0 1831.0 360.8 1832.0 366.7 1833.0 362.4 1834.0 364.8 1835.0 366.2 1836.0 361.7 1837.0 364.4 1838.0 363.2 1839.0 365.7 1840.0 363.7 1841.0 369.9 1842.0 368.2 1843.0 365.6 1844.0 370.8 1845.0 367.6 1846.0 367.1 1847.0 372.8 1848.0 372.4 1849.0 371.0 1850.0 375.5 1851.0 375.5 1852.0 375.4 1853.0 378.2 1854.0 376.9 1855.0 380.0 1856.0 378.1 1857.0 378.6 1858.0 370.8 1859.0 377.8 1860.0 384.1 1861.0 378.0 1862.0 379.5 1863.0 379.1 1864.0 375.9 1865.0 382.5 1866.0 386.3 1867.0 386.0 1868.0 381.4 1869.0 380.0 1870.0 381.2 1871.0 384.2 1872.0 382.2 1873.0 385.5 1874.0 384.5 1875.0 380.9 1876.0 381.4 1877.0 386.8 1878.0 387.1 1879.0 385.2 1880.0 389.3 1881.0 385.6 1882.0 385.2 1883.0 386.1 1884.0 387.9 1885.0 380.9 1886.0 387.4 1887.0 387.7 1888.0 385.4 1889.0 385.6 1890.0 391.2 1891.0 387.1 1892.0 387.8 1893.0 391.2 1894.0 386.0 1895.0 395.7 1896.0 387.7 1897.0 388.3 1898.0 386.5 1899.0 388.8 1900.0 388.2 1901.0 389.7 1902.0 388.3 1903.0 385.3 1904.0 394.5 1905.0 393.7 1906.0 393.7 1907.0 393.6 1908.0 394.0 1909.0 390.9 1910.0 400.2 1911.0 391.7 1912.0 390.4 1913.0 398.7 1914.0 392.9 1915.0 394.2 1916.0 391.8 1917.0 393.9 1918.0 396.0 1919.0 395.8 1920.0 392.2 1921.0 397.4 1922.0 393.8 1923.0 392.1 1924.0 398.4 1925.0 397.2 1926.0 396.1 1927.0 395.0 1928.0 399.0 1929.0 396.7 1930.0 395.9 1931.0 399.3 1932.0 398.8 1933.0 395.4 1934.0 401.7 1935.0 394.8 1936.0 397.2 1937.0 400.3 1938.0 399.5 1939.0 401.9 1940.0 401.6 1941.0 394.7 1942.0 404.0 1943.0 399.8 1944.0 401.3 1945.0 399.7 1946.0 399.2 1947.0 403.6 1948.0 403.5 1949.0 403.2 1950.0 401.3 1951.0 406.9 1952.0 404.3 1953.0 405.1 1954.0 404.1 1955.0 404.9 1956.0 407.2 1957.0 407.2 1958.0 407.6 1959.0 405.5 1960.0 405.8 1961.0 403.0 1962.0 405.6 1963.0 405.0 1964.0 404.6 1965.0 406.8 1966.0 407.2 1967.0 405.6 1968.0 403.5 1969.0 407.2 1970.0 408.1 1971.0 409.0 1972.0 406.5 1973.0 405.7 1974.0 404.7 1975.0 409.2 1976.0 408.1 1977.0 411.1 1978.0 406.6 1979.0 413.3 1980.0 409.9 1981.0 410.1 1982.0 411.2 1983.0 412.7 1984.0 413.1 1985.0 407.2 1986.0 410.4 1987.0 412.9 1988.0 413.5 1989.0 412.9 1990.0 410.5 1991.0 413.8 1992.0 412.6 1993.0 413.3 1994.0 416.3 1995.0 413.5 1996.0 415.0 1997.0 417.5 1998.0 416.7 1999.0 411.8 2000.0 412.4 2001.0 410.6 2002.0 417.8 2003.0 415.2 2004.0 414.7 2005.0 416.0 2006.0 413.7 2007.0 418.0 2008.0 414.9 2009.0 419.3 2010.0 418.1 2011.0 417.7 2012.0 419.4 2013.0 417.9 2014.0 418.7 2015.0 421.8 2016.0 423.1 2017.0 420.9 2018.0 423.2 2019.0 416.9 2020.0 421.0 2021.0 421.0 2022.0 420.4 2023.0 423.0 2024.0 426.4 2025.0 423.7 2026.0 425.4 2027.0 426.4 2028.0 426.6 2029.0 424.2 2030.0 423.1 2031.0 427.4 2032.0 427.1 2033.0 424.6 2034.0 429.6 2035.0 424.6 2036.0 424.1 2037.0 427.0 2038.0 424.7 2039.0 427.6 2040.0 428.2 2041.0 427.5 2042.0 429.3 2043.0 426.8 2044.0 425.0 2045.0 432.0 2046.0 432.6 2047.0 432.8 2048.0 430.5 2049.0 432.7 2050.0 431.4 2051.0 435.0 2052.0 430.3 2053.0 433.8 2054.0 432.6 2055.0 435.4 2056.0 434.4 2057.0 430.9 2058.0 434.3 2059.0 433.3 2060.0 436.7 2061.0 438.0 2062.0 434.0 2063.0 437.8 2064.0 435.1 2065.0 436.6 2066.0 438.3 2067.0 440.9 2068.0 439.7 2069.0 440.5 2070.0 438.5 2071.0 439.5 2072.0 441.5 2073.0 440.9 2074.0 441.3 2075.0 442.1 2076.0 445.1 2077.0 444.9 2078.0 445.4 2079.0 443.6 2080.0 441.5 2081.0 441.1 2082.0 444.2 2083.0 442.2 2084.0 440.6 2085.0 444.3 2086.0 449.8 2087.0 445.6 2088.0 446.3 2089.0 446.2 2090.0 447.0 2091.0 444.3 2092.0 447.8 2093.0 449.3 2094.0 448.5 2095.0 448.9 2096.0 448.7 2097.0 450.4 2098.0 447.0 2099.0 445.6 2100.0 448.9 2101.0 450.2 2102.0 451.8 2103.0 449.4 2104.0 451.6 2105.0 451.5 2106.0 453.3 2107.0 451.2 2108.0 453.7 2109.0 454.3 2110.0 452.6 2111.0 453.1 2112.0 452.8 2113.0 452.6 2114.0 453.1 2115.0 452.5 2116.0 456.4 2117.0 456.0 2118.0 455.3 2119.0 456.0 2120.0 456.2 2121.0 459.4" fill="none" stroke="#00FF00" stroke-width="16" stroke-linejoin="round" stroke-linecap="round"/>
</g>
<g stroke="#000" stroke-width="7" stroke-linecap="round" fill="none">
<rect x="163.5" y="38.5" width="1961" height="1597" stroke-linecap="butt" stroke-linejoin="miter"/>
<line x1="581.5" y1="1636" x2="581.5" y2="1664"/>
<line x1="1104.5" y1="1636" x2="1104.5" y2="1664"/>
<line x1="1178.5" y1="1636" x2="1178.5" y2="1664"/>
<line x1="1627.5" y1="1636" x2="1627.5" y2="1664"/>
<line x1="320.5" y1="1636" x2="320.5" y2="1650.5"/>
<line x1="843" y1="1636" x2="843" y2="1650.5"/>
<line x1="1366" y1="1636" x2="1366" y2="1650.5"/>
<line x1="1889" y1="1636" x2="1889" y2="1650.5"/>
<line x1="163" y1="248.5" x2="133.5" y2="248.5"/>
<line x1="163" y1="669.5" x2="148.5" y2="669.5"/>
<line x1="163" y1="1089.5" x2="133.5" y2="1089.5"/>
<line x1="163" y1="1509" x2="148.5" y2="1509"/>
</g>
<g font-size="95" text-anchor="middle">
<text transform="translate(581.7,1759) scale(1,1.015)">500</text>
<text transform="translate(1104,1759) scale(1,1.015)">600</text>
<text transform="translate(1627.9,1759) scale(1,1.015)">700</text>
</g>
<text transform="translate(769,1881.8) scale(1,1.015)" font-size="95">Wavelength, nm</text>
<text transform="translate(87.9,1368.5) rotate(-90) scale(1,1.015)" font-size="95">FL intensity, arb. un.</text>
<rect x="162.4" y="23.5" width="486.6" height="764.3" fill="#fff" stroke="#000" stroke-width="3.5"/>
<g font-size="66">
<text transform="translate(194,109) scale(1,1.06)">300 K, 532 nm</text>
<text transform="translate(357.3,189.25) scale(1,1.06)">powder</text>
<text transform="translate(357.8,269.5) scale(1,1.06)">crystal</text>
<text transform="translate(194,349.75) scale(1,1.06)">300 K, 405 nm</text>
<text transform="translate(357.3,430) scale(1,1.06)">powder</text>
<text transform="translate(357.8,510.25) scale(1,1.06)">crystal</text>
<text transform="translate(195.9,590.5) scale(1,1.06)">10 K crystal</text>
<text transform="translate(356.8,670.75) scale(1,1.06)">405 nm</text>
<text transform="translate(358,751) scale(1,1.06)">532 nm</text>
</g>
<g stroke-linecap="butt">
<line x1="193" y1="166" x2="339" y2="166" stroke="#00FF00" stroke-width="16" stroke-linecap="round"/>
<line x1="192" y1="246" x2="340" y2="246" stroke="#00C018" stroke-width="2"/>
<line x1="191" y1="406.5" x2="341" y2="406.5" stroke="#0099FF" stroke-width="3"/>
<line x1="191" y1="486.5" x2="341" y2="486.5" stroke="#004DDE" stroke-width="3"/>
<line x1="191" y1="647" x2="341" y2="647" stroke="#000066" stroke-width="3"/>
<line x1="191" y1="727" x2="341" y2="727" stroke="#006400" stroke-width="3"/>
</g>
</svg>
</body></html>
